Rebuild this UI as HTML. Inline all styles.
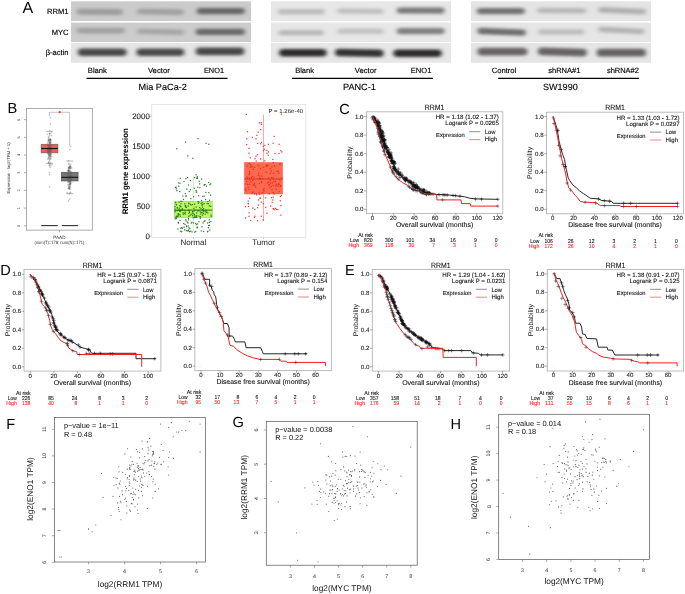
<!DOCTYPE html>
<html><head><meta charset="utf-8"><title>Figure</title>
<style>
html,body{margin:0;padding:0;background:#fff;}
body{width:685px;height:594px;overflow:hidden;}
svg{display:block;will-change:transform;font-family:"Liberation Sans", sans-serif;text-rendering:geometricPrecision;}
</style></head>
<body>
<svg width="685" height="594" viewBox="0 0 685 594">
<defs><filter id="bl" x="-20%" y="-100%" width="140%" height="300%"><feGaussianBlur stdDeviation="1.9 1.7"/></filter></defs>
<rect width="685" height="594" fill="#fff"/>
<text x="22.60" y="12.80" font-size="16" fill="#000">A</text>
<text x="68.60" y="14.20" font-size="7.6" fill="#000" text-anchor="end" stroke="#000" stroke-width="0.15">RRM1</text>
<text x="68.60" y="35.20" font-size="7.6" fill="#000" text-anchor="end" stroke="#000" stroke-width="0.15">MYC</text>
<text x="68.60" y="55.00" font-size="7.6" fill="#000" text-anchor="end" stroke="#000" stroke-width="0.15">β-actin</text>
<rect x="71.00" y="1.30" width="180.00" height="19.70" fill="#cbcbcb" stroke="none" stroke-width="1"/>
<rect x="71.00" y="22.60" width="180.00" height="19.40" fill="#cccccc" stroke="none" stroke-width="1"/>
<rect x="71.00" y="43.00" width="180.00" height="19.80" fill="#e5e5e5" stroke="none" stroke-width="1"/>
<g filter="url(#bl)"><rect x="76.75" y="8.80" width="46.00" height="6.00" rx="3.00" fill="#9c9c9c" transform="rotate(0.24 99.75 11.80)"/></g>
<g filter="url(#bl)"><rect x="137.25" y="9.00" width="46.51" height="5.60" rx="2.80" fill="#a0a0a0" transform="rotate(0.95 160.50 11.80)"/></g>
<g filter="url(#bl)"><rect x="196.75" y="7.90" width="48.00" height="6.40" rx="3.20" fill="#666666"/></g>
<g filter="url(#bl)"><rect x="76.75" y="27.70" width="48.00" height="5.80" rx="2.90" fill="#a0a0a0"/></g>
<g filter="url(#bl)"><rect x="137.24" y="29.00" width="46.51" height="5.60" rx="2.80" fill="#a6a6a6" transform="rotate(1.43 160.50 31.80)"/></g>
<g filter="url(#bl)"><rect x="195.75" y="28.80" width="49.00" height="6.20" rx="3.10" fill="#686868"/></g>
<g filter="url(#bl)"><rect x="77.75" y="48.40" width="48.90" height="7.60" rx="3.80" fill="#4a4646"/></g>
<g filter="url(#bl)"><rect x="136.45" y="48.40" width="47.80" height="7.60" rx="3.80" fill="#4c4848"/></g>
<g filter="url(#bl)"><rect x="195.75" y="47.60" width="48.50" height="7.60" rx="3.80" fill="#4a4646"/></g>
<rect x="271.00" y="1.30" width="180.00" height="19.70" fill="#e7e7e7" stroke="none" stroke-width="1"/>
<rect x="271.00" y="22.60" width="180.00" height="19.40" fill="#e7e7e7" stroke="none" stroke-width="1"/>
<rect x="271.00" y="43.00" width="180.00" height="19.80" fill="#e7e7e7" stroke="none" stroke-width="1"/>
<g filter="url(#bl)"><rect x="277.75" y="8.90" width="47.00" height="5.60" rx="2.80" fill="#bcbcbc"/></g>
<g filter="url(#bl)"><rect x="337.35" y="8.50" width="46.20" height="5.40" rx="2.70" fill="#c0c0c0" transform="rotate(0.48 360.45 11.20)"/></g>
<g filter="url(#bl)"><rect x="396.75" y="7.50" width="47.80" height="6.20" rx="3.10" fill="#7a7a7a" transform="rotate(0.23 420.65 10.60)"/></g>
<g filter="url(#bl)"><rect x="278.25" y="29.90" width="45.60" height="5.60" rx="2.80" fill="#bababa"/></g>
<g filter="url(#bl)"><rect x="337.35" y="28.60" width="46.20" height="5.40" rx="2.70" fill="#c2c2c2"/></g>
<g filter="url(#bl)"><rect x="396.75" y="28.00" width="47.80" height="6.20" rx="3.10" fill="#808080"/></g>
<g filter="url(#bl)"><rect x="279.05" y="48.90" width="47.60" height="7.60" rx="3.80" fill="#2e2a2a"/></g>
<g filter="url(#bl)"><rect x="335.05" y="49.10" width="48.51" height="7.60" rx="3.80" fill="#363232" transform="rotate(1.15 359.30 52.90)"/></g>
<g filter="url(#bl)"><rect x="393.35" y="49.50" width="48.40" height="7.60" rx="3.80" fill="#2e2a2a"/></g>
<rect x="471.00" y="1.30" width="180.00" height="19.70" fill="#e4e4e4" stroke="none" stroke-width="1"/>
<rect x="471.00" y="22.60" width="180.00" height="19.40" fill="#e5e5e5" stroke="none" stroke-width="1"/>
<rect x="471.00" y="43.00" width="180.00" height="19.80" fill="#e5e5e5" stroke="none" stroke-width="1"/>
<g filter="url(#bl)"><rect x="476.85" y="7.90" width="47.90" height="6.40" rx="3.20" fill="#727272"/></g>
<g filter="url(#bl)"><rect x="537.35" y="7.80" width="48.90" height="5.60" rx="2.80" fill="#b8b8b8" transform="rotate(0.23 561.80 10.60)"/></g>
<g filter="url(#bl)"><rect x="598.33" y="7.90" width="47.64" height="5.80" rx="2.90" fill="#b0b0b0" transform="rotate(2.33 622.15 10.80)"/></g>
<g filter="url(#bl)"><rect x="477.43" y="28.60" width="48.44" height="6.40" rx="3.20" fill="#6e6e6e" transform="rotate(2.30 501.65 31.80)"/></g>
<g filter="url(#bl)"><rect x="538.45" y="29.20" width="45.60" height="5.40" rx="2.70" fill="#bcbcbc"/></g>
<g filter="url(#bl)"><rect x="598.32" y="27.60" width="46.26" height="5.60" rx="2.80" fill="#b4b4b4" transform="rotate(2.88 621.45 30.40)"/></g>
<g filter="url(#bl)"><rect x="477.45" y="47.70" width="50.00" height="7.80" rx="3.90" fill="#686464"/></g>
<g filter="url(#bl)"><rect x="537.84" y="48.20" width="49.03" height="7.60" rx="3.80" fill="#686464" transform="rotate(1.81 562.35 52.00)"/></g>
<g filter="url(#bl)"><rect x="596.65" y="48.80" width="49.30" height="7.80" rx="3.90" fill="#666262"/></g>
<text x="87.80" y="72.80" font-size="7.6" fill="#000" textLength="19.10" lengthAdjust="spacingAndGlyphs" stroke="#000" stroke-width="0.15">Blank</text>
<text x="147.90" y="72.80" font-size="7.6" fill="#000" textLength="21.90" lengthAdjust="spacingAndGlyphs" stroke="#000" stroke-width="0.15">Vector</text>
<text x="203.90" y="72.80" font-size="7.6" fill="#000" textLength="20.10" lengthAdjust="spacingAndGlyphs" stroke="#000" stroke-width="0.15">ENO1</text>
<text x="295.20" y="72.80" font-size="7.6" fill="#000" textLength="18.70" lengthAdjust="spacingAndGlyphs" stroke="#000" stroke-width="0.15">Blank</text>
<text x="354.80" y="72.80" font-size="7.6" fill="#000" textLength="21.70" lengthAdjust="spacingAndGlyphs" stroke="#000" stroke-width="0.15">Vector</text>
<text x="410.80" y="72.80" font-size="7.6" fill="#000" textLength="20.60" lengthAdjust="spacingAndGlyphs" stroke="#000" stroke-width="0.15">ENO1</text>
<text x="491.70" y="72.80" font-size="7.6" fill="#000" textLength="24.50" lengthAdjust="spacingAndGlyphs" stroke="#000" stroke-width="0.15">Control</text>
<text x="548.20" y="72.80" font-size="7.6" fill="#000" textLength="32.30" lengthAdjust="spacingAndGlyphs" stroke="#000" stroke-width="0.15">shRNA#1</text>
<text x="606.90" y="72.80" font-size="7.6" fill="#000" textLength="32.00" lengthAdjust="spacingAndGlyphs" stroke="#000" stroke-width="0.15">shRNA#2</text>
<line x1="86.50" y1="78.30" x2="227.60" y2="78.30" stroke="#000" stroke-width="1.3"/>
<line x1="292.10" y1="78.30" x2="433.00" y2="78.30" stroke="#000" stroke-width="1.3"/>
<line x1="498.20" y1="78.30" x2="638.90" y2="78.30" stroke="#000" stroke-width="1.3"/>
<text x="138.60" y="89.90" font-size="9" fill="#000" textLength="48.30" lengthAdjust="spacingAndGlyphs" stroke="#000" stroke-width="0.12">Mia PaCa-2</text>
<text x="343.00" y="89.90" font-size="9" fill="#000" textLength="32.80" lengthAdjust="spacingAndGlyphs" stroke="#000" stroke-width="0.12">PANC-1</text>
<text x="543.00" y="89.90" font-size="9" fill="#000" textLength="34.70" lengthAdjust="spacingAndGlyphs" stroke="#000" stroke-width="0.12">SW1990</text>
<text x="7.60" y="113.20" font-size="14.6" fill="#000">B</text>
<rect x="26.40" y="108.50" width="65.90" height="121.60" fill="none" stroke="#8a8a8a" stroke-width="0.7"/>
<line x1="24.00" y1="225.80" x2="26.40" y2="225.80" stroke="#777" stroke-width="0.6"/>
<text x="20.20" y="225.80" font-size="3.8" fill="#333" text-anchor="middle" transform="rotate(-90 20.20 225.80)">0</text>
<line x1="24.00" y1="208.10" x2="26.40" y2="208.10" stroke="#777" stroke-width="0.6"/>
<text x="20.20" y="208.10" font-size="3.8" fill="#333" text-anchor="middle" transform="rotate(-90 20.20 208.10)">1</text>
<line x1="24.00" y1="190.40" x2="26.40" y2="190.40" stroke="#777" stroke-width="0.6"/>
<text x="20.20" y="190.40" font-size="3.8" fill="#333" text-anchor="middle" transform="rotate(-90 20.20 190.40)">2</text>
<line x1="24.00" y1="172.70" x2="26.40" y2="172.70" stroke="#777" stroke-width="0.6"/>
<text x="20.20" y="172.70" font-size="3.8" fill="#333" text-anchor="middle" transform="rotate(-90 20.20 172.70)">3</text>
<line x1="24.00" y1="155.00" x2="26.40" y2="155.00" stroke="#777" stroke-width="0.6"/>
<text x="20.20" y="155.00" font-size="3.8" fill="#333" text-anchor="middle" transform="rotate(-90 20.20 155.00)">4</text>
<line x1="24.00" y1="137.30" x2="26.40" y2="137.30" stroke="#777" stroke-width="0.6"/>
<text x="20.20" y="137.30" font-size="3.8" fill="#333" text-anchor="middle" transform="rotate(-90 20.20 137.30)">5</text>
<line x1="24.00" y1="119.60" x2="26.40" y2="119.60" stroke="#777" stroke-width="0.6"/>
<text x="20.20" y="119.60" font-size="3.8" fill="#333" text-anchor="middle" transform="rotate(-90 20.20 119.60)">6</text>
<line x1="59.40" y1="230.10" x2="59.40" y2="232.20" stroke="#777" stroke-width="0.6"/>
<text x="59.40" y="239.00" font-size="4.6" fill="#333" text-anchor="middle">PAAD</text>
<text x="59.40" y="244.20" font-size="4.6" fill="#333" text-anchor="middle" textLength="50.00" lengthAdjust="spacingAndGlyphs">(num(T)=178; num(N)=171)</text>
<text x="9.80" y="168.00" font-size="4.2" fill="#333" text-anchor="middle" transform="rotate(-90 9.80 168.00)">Expression - log2(TPM + 1)</text>
<rect x="41.10" y="144.20" width="16.80" height="8.70" fill="#f45a55" stroke="#555" stroke-width="0.5"/>
<rect x="61.30" y="172.20" width="16.80" height="8.80" fill="#767676" stroke="#444" stroke-width="0.5"/>
<line x1="45.90" y1="131.40" x2="53.10" y2="131.40" stroke="#888" stroke-width="0.6"/>
<line x1="45.90" y1="163.40" x2="53.10" y2="163.40" stroke="#888" stroke-width="0.6"/>
<line x1="66.10" y1="161.00" x2="73.30" y2="161.00" stroke="#888" stroke-width="0.6"/>
<line x1="66.10" y1="193.60" x2="73.30" y2="193.60" stroke="#888" stroke-width="0.6"/>
<circle cx="49.34" cy="147.22" r="0.5" fill="none" stroke="#666" stroke-width="0.3"/>
<circle cx="49.02" cy="138.63" r="0.5" fill="none" stroke="#666" stroke-width="0.3"/>
<circle cx="49.07" cy="154.84" r="0.5" fill="none" stroke="#666" stroke-width="0.3"/>
<circle cx="50.39" cy="140.54" r="0.5" fill="none" stroke="#666" stroke-width="0.3"/>
<circle cx="50.09" cy="149.85" r="0.5" fill="none" stroke="#666" stroke-width="0.3"/>
<circle cx="48.48" cy="149.86" r="0.5" fill="none" stroke="#666" stroke-width="0.3"/>
<circle cx="49.91" cy="133.80" r="0.5" fill="none" stroke="#666" stroke-width="0.3"/>
<circle cx="48.97" cy="146.75" r="0.5" fill="none" stroke="#666" stroke-width="0.3"/>
<circle cx="48.67" cy="148.24" r="0.5" fill="none" stroke="#666" stroke-width="0.3"/>
<circle cx="50.86" cy="142.50" r="0.5" fill="none" stroke="#666" stroke-width="0.3"/>
<circle cx="50.40" cy="139.54" r="0.5" fill="none" stroke="#666" stroke-width="0.3"/>
<circle cx="48.70" cy="148.15" r="0.5" fill="none" stroke="#666" stroke-width="0.3"/>
<circle cx="49.59" cy="143.55" r="0.5" fill="none" stroke="#666" stroke-width="0.3"/>
<circle cx="50.05" cy="155.16" r="0.5" fill="none" stroke="#666" stroke-width="0.3"/>
<circle cx="48.80" cy="150.65" r="0.5" fill="none" stroke="#666" stroke-width="0.3"/>
<circle cx="49.37" cy="151.18" r="0.5" fill="none" stroke="#666" stroke-width="0.3"/>
<circle cx="50.23" cy="157.82" r="0.5" fill="none" stroke="#666" stroke-width="0.3"/>
<circle cx="47.53" cy="159.13" r="0.5" fill="none" stroke="#666" stroke-width="0.3"/>
<circle cx="49.86" cy="160.01" r="0.5" fill="none" stroke="#666" stroke-width="0.3"/>
<circle cx="50.31" cy="149.69" r="0.5" fill="none" stroke="#666" stroke-width="0.3"/>
<circle cx="50.05" cy="149.20" r="0.5" fill="none" stroke="#666" stroke-width="0.3"/>
<circle cx="48.02" cy="150.30" r="0.5" fill="none" stroke="#666" stroke-width="0.3"/>
<circle cx="49.85" cy="147.41" r="0.5" fill="none" stroke="#666" stroke-width="0.3"/>
<circle cx="48.55" cy="157.85" r="0.5" fill="none" stroke="#666" stroke-width="0.3"/>
<circle cx="50.13" cy="148.51" r="0.5" fill="none" stroke="#666" stroke-width="0.3"/>
<circle cx="50.17" cy="146.15" r="0.5" fill="none" stroke="#666" stroke-width="0.3"/>
<circle cx="49.74" cy="142.34" r="0.5" fill="none" stroke="#666" stroke-width="0.3"/>
<circle cx="48.66" cy="154.21" r="0.5" fill="none" stroke="#666" stroke-width="0.3"/>
<circle cx="48.85" cy="150.89" r="0.5" fill="none" stroke="#666" stroke-width="0.3"/>
<circle cx="50.44" cy="162.90" r="0.5" fill="none" stroke="#666" stroke-width="0.3"/>
<circle cx="48.51" cy="151.66" r="0.5" fill="none" stroke="#666" stroke-width="0.3"/>
<circle cx="50.05" cy="164.25" r="0.5" fill="none" stroke="#666" stroke-width="0.3"/>
<circle cx="50.06" cy="158.47" r="0.5" fill="none" stroke="#666" stroke-width="0.3"/>
<circle cx="49.19" cy="139.73" r="0.5" fill="none" stroke="#666" stroke-width="0.3"/>
<circle cx="52.13" cy="164.29" r="0.5" fill="none" stroke="#666" stroke-width="0.3"/>
<circle cx="49.58" cy="141.98" r="0.5" fill="none" stroke="#666" stroke-width="0.3"/>
<circle cx="51.86" cy="145.48" r="0.5" fill="none" stroke="#666" stroke-width="0.3"/>
<circle cx="47.28" cy="150.24" r="0.5" fill="none" stroke="#666" stroke-width="0.3"/>
<circle cx="47.03" cy="144.51" r="0.5" fill="none" stroke="#666" stroke-width="0.3"/>
<circle cx="50.58" cy="144.00" r="0.5" fill="none" stroke="#666" stroke-width="0.3"/>
<circle cx="50.20" cy="140.15" r="0.5" fill="none" stroke="#666" stroke-width="0.3"/>
<circle cx="49.16" cy="149.63" r="0.5" fill="none" stroke="#666" stroke-width="0.3"/>
<circle cx="49.44" cy="152.32" r="0.5" fill="none" stroke="#666" stroke-width="0.3"/>
<circle cx="47.41" cy="152.41" r="0.5" fill="none" stroke="#666" stroke-width="0.3"/>
<circle cx="48.81" cy="155.25" r="0.5" fill="none" stroke="#666" stroke-width="0.3"/>
<circle cx="48.36" cy="148.25" r="0.5" fill="none" stroke="#666" stroke-width="0.3"/>
<circle cx="49.26" cy="153.76" r="0.5" fill="none" stroke="#666" stroke-width="0.3"/>
<circle cx="50.47" cy="139.98" r="0.5" fill="none" stroke="#666" stroke-width="0.3"/>
<circle cx="49.56" cy="161.82" r="0.5" fill="none" stroke="#666" stroke-width="0.3"/>
<circle cx="49.91" cy="156.05" r="0.5" fill="none" stroke="#666" stroke-width="0.3"/>
<circle cx="48.73" cy="155.01" r="0.5" fill="none" stroke="#666" stroke-width="0.3"/>
<circle cx="49.02" cy="163.48" r="0.5" fill="none" stroke="#666" stroke-width="0.3"/>
<circle cx="49.62" cy="133.78" r="0.5" fill="none" stroke="#666" stroke-width="0.3"/>
<circle cx="49.19" cy="165.82" r="0.5" fill="none" stroke="#666" stroke-width="0.3"/>
<circle cx="50.89" cy="150.03" r="0.5" fill="none" stroke="#666" stroke-width="0.3"/>
<circle cx="48.54" cy="151.82" r="0.5" fill="none" stroke="#666" stroke-width="0.3"/>
<circle cx="51.58" cy="135.61" r="0.5" fill="none" stroke="#666" stroke-width="0.3"/>
<circle cx="48.42" cy="162.68" r="0.5" fill="none" stroke="#666" stroke-width="0.3"/>
<circle cx="50.67" cy="139.95" r="0.5" fill="none" stroke="#666" stroke-width="0.3"/>
<circle cx="48.65" cy="153.36" r="0.5" fill="none" stroke="#666" stroke-width="0.3"/>
<circle cx="51.31" cy="149.07" r="0.5" fill="none" stroke="#666" stroke-width="0.3"/>
<circle cx="49.65" cy="152.91" r="0.5" fill="none" stroke="#666" stroke-width="0.3"/>
<circle cx="49.94" cy="143.16" r="0.5" fill="none" stroke="#666" stroke-width="0.3"/>
<circle cx="50.32" cy="156.38" r="0.5" fill="none" stroke="#666" stroke-width="0.3"/>
<circle cx="48.80" cy="148.51" r="0.5" fill="none" stroke="#666" stroke-width="0.3"/>
<circle cx="48.35" cy="145.29" r="0.5" fill="none" stroke="#666" stroke-width="0.3"/>
<circle cx="47.27" cy="134.24" r="0.5" fill="none" stroke="#666" stroke-width="0.3"/>
<circle cx="50.84" cy="165.80" r="0.5" fill="none" stroke="#666" stroke-width="0.3"/>
<circle cx="48.73" cy="136.58" r="0.5" fill="none" stroke="#666" stroke-width="0.3"/>
<circle cx="48.85" cy="140.87" r="0.5" fill="none" stroke="#666" stroke-width="0.3"/>
<circle cx="49.47" cy="151.51" r="0.5" fill="none" stroke="#666" stroke-width="0.3"/>
<circle cx="51.69" cy="145.65" r="0.5" fill="none" stroke="#666" stroke-width="0.3"/>
<circle cx="47.60" cy="151.38" r="0.5" fill="none" stroke="#666" stroke-width="0.3"/>
<circle cx="49.77" cy="135.68" r="0.5" fill="none" stroke="#666" stroke-width="0.3"/>
<circle cx="49.06" cy="146.36" r="0.5" fill="none" stroke="#666" stroke-width="0.3"/>
<circle cx="50.09" cy="149.52" r="0.5" fill="none" stroke="#666" stroke-width="0.3"/>
<circle cx="47.52" cy="149.62" r="0.5" fill="none" stroke="#666" stroke-width="0.3"/>
<circle cx="49.06" cy="149.41" r="0.5" fill="none" stroke="#666" stroke-width="0.3"/>
<circle cx="50.42" cy="149.23" r="0.5" fill="none" stroke="#666" stroke-width="0.3"/>
<circle cx="51.21" cy="154.45" r="0.5" fill="none" stroke="#666" stroke-width="0.3"/>
<circle cx="51.26" cy="132.62" r="0.5" fill="none" stroke="#666" stroke-width="0.3"/>
<circle cx="48.56" cy="162.13" r="0.5" fill="none" stroke="#666" stroke-width="0.3"/>
<circle cx="49.56" cy="174.73" r="0.5" fill="none" stroke="#666" stroke-width="0.3"/>
<circle cx="49.38" cy="148.83" r="0.5" fill="none" stroke="#666" stroke-width="0.3"/>
<circle cx="47.99" cy="149.01" r="0.5" fill="none" stroke="#666" stroke-width="0.3"/>
<circle cx="47.92" cy="145.15" r="0.5" fill="none" stroke="#666" stroke-width="0.3"/>
<circle cx="50.33" cy="149.44" r="0.5" fill="none" stroke="#666" stroke-width="0.3"/>
<circle cx="49.77" cy="149.02" r="0.5" fill="none" stroke="#666" stroke-width="0.3"/>
<circle cx="49.34" cy="145.45" r="0.5" fill="none" stroke="#666" stroke-width="0.3"/>
<circle cx="50.84" cy="140.72" r="0.5" fill="none" stroke="#666" stroke-width="0.3"/>
<circle cx="48.40" cy="151.25" r="0.5" fill="none" stroke="#666" stroke-width="0.3"/>
<circle cx="50.08" cy="150.69" r="0.5" fill="none" stroke="#666" stroke-width="0.3"/>
<circle cx="49.51" cy="133.49" r="0.5" fill="none" stroke="#666" stroke-width="0.3"/>
<circle cx="49.43" cy="143.98" r="0.5" fill="none" stroke="#666" stroke-width="0.3"/>
<circle cx="50.04" cy="155.25" r="0.5" fill="none" stroke="#666" stroke-width="0.3"/>
<circle cx="49.69" cy="130.64" r="0.5" fill="none" stroke="#666" stroke-width="0.3"/>
<circle cx="49.79" cy="142.15" r="0.5" fill="none" stroke="#666" stroke-width="0.3"/>
<circle cx="49.79" cy="152.30" r="0.5" fill="none" stroke="#666" stroke-width="0.3"/>
<circle cx="51.63" cy="156.65" r="0.5" fill="none" stroke="#666" stroke-width="0.3"/>
<circle cx="49.16" cy="145.70" r="0.5" fill="none" stroke="#666" stroke-width="0.3"/>
<circle cx="50.61" cy="154.11" r="0.5" fill="none" stroke="#666" stroke-width="0.3"/>
<circle cx="50.17" cy="155.78" r="0.5" fill="none" stroke="#666" stroke-width="0.3"/>
<circle cx="49.12" cy="157.55" r="0.5" fill="none" stroke="#666" stroke-width="0.3"/>
<circle cx="50.38" cy="151.68" r="0.5" fill="none" stroke="#666" stroke-width="0.3"/>
<circle cx="48.56" cy="139.69" r="0.5" fill="none" stroke="#666" stroke-width="0.3"/>
<circle cx="50.78" cy="151.14" r="0.5" fill="none" stroke="#666" stroke-width="0.3"/>
<circle cx="48.61" cy="158.69" r="0.5" fill="none" stroke="#666" stroke-width="0.3"/>
<circle cx="48.96" cy="142.95" r="0.5" fill="none" stroke="#666" stroke-width="0.3"/>
<circle cx="49.86" cy="147.43" r="0.5" fill="none" stroke="#666" stroke-width="0.3"/>
<circle cx="50.42" cy="141.65" r="0.5" fill="none" stroke="#666" stroke-width="0.3"/>
<circle cx="50.50" cy="138.99" r="0.5" fill="none" stroke="#666" stroke-width="0.3"/>
<circle cx="50.48" cy="149.17" r="0.5" fill="none" stroke="#666" stroke-width="0.3"/>
<circle cx="49.27" cy="149.00" r="0.5" fill="none" stroke="#666" stroke-width="0.3"/>
<circle cx="48.45" cy="148.26" r="0.5" fill="none" stroke="#666" stroke-width="0.3"/>
<circle cx="50.10" cy="156.35" r="0.5" fill="none" stroke="#666" stroke-width="0.3"/>
<circle cx="49.83" cy="142.95" r="0.5" fill="none" stroke="#666" stroke-width="0.3"/>
<circle cx="48.45" cy="137.72" r="0.5" fill="none" stroke="#666" stroke-width="0.3"/>
<circle cx="50.57" cy="146.63" r="0.5" fill="none" stroke="#666" stroke-width="0.3"/>
<circle cx="49.72" cy="149.69" r="0.5" fill="none" stroke="#666" stroke-width="0.3"/>
<circle cx="48.45" cy="149.85" r="0.5" fill="none" stroke="#666" stroke-width="0.3"/>
<circle cx="49.99" cy="153.72" r="0.5" fill="none" stroke="#666" stroke-width="0.3"/>
<circle cx="48.04" cy="153.90" r="0.5" fill="none" stroke="#666" stroke-width="0.3"/>
<circle cx="48.53" cy="150.90" r="0.5" fill="none" stroke="#666" stroke-width="0.3"/>
<circle cx="49.94" cy="154.18" r="0.5" fill="none" stroke="#666" stroke-width="0.3"/>
<circle cx="47.79" cy="151.17" r="0.5" fill="none" stroke="#666" stroke-width="0.3"/>
<circle cx="49.54" cy="159.65" r="0.5" fill="none" stroke="#666" stroke-width="0.3"/>
<circle cx="48.01" cy="145.32" r="0.5" fill="none" stroke="#666" stroke-width="0.3"/>
<circle cx="50.31" cy="147.55" r="0.5" fill="none" stroke="#666" stroke-width="0.3"/>
<circle cx="48.70" cy="156.49" r="0.5" fill="none" stroke="#666" stroke-width="0.3"/>
<circle cx="49.70" cy="165.01" r="0.5" fill="none" stroke="#666" stroke-width="0.3"/>
<circle cx="47.85" cy="147.98" r="0.5" fill="none" stroke="#666" stroke-width="0.3"/>
<circle cx="49.12" cy="139.71" r="0.5" fill="none" stroke="#666" stroke-width="0.3"/>
<circle cx="50.54" cy="153.37" r="0.5" fill="none" stroke="#666" stroke-width="0.3"/>
<circle cx="50.00" cy="151.51" r="0.5" fill="none" stroke="#666" stroke-width="0.3"/>
<circle cx="47.48" cy="152.15" r="0.5" fill="none" stroke="#666" stroke-width="0.3"/>
<circle cx="50.52" cy="143.06" r="0.5" fill="none" stroke="#666" stroke-width="0.3"/>
<circle cx="50.48" cy="154.73" r="0.5" fill="none" stroke="#666" stroke-width="0.3"/>
<circle cx="49.09" cy="140.59" r="0.5" fill="none" stroke="#666" stroke-width="0.3"/>
<circle cx="51.06" cy="150.17" r="0.5" fill="none" stroke="#666" stroke-width="0.3"/>
<circle cx="48.33" cy="141.05" r="0.5" fill="none" stroke="#666" stroke-width="0.3"/>
<circle cx="49.41" cy="147.68" r="0.5" fill="none" stroke="#666" stroke-width="0.3"/>
<circle cx="50.73" cy="149.64" r="0.5" fill="none" stroke="#666" stroke-width="0.3"/>
<circle cx="50.94" cy="158.91" r="0.5" fill="none" stroke="#666" stroke-width="0.3"/>
<circle cx="50.91" cy="153.03" r="0.5" fill="none" stroke="#666" stroke-width="0.3"/>
<circle cx="48.30" cy="149.86" r="0.5" fill="none" stroke="#666" stroke-width="0.3"/>
<circle cx="47.54" cy="143.02" r="0.5" fill="none" stroke="#666" stroke-width="0.3"/>
<circle cx="49.93" cy="146.10" r="0.5" fill="none" stroke="#666" stroke-width="0.3"/>
<circle cx="47.93" cy="153.10" r="0.5" fill="none" stroke="#666" stroke-width="0.3"/>
<circle cx="49.36" cy="144.87" r="0.5" fill="none" stroke="#666" stroke-width="0.3"/>
<circle cx="48.09" cy="140.58" r="0.5" fill="none" stroke="#666" stroke-width="0.3"/>
<circle cx="50.67" cy="117.83" r="0.5" fill="none" stroke="#666" stroke-width="0.3"/>
<circle cx="50.38" cy="124.03" r="0.5" fill="none" stroke="#666" stroke-width="0.3"/>
<circle cx="50.11" cy="167.39" r="0.5" fill="none" stroke="#666" stroke-width="0.3"/>
<circle cx="49.52" cy="172.70" r="0.5" fill="none" stroke="#666" stroke-width="0.3"/>
<circle cx="49.55" cy="186.86" r="0.5" fill="none" stroke="#666" stroke-width="0.3"/>
<circle cx="68.08" cy="179.13" r="0.5" fill="none" stroke="#666" stroke-width="0.3"/>
<circle cx="69.06" cy="174.55" r="0.5" fill="none" stroke="#666" stroke-width="0.3"/>
<circle cx="69.42" cy="175.45" r="0.5" fill="none" stroke="#666" stroke-width="0.3"/>
<circle cx="68.75" cy="174.04" r="0.5" fill="none" stroke="#666" stroke-width="0.3"/>
<circle cx="68.47" cy="180.01" r="0.5" fill="none" stroke="#666" stroke-width="0.3"/>
<circle cx="70.70" cy="164.35" r="0.5" fill="none" stroke="#666" stroke-width="0.3"/>
<circle cx="71.79" cy="175.23" r="0.5" fill="none" stroke="#666" stroke-width="0.3"/>
<circle cx="69.38" cy="167.75" r="0.5" fill="none" stroke="#666" stroke-width="0.3"/>
<circle cx="69.23" cy="168.17" r="0.5" fill="none" stroke="#666" stroke-width="0.3"/>
<circle cx="70.25" cy="183.04" r="0.5" fill="none" stroke="#666" stroke-width="0.3"/>
<circle cx="69.45" cy="188.47" r="0.5" fill="none" stroke="#666" stroke-width="0.3"/>
<circle cx="68.84" cy="168.67" r="0.5" fill="none" stroke="#666" stroke-width="0.3"/>
<circle cx="71.23" cy="179.73" r="0.5" fill="none" stroke="#666" stroke-width="0.3"/>
<circle cx="68.55" cy="176.57" r="0.5" fill="none" stroke="#666" stroke-width="0.3"/>
<circle cx="68.90" cy="178.87" r="0.5" fill="none" stroke="#666" stroke-width="0.3"/>
<circle cx="68.97" cy="176.25" r="0.5" fill="none" stroke="#666" stroke-width="0.3"/>
<circle cx="68.73" cy="185.13" r="0.5" fill="none" stroke="#666" stroke-width="0.3"/>
<circle cx="69.44" cy="177.82" r="0.5" fill="none" stroke="#666" stroke-width="0.3"/>
<circle cx="70.33" cy="180.24" r="0.5" fill="none" stroke="#666" stroke-width="0.3"/>
<circle cx="71.29" cy="177.23" r="0.5" fill="none" stroke="#666" stroke-width="0.3"/>
<circle cx="70.43" cy="192.83" r="0.5" fill="none" stroke="#666" stroke-width="0.3"/>
<circle cx="69.74" cy="171.60" r="0.5" fill="none" stroke="#666" stroke-width="0.3"/>
<circle cx="68.32" cy="174.89" r="0.5" fill="none" stroke="#666" stroke-width="0.3"/>
<circle cx="69.63" cy="188.74" r="0.5" fill="none" stroke="#666" stroke-width="0.3"/>
<circle cx="68.66" cy="182.06" r="0.5" fill="none" stroke="#666" stroke-width="0.3"/>
<circle cx="69.59" cy="176.92" r="0.5" fill="none" stroke="#666" stroke-width="0.3"/>
<circle cx="70.78" cy="172.90" r="0.5" fill="none" stroke="#666" stroke-width="0.3"/>
<circle cx="69.92" cy="177.12" r="0.5" fill="none" stroke="#666" stroke-width="0.3"/>
<circle cx="69.47" cy="167.82" r="0.5" fill="none" stroke="#666" stroke-width="0.3"/>
<circle cx="68.87" cy="176.98" r="0.5" fill="none" stroke="#666" stroke-width="0.3"/>
<circle cx="69.68" cy="183.85" r="0.5" fill="none" stroke="#666" stroke-width="0.3"/>
<circle cx="69.82" cy="181.67" r="0.5" fill="none" stroke="#666" stroke-width="0.3"/>
<circle cx="68.68" cy="172.12" r="0.5" fill="none" stroke="#666" stroke-width="0.3"/>
<circle cx="69.14" cy="181.25" r="0.5" fill="none" stroke="#666" stroke-width="0.3"/>
<circle cx="70.67" cy="171.47" r="0.5" fill="none" stroke="#666" stroke-width="0.3"/>
<circle cx="67.87" cy="170.26" r="0.5" fill="none" stroke="#666" stroke-width="0.3"/>
<circle cx="69.21" cy="173.17" r="0.5" fill="none" stroke="#666" stroke-width="0.3"/>
<circle cx="68.42" cy="170.28" r="0.5" fill="none" stroke="#666" stroke-width="0.3"/>
<circle cx="71.40" cy="178.29" r="0.5" fill="none" stroke="#666" stroke-width="0.3"/>
<circle cx="70.37" cy="177.19" r="0.5" fill="none" stroke="#666" stroke-width="0.3"/>
<circle cx="70.27" cy="181.10" r="0.5" fill="none" stroke="#666" stroke-width="0.3"/>
<circle cx="70.14" cy="181.23" r="0.5" fill="none" stroke="#666" stroke-width="0.3"/>
<circle cx="70.02" cy="187.65" r="0.5" fill="none" stroke="#666" stroke-width="0.3"/>
<circle cx="70.02" cy="180.86" r="0.5" fill="none" stroke="#666" stroke-width="0.3"/>
<circle cx="67.96" cy="184.33" r="0.5" fill="none" stroke="#666" stroke-width="0.3"/>
<circle cx="69.98" cy="186.73" r="0.5" fill="none" stroke="#666" stroke-width="0.3"/>
<circle cx="70.35" cy="176.14" r="0.5" fill="none" stroke="#666" stroke-width="0.3"/>
<circle cx="68.13" cy="174.07" r="0.5" fill="none" stroke="#666" stroke-width="0.3"/>
<circle cx="70.61" cy="179.42" r="0.5" fill="none" stroke="#666" stroke-width="0.3"/>
<circle cx="70.43" cy="167.92" r="0.5" fill="none" stroke="#666" stroke-width="0.3"/>
<circle cx="68.03" cy="170.80" r="0.5" fill="none" stroke="#666" stroke-width="0.3"/>
<circle cx="69.18" cy="170.10" r="0.5" fill="none" stroke="#666" stroke-width="0.3"/>
<circle cx="69.36" cy="181.19" r="0.5" fill="none" stroke="#666" stroke-width="0.3"/>
<circle cx="69.12" cy="187.16" r="0.5" fill="none" stroke="#666" stroke-width="0.3"/>
<circle cx="70.13" cy="173.37" r="0.5" fill="none" stroke="#666" stroke-width="0.3"/>
<circle cx="68.30" cy="175.05" r="0.5" fill="none" stroke="#666" stroke-width="0.3"/>
<circle cx="69.45" cy="172.24" r="0.5" fill="none" stroke="#666" stroke-width="0.3"/>
<circle cx="69.95" cy="174.32" r="0.5" fill="none" stroke="#666" stroke-width="0.3"/>
<circle cx="70.50" cy="168.65" r="0.5" fill="none" stroke="#666" stroke-width="0.3"/>
<circle cx="69.75" cy="179.06" r="0.5" fill="none" stroke="#666" stroke-width="0.3"/>
<circle cx="69.43" cy="172.63" r="0.5" fill="none" stroke="#666" stroke-width="0.3"/>
<circle cx="70.46" cy="183.15" r="0.5" fill="none" stroke="#666" stroke-width="0.3"/>
<circle cx="67.51" cy="192.66" r="0.5" fill="none" stroke="#666" stroke-width="0.3"/>
<circle cx="70.73" cy="180.11" r="0.5" fill="none" stroke="#666" stroke-width="0.3"/>
<circle cx="69.36" cy="167.04" r="0.5" fill="none" stroke="#666" stroke-width="0.3"/>
<circle cx="68.32" cy="188.40" r="0.5" fill="none" stroke="#666" stroke-width="0.3"/>
<circle cx="69.23" cy="170.28" r="0.5" fill="none" stroke="#666" stroke-width="0.3"/>
<circle cx="67.68" cy="181.70" r="0.5" fill="none" stroke="#666" stroke-width="0.3"/>
<circle cx="67.45" cy="179.81" r="0.5" fill="none" stroke="#666" stroke-width="0.3"/>
<circle cx="69.34" cy="176.83" r="0.5" fill="none" stroke="#666" stroke-width="0.3"/>
<circle cx="68.84" cy="175.70" r="0.5" fill="none" stroke="#666" stroke-width="0.3"/>
<circle cx="70.51" cy="183.68" r="0.5" fill="none" stroke="#666" stroke-width="0.3"/>
<circle cx="68.72" cy="176.28" r="0.5" fill="none" stroke="#666" stroke-width="0.3"/>
<circle cx="68.28" cy="174.14" r="0.5" fill="none" stroke="#666" stroke-width="0.3"/>
<circle cx="68.65" cy="171.51" r="0.5" fill="none" stroke="#666" stroke-width="0.3"/>
<circle cx="71.59" cy="182.20" r="0.5" fill="none" stroke="#666" stroke-width="0.3"/>
<circle cx="69.73" cy="166.69" r="0.5" fill="none" stroke="#666" stroke-width="0.3"/>
<circle cx="69.03" cy="164.30" r="0.5" fill="none" stroke="#666" stroke-width="0.3"/>
<circle cx="68.61" cy="160.88" r="0.5" fill="none" stroke="#666" stroke-width="0.3"/>
<circle cx="68.49" cy="186.14" r="0.5" fill="none" stroke="#666" stroke-width="0.3"/>
<circle cx="69.52" cy="175.96" r="0.5" fill="none" stroke="#666" stroke-width="0.3"/>
<circle cx="70.17" cy="189.63" r="0.5" fill="none" stroke="#666" stroke-width="0.3"/>
<circle cx="70.97" cy="174.58" r="0.5" fill="none" stroke="#666" stroke-width="0.3"/>
<circle cx="70.96" cy="173.39" r="0.5" fill="none" stroke="#666" stroke-width="0.3"/>
<circle cx="70.00" cy="184.85" r="0.5" fill="none" stroke="#666" stroke-width="0.3"/>
<circle cx="68.97" cy="187.79" r="0.5" fill="none" stroke="#666" stroke-width="0.3"/>
<circle cx="68.75" cy="175.87" r="0.5" fill="none" stroke="#666" stroke-width="0.3"/>
<circle cx="67.16" cy="172.90" r="0.5" fill="none" stroke="#666" stroke-width="0.3"/>
<circle cx="68.58" cy="182.46" r="0.5" fill="none" stroke="#666" stroke-width="0.3"/>
<circle cx="70.16" cy="178.88" r="0.5" fill="none" stroke="#666" stroke-width="0.3"/>
<circle cx="69.33" cy="194.12" r="0.5" fill="none" stroke="#666" stroke-width="0.3"/>
<circle cx="70.10" cy="181.88" r="0.5" fill="none" stroke="#666" stroke-width="0.3"/>
<circle cx="68.22" cy="176.14" r="0.5" fill="none" stroke="#666" stroke-width="0.3"/>
<circle cx="70.69" cy="176.10" r="0.5" fill="none" stroke="#666" stroke-width="0.3"/>
<circle cx="70.02" cy="166.48" r="0.5" fill="none" stroke="#666" stroke-width="0.3"/>
<circle cx="69.75" cy="184.80" r="0.5" fill="none" stroke="#666" stroke-width="0.3"/>
<circle cx="70.14" cy="192.27" r="0.5" fill="none" stroke="#666" stroke-width="0.3"/>
<circle cx="67.24" cy="174.08" r="0.5" fill="none" stroke="#666" stroke-width="0.3"/>
<circle cx="69.09" cy="181.10" r="0.5" fill="none" stroke="#666" stroke-width="0.3"/>
<circle cx="68.71" cy="175.20" r="0.5" fill="none" stroke="#666" stroke-width="0.3"/>
<circle cx="71.69" cy="172.29" r="0.5" fill="none" stroke="#666" stroke-width="0.3"/>
<circle cx="69.50" cy="173.09" r="0.5" fill="none" stroke="#666" stroke-width="0.3"/>
<circle cx="69.14" cy="167.43" r="0.5" fill="none" stroke="#666" stroke-width="0.3"/>
<circle cx="70.64" cy="168.03" r="0.5" fill="none" stroke="#666" stroke-width="0.3"/>
<circle cx="68.54" cy="188.32" r="0.5" fill="none" stroke="#666" stroke-width="0.3"/>
<circle cx="71.26" cy="177.55" r="0.5" fill="none" stroke="#666" stroke-width="0.3"/>
<circle cx="68.93" cy="163.67" r="0.5" fill="none" stroke="#666" stroke-width="0.3"/>
<circle cx="69.63" cy="179.86" r="0.5" fill="none" stroke="#666" stroke-width="0.3"/>
<circle cx="68.69" cy="170.62" r="0.5" fill="none" stroke="#666" stroke-width="0.3"/>
<circle cx="70.59" cy="177.50" r="0.5" fill="none" stroke="#666" stroke-width="0.3"/>
<circle cx="67.31" cy="179.95" r="0.5" fill="none" stroke="#666" stroke-width="0.3"/>
<circle cx="70.46" cy="166.48" r="0.5" fill="none" stroke="#666" stroke-width="0.3"/>
<circle cx="68.80" cy="170.12" r="0.5" fill="none" stroke="#666" stroke-width="0.3"/>
<circle cx="69.75" cy="178.76" r="0.5" fill="none" stroke="#666" stroke-width="0.3"/>
<circle cx="68.43" cy="171.02" r="0.5" fill="none" stroke="#666" stroke-width="0.3"/>
<circle cx="69.95" cy="185.96" r="0.5" fill="none" stroke="#666" stroke-width="0.3"/>
<circle cx="69.91" cy="182.00" r="0.5" fill="none" stroke="#666" stroke-width="0.3"/>
<circle cx="70.35" cy="171.06" r="0.5" fill="none" stroke="#666" stroke-width="0.3"/>
<circle cx="70.05" cy="176.86" r="0.5" fill="none" stroke="#666" stroke-width="0.3"/>
<circle cx="70.39" cy="184.27" r="0.5" fill="none" stroke="#666" stroke-width="0.3"/>
<circle cx="70.79" cy="174.10" r="0.5" fill="none" stroke="#666" stroke-width="0.3"/>
<circle cx="69.27" cy="174.91" r="0.5" fill="none" stroke="#666" stroke-width="0.3"/>
<circle cx="68.40" cy="168.48" r="0.5" fill="none" stroke="#666" stroke-width="0.3"/>
<circle cx="68.29" cy="170.69" r="0.5" fill="none" stroke="#666" stroke-width="0.3"/>
<circle cx="70.45" cy="178.98" r="0.5" fill="none" stroke="#666" stroke-width="0.3"/>
<circle cx="69.29" cy="180.38" r="0.5" fill="none" stroke="#666" stroke-width="0.3"/>
<circle cx="70.86" cy="178.06" r="0.5" fill="none" stroke="#666" stroke-width="0.3"/>
<circle cx="69.75" cy="178.67" r="0.5" fill="none" stroke="#666" stroke-width="0.3"/>
<circle cx="68.59" cy="167.29" r="0.5" fill="none" stroke="#666" stroke-width="0.3"/>
<circle cx="70.70" cy="166.44" r="0.5" fill="none" stroke="#666" stroke-width="0.3"/>
<circle cx="71.84" cy="168.00" r="0.5" fill="none" stroke="#666" stroke-width="0.3"/>
<circle cx="69.50" cy="174.57" r="0.5" fill="none" stroke="#666" stroke-width="0.3"/>
<circle cx="68.67" cy="178.77" r="0.5" fill="none" stroke="#666" stroke-width="0.3"/>
<circle cx="68.77" cy="171.05" r="0.5" fill="none" stroke="#666" stroke-width="0.3"/>
<circle cx="70.68" cy="179.47" r="0.5" fill="none" stroke="#666" stroke-width="0.3"/>
<circle cx="69.06" cy="175.54" r="0.5" fill="none" stroke="#666" stroke-width="0.3"/>
<circle cx="69.25" cy="188.33" r="0.5" fill="none" stroke="#666" stroke-width="0.3"/>
<circle cx="70.45" cy="179.97" r="0.5" fill="none" stroke="#666" stroke-width="0.3"/>
<circle cx="69.71" cy="167.44" r="0.5" fill="none" stroke="#666" stroke-width="0.3"/>
<circle cx="69.83" cy="184.03" r="0.5" fill="none" stroke="#666" stroke-width="0.3"/>
<circle cx="69.10" cy="187.16" r="0.5" fill="none" stroke="#666" stroke-width="0.3"/>
<circle cx="69.00" cy="178.23" r="0.5" fill="none" stroke="#666" stroke-width="0.3"/>
<circle cx="69.88" cy="165.91" r="0.5" fill="none" stroke="#666" stroke-width="0.3"/>
<circle cx="69.87" cy="167.37" r="0.5" fill="none" stroke="#666" stroke-width="0.3"/>
<circle cx="70.35" cy="179.54" r="0.5" fill="none" stroke="#666" stroke-width="0.3"/>
<circle cx="69.15" cy="180.34" r="0.5" fill="none" stroke="#666" stroke-width="0.3"/>
<circle cx="70.08" cy="177.87" r="0.5" fill="none" stroke="#666" stroke-width="0.3"/>
<circle cx="70.22" cy="183.39" r="0.5" fill="none" stroke="#666" stroke-width="0.3"/>
<circle cx="69.79" cy="176.88" r="0.5" fill="none" stroke="#666" stroke-width="0.3"/>
<circle cx="70.33" cy="179.14" r="0.5" fill="none" stroke="#666" stroke-width="0.3"/>
<circle cx="70.81" cy="146.15" r="0.5" fill="none" stroke="#666" stroke-width="0.3"/>
<circle cx="69.92" cy="149.69" r="0.5" fill="none" stroke="#666" stroke-width="0.3"/>
<circle cx="69.79" cy="199.25" r="0.5" fill="none" stroke="#666" stroke-width="0.3"/>
<circle cx="68.63" cy="201.02" r="0.5" fill="none" stroke="#666" stroke-width="0.3"/>
<line x1="41.10" y1="148.50" x2="57.90" y2="148.50" stroke="#111" stroke-width="1.1"/>
<line x1="61.30" y1="177.30" x2="78.10" y2="177.30" stroke="#111" stroke-width="1.1"/>
<line x1="41.30" y1="225.60" x2="57.70" y2="225.60" stroke="#333" stroke-width="1.1"/>
<line x1="61.80" y1="225.60" x2="78.10" y2="225.60" stroke="#333" stroke-width="1.1"/>
<polyline points="49.40,116.50 49.40,112.30 69.60,112.30 69.60,146.00" fill="none" stroke="#888" stroke-width="0.5" stroke-linejoin="miter"/>
<circle cx="59.7" cy="112.2" r="1.1" fill="#f33"/>
<rect x="151.70" y="104.40" width="154.10" height="133.10" fill="#fff" stroke="#e2e2e2" stroke-width="0.8"/>
<line x1="150.00" y1="236.00" x2="151.70" y2="236.00" stroke="#888" stroke-width="0.5"/>
<text x="149.80" y="238.85" font-size="7.9" fill="#222" text-anchor="end" stroke="#222" stroke-width="0.1">0</text>
<line x1="150.00" y1="206.03" x2="151.70" y2="206.03" stroke="#888" stroke-width="0.5"/>
<text x="149.80" y="208.88" font-size="7.9" fill="#222" text-anchor="end" stroke="#222" stroke-width="0.1">500</text>
<line x1="150.00" y1="176.05" x2="151.70" y2="176.05" stroke="#888" stroke-width="0.5"/>
<text x="149.80" y="178.90" font-size="7.9" fill="#222" text-anchor="end" stroke="#222" stroke-width="0.1">1000</text>
<line x1="150.00" y1="146.07" x2="151.70" y2="146.07" stroke="#888" stroke-width="0.5"/>
<text x="149.80" y="148.92" font-size="7.9" fill="#222" text-anchor="end" stroke="#222" stroke-width="0.1">1500</text>
<line x1="150.00" y1="116.10" x2="151.70" y2="116.10" stroke="#888" stroke-width="0.5"/>
<text x="149.80" y="118.95" font-size="7.9" fill="#222" text-anchor="end" stroke="#222" stroke-width="0.1">2000</text>
<text x="128.30" y="171.30" font-size="8.1" fill="#000" text-anchor="middle" font-weight="bold" textLength="86.00" lengthAdjust="spacingAndGlyphs" transform="rotate(-90 128.30 171.30)">RRM1 gene expression</text>
<line x1="193.30" y1="237.50" x2="193.30" y2="239.00" stroke="#888" stroke-width="0.5"/>
<line x1="263.50" y1="237.50" x2="263.50" y2="239.00" stroke="#888" stroke-width="0.5"/>
<text x="193.30" y="245.20" font-size="8.0" fill="#222" text-anchor="middle">Normal</text>
<text x="263.60" y="245.10" font-size="8.0" fill="#222" text-anchor="middle">Tumor</text>
<text x="268.40" y="112.70" font-size="5.9" fill="#222" textLength="34.80" lengthAdjust="spacingAndGlyphs">P = 1.26e-40</text>
<line x1="193.30" y1="176.60" x2="193.30" y2="231.30" stroke="#8fcf7f" stroke-width="0.45"/>
<rect x="174.30" y="201.40" width="38.00" height="16.00" fill="#bdf862" stroke="#86c25a" stroke-width="0.5"/>
<rect x="203.50" y="202.95" width="1.2" height="1.2" fill="#2b7a2b"/>
<rect x="208.16" y="182.00" width="1.2" height="1.2" fill="#2b7a2b"/>
<rect x="208.93" y="224.82" width="1.2" height="1.2" fill="#2b7a2b"/>
<rect x="178.54" y="201.52" width="1.2" height="1.2" fill="#2b7a2b"/>
<rect x="194.30" y="215.04" width="1.2" height="1.2" fill="#2b7a2b"/>
<rect x="182.33" y="209.50" width="1.2" height="1.2" fill="#2b7a2b"/>
<rect x="202.43" y="210.22" width="1.2" height="1.2" fill="#2b7a2b"/>
<rect x="179.48" y="219.86" width="1.2" height="1.2" fill="#2b7a2b"/>
<rect x="174.46" y="208.48" width="1.2" height="1.2" fill="#2b7a2b"/>
<rect x="182.29" y="195.36" width="1.2" height="1.2" fill="#2b7a2b"/>
<rect x="184.99" y="141.45" width="1.2" height="1.2" fill="#2b7a2b"/>
<rect x="199.21" y="187.05" width="1.2" height="1.2" fill="#2b7a2b"/>
<rect x="199.68" y="217.70" width="1.2" height="1.2" fill="#2b7a2b"/>
<rect x="185.34" y="178.13" width="1.2" height="1.2" fill="#2b7a2b"/>
<rect x="179.73" y="215.62" width="1.2" height="1.2" fill="#2b7a2b"/>
<rect x="196.47" y="227.29" width="1.2" height="1.2" fill="#2b7a2b"/>
<rect x="186.77" y="221.64" width="1.2" height="1.2" fill="#2b7a2b"/>
<rect x="192.00" y="210.93" width="1.2" height="1.2" fill="#2b7a2b"/>
<rect x="200.19" y="213.35" width="1.2" height="1.2" fill="#2b7a2b"/>
<rect x="175.24" y="217.19" width="1.2" height="1.2" fill="#2b7a2b"/>
<rect x="175.06" y="202.02" width="1.2" height="1.2" fill="#2b7a2b"/>
<rect x="195.57" y="191.41" width="1.2" height="1.2" fill="#2b7a2b"/>
<rect x="181.02" y="231.10" width="1.2" height="1.2" fill="#2b7a2b"/>
<rect x="202.06" y="195.68" width="1.2" height="1.2" fill="#2b7a2b"/>
<rect x="187.00" y="176.91" width="1.2" height="1.2" fill="#2b7a2b"/>
<rect x="202.79" y="213.04" width="1.2" height="1.2" fill="#2b7a2b"/>
<rect x="203.58" y="220.59" width="1.2" height="1.2" fill="#2b7a2b"/>
<rect x="209.02" y="199.71" width="1.2" height="1.2" fill="#2b7a2b"/>
<rect x="196.76" y="226.70" width="1.2" height="1.2" fill="#2b7a2b"/>
<rect x="208.23" y="192.07" width="1.2" height="1.2" fill="#2b7a2b"/>
<rect x="185.99" y="206.81" width="1.2" height="1.2" fill="#2b7a2b"/>
<rect x="179.85" y="230.63" width="1.2" height="1.2" fill="#2b7a2b"/>
<rect x="180.31" y="200.66" width="1.2" height="1.2" fill="#2b7a2b"/>
<rect x="193.93" y="217.01" width="1.2" height="1.2" fill="#2b7a2b"/>
<rect x="196.14" y="215.11" width="1.2" height="1.2" fill="#2b7a2b"/>
<rect x="189.84" y="189.16" width="1.2" height="1.2" fill="#2b7a2b"/>
<rect x="175.60" y="218.07" width="1.2" height="1.2" fill="#2b7a2b"/>
<rect x="179.18" y="210.78" width="1.2" height="1.2" fill="#2b7a2b"/>
<rect x="197.47" y="201.08" width="1.2" height="1.2" fill="#2b7a2b"/>
<rect x="190.30" y="197.94" width="1.2" height="1.2" fill="#2b7a2b"/>
<rect x="185.19" y="219.14" width="1.2" height="1.2" fill="#2b7a2b"/>
<rect x="205.59" y="209.63" width="1.2" height="1.2" fill="#2b7a2b"/>
<rect x="192.27" y="157.78" width="1.2" height="1.2" fill="#2b7a2b"/>
<rect x="185.05" y="205.31" width="1.2" height="1.2" fill="#2b7a2b"/>
<rect x="188.20" y="215.76" width="1.2" height="1.2" fill="#2b7a2b"/>
<rect x="197.35" y="138.05" width="1.2" height="1.2" fill="#2b7a2b"/>
<rect x="177.66" y="214.38" width="1.2" height="1.2" fill="#2b7a2b"/>
<rect x="206.15" y="211.19" width="1.2" height="1.2" fill="#2b7a2b"/>
<rect x="202.76" y="211.16" width="1.2" height="1.2" fill="#2b7a2b"/>
<rect x="202.20" y="203.65" width="1.2" height="1.2" fill="#2b7a2b"/>
<rect x="184.68" y="211.75" width="1.2" height="1.2" fill="#2b7a2b"/>
<rect x="199.69" y="211.28" width="1.2" height="1.2" fill="#2b7a2b"/>
<rect x="198.18" y="210.01" width="1.2" height="1.2" fill="#2b7a2b"/>
<rect x="194.42" y="209.52" width="1.2" height="1.2" fill="#2b7a2b"/>
<rect x="191.34" y="221.74" width="1.2" height="1.2" fill="#2b7a2b"/>
<rect x="203.59" y="184.33" width="1.2" height="1.2" fill="#2b7a2b"/>
<rect x="201.40" y="212.18" width="1.2" height="1.2" fill="#2b7a2b"/>
<rect x="205.25" y="191.82" width="1.2" height="1.2" fill="#2b7a2b"/>
<rect x="210.13" y="183.30" width="1.2" height="1.2" fill="#2b7a2b"/>
<rect x="193.77" y="187.58" width="1.2" height="1.2" fill="#2b7a2b"/>
<rect x="208.71" y="219.26" width="1.2" height="1.2" fill="#2b7a2b"/>
<rect x="200.74" y="211.84" width="1.2" height="1.2" fill="#2b7a2b"/>
<rect x="202.96" y="208.08" width="1.2" height="1.2" fill="#2b7a2b"/>
<rect x="189.80" y="203.64" width="1.2" height="1.2" fill="#2b7a2b"/>
<rect x="197.71" y="202.65" width="1.2" height="1.2" fill="#2b7a2b"/>
<rect x="180.26" y="209.37" width="1.2" height="1.2" fill="#2b7a2b"/>
<rect x="182.42" y="212.14" width="1.2" height="1.2" fill="#2b7a2b"/>
<rect x="175.93" y="203.95" width="1.2" height="1.2" fill="#2b7a2b"/>
<rect x="176.38" y="215.19" width="1.2" height="1.2" fill="#2b7a2b"/>
<rect x="181.04" y="227.05" width="1.2" height="1.2" fill="#2b7a2b"/>
<rect x="191.43" y="231.27" width="1.2" height="1.2" fill="#2b7a2b"/>
<rect x="196.00" y="212.41" width="1.2" height="1.2" fill="#2b7a2b"/>
<rect x="174.42" y="218.27" width="1.2" height="1.2" fill="#2b7a2b"/>
<rect x="189.41" y="214.81" width="1.2" height="1.2" fill="#2b7a2b"/>
<rect x="188.08" y="219.34" width="1.2" height="1.2" fill="#2b7a2b"/>
<rect x="177.87" y="222.61" width="1.2" height="1.2" fill="#2b7a2b"/>
<rect x="195.66" y="206.57" width="1.2" height="1.2" fill="#2b7a2b"/>
<rect x="189.74" y="180.02" width="1.2" height="1.2" fill="#2b7a2b"/>
<rect x="187.92" y="184.46" width="1.2" height="1.2" fill="#2b7a2b"/>
<rect x="195.04" y="222.87" width="1.2" height="1.2" fill="#2b7a2b"/>
<rect x="196.68" y="176.26" width="1.2" height="1.2" fill="#2b7a2b"/>
<rect x="174.43" y="210.39" width="1.2" height="1.2" fill="#2b7a2b"/>
<rect x="196.92" y="223.32" width="1.2" height="1.2" fill="#2b7a2b"/>
<rect x="207.02" y="222.37" width="1.2" height="1.2" fill="#2b7a2b"/>
<rect x="182.68" y="213.71" width="1.2" height="1.2" fill="#2b7a2b"/>
<rect x="188.30" y="209.82" width="1.2" height="1.2" fill="#2b7a2b"/>
<rect x="196.21" y="177.62" width="1.2" height="1.2" fill="#2b7a2b"/>
<rect x="192.56" y="217.10" width="1.2" height="1.2" fill="#2b7a2b"/>
<rect x="210.42" y="214.52" width="1.2" height="1.2" fill="#2b7a2b"/>
<rect x="191.86" y="214.76" width="1.2" height="1.2" fill="#2b7a2b"/>
<rect x="190.63" y="222.49" width="1.2" height="1.2" fill="#2b7a2b"/>
<rect x="204.66" y="211.19" width="1.2" height="1.2" fill="#2b7a2b"/>
<rect x="184.42" y="223.82" width="1.2" height="1.2" fill="#2b7a2b"/>
<rect x="183.39" y="180.94" width="1.2" height="1.2" fill="#2b7a2b"/>
<rect x="210.59" y="215.70" width="1.2" height="1.2" fill="#2b7a2b"/>
<rect x="191.77" y="212.44" width="1.2" height="1.2" fill="#2b7a2b"/>
<rect x="201.61" y="204.19" width="1.2" height="1.2" fill="#2b7a2b"/>
<rect x="185.41" y="220.41" width="1.2" height="1.2" fill="#2b7a2b"/>
<rect x="185.26" y="206.60" width="1.2" height="1.2" fill="#2b7a2b"/>
<rect x="187.61" y="205.45" width="1.2" height="1.2" fill="#2b7a2b"/>
<rect x="175.73" y="204.31" width="1.2" height="1.2" fill="#2b7a2b"/>
<rect x="207.95" y="224.97" width="1.2" height="1.2" fill="#2b7a2b"/>
<rect x="174.93" y="186.89" width="1.2" height="1.2" fill="#2b7a2b"/>
<rect x="195.47" y="189.86" width="1.2" height="1.2" fill="#2b7a2b"/>
<rect x="192.04" y="203.94" width="1.2" height="1.2" fill="#2b7a2b"/>
<rect x="188.74" y="190.92" width="1.2" height="1.2" fill="#2b7a2b"/>
<rect x="185.25" y="195.68" width="1.2" height="1.2" fill="#2b7a2b"/>
<rect x="205.01" y="198.97" width="1.2" height="1.2" fill="#2b7a2b"/>
<rect x="184.88" y="205.73" width="1.2" height="1.2" fill="#2b7a2b"/>
<rect x="179.62" y="177.70" width="1.2" height="1.2" fill="#2b7a2b"/>
<rect x="192.62" y="212.87" width="1.2" height="1.2" fill="#2b7a2b"/>
<rect x="195.84" y="215.71" width="1.2" height="1.2" fill="#2b7a2b"/>
<rect x="182.82" y="198.91" width="1.2" height="1.2" fill="#2b7a2b"/>
<rect x="198.69" y="180.69" width="1.2" height="1.2" fill="#2b7a2b"/>
<rect x="210.22" y="220.97" width="1.2" height="1.2" fill="#2b7a2b"/>
<rect x="176.19" y="148.12" width="1.2" height="1.2" fill="#2b7a2b"/>
<rect x="198.03" y="195.11" width="1.2" height="1.2" fill="#2b7a2b"/>
<rect x="179.33" y="182.69" width="1.2" height="1.2" fill="#2b7a2b"/>
<rect x="179.88" y="210.21" width="1.2" height="1.2" fill="#2b7a2b"/>
<rect x="180.30" y="205.90" width="1.2" height="1.2" fill="#2b7a2b"/>
<rect x="178.36" y="209.23" width="1.2" height="1.2" fill="#2b7a2b"/>
<rect x="176.51" y="216.30" width="1.2" height="1.2" fill="#2b7a2b"/>
<rect x="206.55" y="202.95" width="1.2" height="1.2" fill="#2b7a2b"/>
<rect x="185.91" y="225.33" width="1.2" height="1.2" fill="#2b7a2b"/>
<rect x="208.75" y="205.22" width="1.2" height="1.2" fill="#2b7a2b"/>
<rect x="199.92" y="216.41" width="1.2" height="1.2" fill="#2b7a2b"/>
<rect x="192.91" y="222.34" width="1.2" height="1.2" fill="#2b7a2b"/>
<rect x="197.12" y="186.66" width="1.2" height="1.2" fill="#2b7a2b"/>
<rect x="183.70" y="212.85" width="1.2" height="1.2" fill="#2b7a2b"/>
<rect x="179.30" y="204.97" width="1.2" height="1.2" fill="#2b7a2b"/>
<rect x="201.37" y="226.24" width="1.2" height="1.2" fill="#2b7a2b"/>
<rect x="198.37" y="221.11" width="1.2" height="1.2" fill="#2b7a2b"/>
<rect x="177.74" y="221.79" width="1.2" height="1.2" fill="#2b7a2b"/>
<rect x="183.13" y="222.90" width="1.2" height="1.2" fill="#2b7a2b"/>
<rect x="186.23" y="188.53" width="1.2" height="1.2" fill="#2b7a2b"/>
<rect x="200.94" y="199.89" width="1.2" height="1.2" fill="#2b7a2b"/>
<rect x="209.24" y="229.54" width="1.2" height="1.2" fill="#2b7a2b"/>
<rect x="178.65" y="207.62" width="1.2" height="1.2" fill="#2b7a2b"/>
<rect x="204.43" y="183.88" width="1.2" height="1.2" fill="#2b7a2b"/>
<rect x="187.37" y="222.44" width="1.2" height="1.2" fill="#2b7a2b"/>
<rect x="196.86" y="226.81" width="1.2" height="1.2" fill="#2b7a2b"/>
<rect x="179.39" y="214.04" width="1.2" height="1.2" fill="#2b7a2b"/>
<rect x="203.84" y="184.32" width="1.2" height="1.2" fill="#2b7a2b"/>
<rect x="193.34" y="210.69" width="1.2" height="1.2" fill="#2b7a2b"/>
<rect x="201.49" y="204.47" width="1.2" height="1.2" fill="#2b7a2b"/>
<rect x="175.61" y="216.12" width="1.2" height="1.2" fill="#2b7a2b"/>
<rect x="206.95" y="231.21" width="1.2" height="1.2" fill="#2b7a2b"/>
<rect x="174.42" y="211.35" width="1.2" height="1.2" fill="#2b7a2b"/>
<rect x="197.07" y="210.41" width="1.2" height="1.2" fill="#2b7a2b"/>
<rect x="178.05" y="213.47" width="1.2" height="1.2" fill="#2b7a2b"/>
<rect x="188.11" y="229.42" width="1.2" height="1.2" fill="#2b7a2b"/>
<rect x="179.97" y="210.48" width="1.2" height="1.2" fill="#2b7a2b"/>
<rect x="180.31" y="227.64" width="1.2" height="1.2" fill="#2b7a2b"/>
<rect x="192.04" y="215.12" width="1.2" height="1.2" fill="#2b7a2b"/>
<rect x="187.90" y="217.95" width="1.2" height="1.2" fill="#2b7a2b"/>
<rect x="199.06" y="183.31" width="1.2" height="1.2" fill="#2b7a2b"/>
<rect x="178.72" y="210.01" width="1.2" height="1.2" fill="#2b7a2b"/>
<rect x="199.09" y="207.00" width="1.2" height="1.2" fill="#2b7a2b"/>
<rect x="181.76" y="208.15" width="1.2" height="1.2" fill="#2b7a2b"/>
<rect x="177.26" y="228.35" width="1.2" height="1.2" fill="#2b7a2b"/>
<rect x="187.73" y="209.81" width="1.2" height="1.2" fill="#2b7a2b"/>
<rect x="184.76" y="213.45" width="1.2" height="1.2" fill="#2b7a2b"/>
<rect x="180.38" y="203.17" width="1.2" height="1.2" fill="#2b7a2b"/>
<rect x="208.82" y="221.73" width="1.2" height="1.2" fill="#2b7a2b"/>
<rect x="210.10" y="205.75" width="1.2" height="1.2" fill="#2b7a2b"/>
<rect x="202.92" y="230.89" width="1.2" height="1.2" fill="#2b7a2b"/>
<rect x="194.47" y="216.49" width="1.2" height="1.2" fill="#2b7a2b"/>
<rect x="187.21" y="155.23" width="1.2" height="1.2" fill="#2b7a2b"/>
<rect x="207.30" y="230.74" width="1.2" height="1.2" fill="#2b7a2b"/>
<rect x="176.37" y="210.08" width="1.2" height="1.2" fill="#2b7a2b"/>
<rect x="188.94" y="231.05" width="1.2" height="1.2" fill="#2b7a2b"/>
<rect x="189.31" y="227.97" width="1.2" height="1.2" fill="#2b7a2b"/>
<rect x="175.78" y="216.45" width="1.2" height="1.2" fill="#2b7a2b"/>
<rect x="193.02" y="196.11" width="1.2" height="1.2" fill="#2b7a2b"/>
<rect x="177.49" y="212.99" width="1.2" height="1.2" fill="#2b7a2b"/>
<rect x="194.23" y="216.04" width="1.2" height="1.2" fill="#2b7a2b"/>
<rect x="205.76" y="185.56" width="1.2" height="1.2" fill="#2b7a2b"/>
<rect x="194.15" y="231.54" width="1.2" height="1.2" fill="#2b7a2b"/>
<rect x="188.18" y="212.70" width="1.2" height="1.2" fill="#2b7a2b"/>
<rect x="207.82" y="203.10" width="1.2" height="1.2" fill="#2b7a2b"/>
<rect x="204.65" y="213.59" width="1.2" height="1.2" fill="#2b7a2b"/>
<rect x="185.81" y="230.07" width="1.2" height="1.2" fill="#2b7a2b"/>
<rect x="204.39" y="220.23" width="1.2" height="1.2" fill="#2b7a2b"/>
<rect x="177.40" y="215.88" width="1.2" height="1.2" fill="#2b7a2b"/>
<rect x="190.09" y="230.54" width="1.2" height="1.2" fill="#2b7a2b"/>
<rect x="176.65" y="207.41" width="1.2" height="1.2" fill="#2b7a2b"/>
<rect x="181.71" y="209.19" width="1.2" height="1.2" fill="#2b7a2b"/>
<rect x="178.01" y="214.13" width="1.2" height="1.2" fill="#2b7a2b"/>
<rect x="201.93" y="214.56" width="1.2" height="1.2" fill="#2b7a2b"/>
<rect x="198.34" y="201.56" width="1.2" height="1.2" fill="#2b7a2b"/>
<rect x="190.58" y="204.45" width="1.2" height="1.2" fill="#2b7a2b"/>
<rect x="209.34" y="184.13" width="1.2" height="1.2" fill="#2b7a2b"/>
<rect x="184.20" y="203.32" width="1.2" height="1.2" fill="#2b7a2b"/>
<rect x="179.17" y="191.00" width="1.2" height="1.2" fill="#2b7a2b"/>
<rect x="184.01" y="229.26" width="1.2" height="1.2" fill="#2b7a2b"/>
<rect x="176.72" y="207.05" width="1.2" height="1.2" fill="#2b7a2b"/>
<rect x="175.41" y="186.60" width="1.2" height="1.2" fill="#2b7a2b"/>
<rect x="187.47" y="229.85" width="1.2" height="1.2" fill="#2b7a2b"/>
<rect x="196.80" y="176.73" width="1.2" height="1.2" fill="#2b7a2b"/>
<rect x="187.66" y="225.37" width="1.2" height="1.2" fill="#2b7a2b"/>
<rect x="195.79" y="216.73" width="1.2" height="1.2" fill="#2b7a2b"/>
<rect x="177.89" y="182.33" width="1.2" height="1.2" fill="#2b7a2b"/>
<rect x="200.37" y="208.08" width="1.2" height="1.2" fill="#2b7a2b"/>
<rect x="203.49" y="210.06" width="1.2" height="1.2" fill="#2b7a2b"/>
<rect x="207.89" y="227.05" width="1.2" height="1.2" fill="#2b7a2b"/>
<rect x="190.56" y="213.69" width="1.2" height="1.2" fill="#2b7a2b"/>
<rect x="193.89" y="177.05" width="1.2" height="1.2" fill="#2b7a2b"/>
<rect x="178.19" y="185.62" width="1.2" height="1.2" fill="#2b7a2b"/>
<rect x="176.31" y="190.07" width="1.2" height="1.2" fill="#2b7a2b"/>
<rect x="195.52" y="174.17" width="1.2" height="1.2" fill="#2b7a2b"/>
<rect x="188.77" y="210.47" width="1.2" height="1.2" fill="#2b7a2b"/>
<rect x="181.76" y="227.65" width="1.2" height="1.2" fill="#2b7a2b"/>
<rect x="201.89" y="206.41" width="1.2" height="1.2" fill="#2b7a2b"/>
<rect x="183.49" y="226.53" width="1.2" height="1.2" fill="#2b7a2b"/>
<rect x="205.50" y="142.71" width="1.2" height="1.2" fill="#2b7a2b"/>
<rect x="179.64" y="206.02" width="1.2" height="1.2" fill="#2b7a2b"/>
<rect x="175.78" y="188.29" width="1.2" height="1.2" fill="#2b7a2b"/>
<rect x="200.67" y="230.32" width="1.2" height="1.2" fill="#2b7a2b"/>
<rect x="203.57" y="195.61" width="1.2" height="1.2" fill="#2b7a2b"/>
<rect x="205.99" y="211.90" width="1.2" height="1.2" fill="#2b7a2b"/>
<rect x="188.18" y="202.42" width="1.2" height="1.2" fill="#2b7a2b"/>
<rect x="195.87" y="224.13" width="1.2" height="1.2" fill="#2b7a2b"/>
<rect x="186.01" y="225.97" width="1.2" height="1.2" fill="#2b7a2b"/>
<rect x="188.41" y="227.13" width="1.2" height="1.2" fill="#2b7a2b"/>
<rect x="189.01" y="211.76" width="1.2" height="1.2" fill="#2b7a2b"/>
<rect x="208.21" y="143.67" width="1.2" height="1.2" fill="#2b7a2b"/>
<rect x="194.04" y="203.59" width="1.2" height="1.2" fill="#2b7a2b"/>
<rect x="196.12" y="191.49" width="1.2" height="1.2" fill="#2b7a2b"/>
<rect x="184.80" y="204.93" width="1.2" height="1.2" fill="#2b7a2b"/>
<rect x="187.42" y="230.50" width="1.2" height="1.2" fill="#2b7a2b"/>
<rect x="200.55" y="202.79" width="1.2" height="1.2" fill="#2b7a2b"/>
<rect x="184.45" y="210.13" width="1.2" height="1.2" fill="#2b7a2b"/>
<rect x="201.97" y="208.97" width="1.2" height="1.2" fill="#2b7a2b"/>
<rect x="207.24" y="201.02" width="1.2" height="1.2" fill="#2b7a2b"/>
<rect x="201.43" y="202.08" width="1.2" height="1.2" fill="#2b7a2b"/>
<rect x="193.31" y="207.74" width="1.2" height="1.2" fill="#2b7a2b"/>
<rect x="210.07" y="194.61" width="1.2" height="1.2" fill="#2b7a2b"/>
<rect x="174.51" y="206.08" width="1.2" height="1.2" fill="#2b7a2b"/>
<rect x="198.30" y="215.53" width="1.2" height="1.2" fill="#2b7a2b"/>
<rect x="196.86" y="177.71" width="1.2" height="1.2" fill="#2b7a2b"/>
<rect x="199.61" y="216.03" width="1.2" height="1.2" fill="#2b7a2b"/>
<rect x="188.09" y="203.19" width="1.2" height="1.2" fill="#2b7a2b"/>
<rect x="185.58" y="195.27" width="1.2" height="1.2" fill="#2b7a2b"/>
<rect x="207.24" y="212.34" width="1.2" height="1.2" fill="#2b7a2b"/>
<rect x="202.45" y="222.32" width="1.2" height="1.2" fill="#2b7a2b"/>
<rect x="195.11" y="230.86" width="1.2" height="1.2" fill="#2b7a2b"/>
<rect x="201.05" y="178.51" width="1.2" height="1.2" fill="#2b7a2b"/>
<rect x="193.75" y="213.76" width="1.2" height="1.2" fill="#2b7a2b"/>
<rect x="184.68" y="193.02" width="1.2" height="1.2" fill="#2b7a2b"/>
<rect x="181.25" y="200.93" width="1.2" height="1.2" fill="#2b7a2b"/>
<line x1="174.30" y1="210.10" x2="212.30" y2="210.10" stroke="#2a6a1a" stroke-width="1.0"/>
<line x1="263.50" y1="114.50" x2="263.50" y2="221.20" stroke="#ff5040" stroke-width="0.5"/>
<rect x="244.40" y="162.50" width="38.20" height="31.50" fill="#ff6a4f" stroke="#ff5a45" stroke-width="0.5"/>
<rect x="265.19" y="206.69" width="1.2" height="1.2" fill="#ff2323"/>
<rect x="251.56" y="175.96" width="1.2" height="1.2" fill="#ff2323"/>
<rect x="269.86" y="168.20" width="1.2" height="1.2" fill="#ff2323"/>
<rect x="262.34" y="178.02" width="1.2" height="1.2" fill="#ff2323"/>
<rect x="256.26" y="134.72" width="1.2" height="1.2" fill="#ff2323"/>
<rect x="278.52" y="143.70" width="1.2" height="1.2" fill="#ff2323"/>
<rect x="275.37" y="183.41" width="1.2" height="1.2" fill="#ff2323"/>
<rect x="251.68" y="191.98" width="1.2" height="1.2" fill="#ff2323"/>
<rect x="250.16" y="219.84" width="1.2" height="1.2" fill="#ff2323"/>
<rect x="272.35" y="177.29" width="1.2" height="1.2" fill="#ff2323"/>
<rect x="274.02" y="165.34" width="1.2" height="1.2" fill="#ff2323"/>
<rect x="279.62" y="163.54" width="1.2" height="1.2" fill="#ff2323"/>
<rect x="248.38" y="162.85" width="1.2" height="1.2" fill="#ff2323"/>
<rect x="252.15" y="207.46" width="1.2" height="1.2" fill="#ff2323"/>
<rect x="269.51" y="186.84" width="1.2" height="1.2" fill="#ff2323"/>
<rect x="259.36" y="177.64" width="1.2" height="1.2" fill="#ff2323"/>
<rect x="248.90" y="172.75" width="1.2" height="1.2" fill="#ff2323"/>
<rect x="269.62" y="172.76" width="1.2" height="1.2" fill="#ff2323"/>
<rect x="279.19" y="179.58" width="1.2" height="1.2" fill="#ff2323"/>
<rect x="271.00" y="197.04" width="1.2" height="1.2" fill="#ff2323"/>
<rect x="262.13" y="191.75" width="1.2" height="1.2" fill="#ff2323"/>
<rect x="278.21" y="182.83" width="1.2" height="1.2" fill="#ff2323"/>
<rect x="262.85" y="189.25" width="1.2" height="1.2" fill="#ff2323"/>
<rect x="265.67" y="165.80" width="1.2" height="1.2" fill="#ff2323"/>
<rect x="275.64" y="188.59" width="1.2" height="1.2" fill="#ff2323"/>
<rect x="260.00" y="178.20" width="1.2" height="1.2" fill="#ff2323"/>
<rect x="247.29" y="183.85" width="1.2" height="1.2" fill="#ff2323"/>
<rect x="262.08" y="192.05" width="1.2" height="1.2" fill="#ff2323"/>
<rect x="258.74" y="122.13" width="1.2" height="1.2" fill="#ff2323"/>
<rect x="257.62" y="131.56" width="1.2" height="1.2" fill="#ff2323"/>
<rect x="272.63" y="162.11" width="1.2" height="1.2" fill="#ff2323"/>
<rect x="253.78" y="193.20" width="1.2" height="1.2" fill="#ff2323"/>
<rect x="263.51" y="187.93" width="1.2" height="1.2" fill="#ff2323"/>
<rect x="280.26" y="205.15" width="1.2" height="1.2" fill="#ff2323"/>
<rect x="247.72" y="186.65" width="1.2" height="1.2" fill="#ff2323"/>
<rect x="269.75" y="179.70" width="1.2" height="1.2" fill="#ff2323"/>
<rect x="258.97" y="178.16" width="1.2" height="1.2" fill="#ff2323"/>
<rect x="266.32" y="149.75" width="1.2" height="1.2" fill="#ff2323"/>
<rect x="267.87" y="143.70" width="1.2" height="1.2" fill="#ff2323"/>
<rect x="272.77" y="208.07" width="1.2" height="1.2" fill="#ff2323"/>
<rect x="274.82" y="180.86" width="1.2" height="1.2" fill="#ff2323"/>
<rect x="281.17" y="151.37" width="1.2" height="1.2" fill="#ff2323"/>
<rect x="250.02" y="164.08" width="1.2" height="1.2" fill="#ff2323"/>
<rect x="280.18" y="150.11" width="1.2" height="1.2" fill="#ff2323"/>
<rect x="260.02" y="128.94" width="1.2" height="1.2" fill="#ff2323"/>
<rect x="255.09" y="186.67" width="1.2" height="1.2" fill="#ff2323"/>
<rect x="250.79" y="176.98" width="1.2" height="1.2" fill="#ff2323"/>
<rect x="258.55" y="192.37" width="1.2" height="1.2" fill="#ff2323"/>
<rect x="251.79" y="136.78" width="1.2" height="1.2" fill="#ff2323"/>
<rect x="279.76" y="196.01" width="1.2" height="1.2" fill="#ff2323"/>
<rect x="253.26" y="176.76" width="1.2" height="1.2" fill="#ff2323"/>
<rect x="245.74" y="113.81" width="1.2" height="1.2" fill="#ff2323"/>
<rect x="254.36" y="215.61" width="1.2" height="1.2" fill="#ff2323"/>
<rect x="272.97" y="172.79" width="1.2" height="1.2" fill="#ff2323"/>
<rect x="280.28" y="214.49" width="1.2" height="1.2" fill="#ff2323"/>
<rect x="248.66" y="177.54" width="1.2" height="1.2" fill="#ff2323"/>
<rect x="258.09" y="172.75" width="1.2" height="1.2" fill="#ff2323"/>
<rect x="279.95" y="185.07" width="1.2" height="1.2" fill="#ff2323"/>
<rect x="254.23" y="185.25" width="1.2" height="1.2" fill="#ff2323"/>
<rect x="249.49" y="166.77" width="1.2" height="1.2" fill="#ff2323"/>
<rect x="244.90" y="183.28" width="1.2" height="1.2" fill="#ff2323"/>
<rect x="263.05" y="150.21" width="1.2" height="1.2" fill="#ff2323"/>
<rect x="246.65" y="165.74" width="1.2" height="1.2" fill="#ff2323"/>
<rect x="258.71" y="178.40" width="1.2" height="1.2" fill="#ff2323"/>
<rect x="255.50" y="193.13" width="1.2" height="1.2" fill="#ff2323"/>
<rect x="278.45" y="184.01" width="1.2" height="1.2" fill="#ff2323"/>
<rect x="270.70" y="185.81" width="1.2" height="1.2" fill="#ff2323"/>
<rect x="280.76" y="113.56" width="1.2" height="1.2" fill="#ff2323"/>
<rect x="278.71" y="191.04" width="1.2" height="1.2" fill="#ff2323"/>
<rect x="271.55" y="201.70" width="1.2" height="1.2" fill="#ff2323"/>
<rect x="278.44" y="172.52" width="1.2" height="1.2" fill="#ff2323"/>
<rect x="274.97" y="185.50" width="1.2" height="1.2" fill="#ff2323"/>
<rect x="262.69" y="203.16" width="1.2" height="1.2" fill="#ff2323"/>
<rect x="261.21" y="175.57" width="1.2" height="1.2" fill="#ff2323"/>
<rect x="257.12" y="207.10" width="1.2" height="1.2" fill="#ff2323"/>
<rect x="254.24" y="208.83" width="1.2" height="1.2" fill="#ff2323"/>
<rect x="271.73" y="182.16" width="1.2" height="1.2" fill="#ff2323"/>
<rect x="267.50" y="181.50" width="1.2" height="1.2" fill="#ff2323"/>
<rect x="253.59" y="184.39" width="1.2" height="1.2" fill="#ff2323"/>
<rect x="260.65" y="180.82" width="1.2" height="1.2" fill="#ff2323"/>
<rect x="249.63" y="157.17" width="1.2" height="1.2" fill="#ff2323"/>
<rect x="265.14" y="197.34" width="1.2" height="1.2" fill="#ff2323"/>
<rect x="274.76" y="207.77" width="1.2" height="1.2" fill="#ff2323"/>
<rect x="246.06" y="180.90" width="1.2" height="1.2" fill="#ff2323"/>
<rect x="270.99" y="177.08" width="1.2" height="1.2" fill="#ff2323"/>
<rect x="252.71" y="168.77" width="1.2" height="1.2" fill="#ff2323"/>
<rect x="246.94" y="131.16" width="1.2" height="1.2" fill="#ff2323"/>
<rect x="247.05" y="177.49" width="1.2" height="1.2" fill="#ff2323"/>
<rect x="277.25" y="184.10" width="1.2" height="1.2" fill="#ff2323"/>
<rect x="268.14" y="177.88" width="1.2" height="1.2" fill="#ff2323"/>
<rect x="272.21" y="158.79" width="1.2" height="1.2" fill="#ff2323"/>
<rect x="244.65" y="189.14" width="1.2" height="1.2" fill="#ff2323"/>
<rect x="277.61" y="170.39" width="1.2" height="1.2" fill="#ff2323"/>
<rect x="252.52" y="191.20" width="1.2" height="1.2" fill="#ff2323"/>
<rect x="252.11" y="179.81" width="1.2" height="1.2" fill="#ff2323"/>
<rect x="247.50" y="203.14" width="1.2" height="1.2" fill="#ff2323"/>
<rect x="268.41" y="184.49" width="1.2" height="1.2" fill="#ff2323"/>
<rect x="262.58" y="219.26" width="1.2" height="1.2" fill="#ff2323"/>
<rect x="265.58" y="171.54" width="1.2" height="1.2" fill="#ff2323"/>
<rect x="254.40" y="158.09" width="1.2" height="1.2" fill="#ff2323"/>
<rect x="277.55" y="185.72" width="1.2" height="1.2" fill="#ff2323"/>
<rect x="259.96" y="167.93" width="1.2" height="1.2" fill="#ff2323"/>
<rect x="255.35" y="138.21" width="1.2" height="1.2" fill="#ff2323"/>
<rect x="257.69" y="204.54" width="1.2" height="1.2" fill="#ff2323"/>
<rect x="267.64" y="154.65" width="1.2" height="1.2" fill="#ff2323"/>
<rect x="248.86" y="163.00" width="1.2" height="1.2" fill="#ff2323"/>
<rect x="248.37" y="152.58" width="1.2" height="1.2" fill="#ff2323"/>
<rect x="265.92" y="164.87" width="1.2" height="1.2" fill="#ff2323"/>
<rect x="258.66" y="193.85" width="1.2" height="1.2" fill="#ff2323"/>
<rect x="254.14" y="166.89" width="1.2" height="1.2" fill="#ff2323"/>
<rect x="248.11" y="188.70" width="1.2" height="1.2" fill="#ff2323"/>
<rect x="259.63" y="197.68" width="1.2" height="1.2" fill="#ff2323"/>
<rect x="255.63" y="160.46" width="1.2" height="1.2" fill="#ff2323"/>
<rect x="273.53" y="209.13" width="1.2" height="1.2" fill="#ff2323"/>
<rect x="248.41" y="147.69" width="1.2" height="1.2" fill="#ff2323"/>
<rect x="245.58" y="190.18" width="1.2" height="1.2" fill="#ff2323"/>
<rect x="248.55" y="174.18" width="1.2" height="1.2" fill="#ff2323"/>
<rect x="279.22" y="163.38" width="1.2" height="1.2" fill="#ff2323"/>
<rect x="272.73" y="191.96" width="1.2" height="1.2" fill="#ff2323"/>
<rect x="247.66" y="200.37" width="1.2" height="1.2" fill="#ff2323"/>
<rect x="260.61" y="122.10" width="1.2" height="1.2" fill="#ff2323"/>
<rect x="280.21" y="185.51" width="1.2" height="1.2" fill="#ff2323"/>
<rect x="263.44" y="190.42" width="1.2" height="1.2" fill="#ff2323"/>
<rect x="267.80" y="151.28" width="1.2" height="1.2" fill="#ff2323"/>
<rect x="274.28" y="152.89" width="1.2" height="1.2" fill="#ff2323"/>
<rect x="246.56" y="176.71" width="1.2" height="1.2" fill="#ff2323"/>
<rect x="260.82" y="123.71" width="1.2" height="1.2" fill="#ff2323"/>
<rect x="262.91" y="145.74" width="1.2" height="1.2" fill="#ff2323"/>
<rect x="253.98" y="182.73" width="1.2" height="1.2" fill="#ff2323"/>
<rect x="266.74" y="182.52" width="1.2" height="1.2" fill="#ff2323"/>
<rect x="270.04" y="205.38" width="1.2" height="1.2" fill="#ff2323"/>
<rect x="281.11" y="177.32" width="1.2" height="1.2" fill="#ff2323"/>
<rect x="247.88" y="205.91" width="1.2" height="1.2" fill="#ff2323"/>
<rect x="275.98" y="184.52" width="1.2" height="1.2" fill="#ff2323"/>
<rect x="248.45" y="212.22" width="1.2" height="1.2" fill="#ff2323"/>
<rect x="257.64" y="174.82" width="1.2" height="1.2" fill="#ff2323"/>
<rect x="249.08" y="197.62" width="1.2" height="1.2" fill="#ff2323"/>
<rect x="266.26" y="152.58" width="1.2" height="1.2" fill="#ff2323"/>
<rect x="276.58" y="170.84" width="1.2" height="1.2" fill="#ff2323"/>
<rect x="256.82" y="154.14" width="1.2" height="1.2" fill="#ff2323"/>
<rect x="259.97" y="158.44" width="1.2" height="1.2" fill="#ff2323"/>
<rect x="249.29" y="179.39" width="1.2" height="1.2" fill="#ff2323"/>
<rect x="271.26" y="166.34" width="1.2" height="1.2" fill="#ff2323"/>
<rect x="256.04" y="194.28" width="1.2" height="1.2" fill="#ff2323"/>
<rect x="260.00" y="143.23" width="1.2" height="1.2" fill="#ff2323"/>
<rect x="257.04" y="142.81" width="1.2" height="1.2" fill="#ff2323"/>
<rect x="270.64" y="170.57" width="1.2" height="1.2" fill="#ff2323"/>
<rect x="250.43" y="165.69" width="1.2" height="1.2" fill="#ff2323"/>
<rect x="273.54" y="193.42" width="1.2" height="1.2" fill="#ff2323"/>
<rect x="246.18" y="138.17" width="1.2" height="1.2" fill="#ff2323"/>
<rect x="248.97" y="171.01" width="1.2" height="1.2" fill="#ff2323"/>
<rect x="275.81" y="208.75" width="1.2" height="1.2" fill="#ff2323"/>
<rect x="268.43" y="181.51" width="1.2" height="1.2" fill="#ff2323"/>
<rect x="252.98" y="184.16" width="1.2" height="1.2" fill="#ff2323"/>
<rect x="268.63" y="193.29" width="1.2" height="1.2" fill="#ff2323"/>
<rect x="263.04" y="166.57" width="1.2" height="1.2" fill="#ff2323"/>
<rect x="271.51" y="189.03" width="1.2" height="1.2" fill="#ff2323"/>
<rect x="272.33" y="184.85" width="1.2" height="1.2" fill="#ff2323"/>
<rect x="246.85" y="183.56" width="1.2" height="1.2" fill="#ff2323"/>
<rect x="250.00" y="181.34" width="1.2" height="1.2" fill="#ff2323"/>
<rect x="272.64" y="208.21" width="1.2" height="1.2" fill="#ff2323"/>
<rect x="260.65" y="201.56" width="1.2" height="1.2" fill="#ff2323"/>
<rect x="263.70" y="148.55" width="1.2" height="1.2" fill="#ff2323"/>
<rect x="272.69" y="196.50" width="1.2" height="1.2" fill="#ff2323"/>
<rect x="267.07" y="165.03" width="1.2" height="1.2" fill="#ff2323"/>
<rect x="267.20" y="164.76" width="1.2" height="1.2" fill="#ff2323"/>
<rect x="280.82" y="195.17" width="1.2" height="1.2" fill="#ff2323"/>
<rect x="257.04" y="220.18" width="1.2" height="1.2" fill="#ff2323"/>
<rect x="247.86" y="202.89" width="1.2" height="1.2" fill="#ff2323"/>
<rect x="260.29" y="193.39" width="1.2" height="1.2" fill="#ff2323"/>
<rect x="258.83" y="182.95" width="1.2" height="1.2" fill="#ff2323"/>
<rect x="277.34" y="209.01" width="1.2" height="1.2" fill="#ff2323"/>
<rect x="259.34" y="175.40" width="1.2" height="1.2" fill="#ff2323"/>
<rect x="245.56" y="187.55" width="1.2" height="1.2" fill="#ff2323"/>
<rect x="269.98" y="182.39" width="1.2" height="1.2" fill="#ff2323"/>
<rect x="272.52" y="142.61" width="1.2" height="1.2" fill="#ff2323"/>
<rect x="273.63" y="135.87" width="1.2" height="1.2" fill="#ff2323"/>
<rect x="268.69" y="183.94" width="1.2" height="1.2" fill="#ff2323"/>
<rect x="260.83" y="141.73" width="1.2" height="1.2" fill="#ff2323"/>
<rect x="253.76" y="216.89" width="1.2" height="1.2" fill="#ff2323"/>
<rect x="251.63" y="166.13" width="1.2" height="1.2" fill="#ff2323"/>
<rect x="257.98" y="164.94" width="1.2" height="1.2" fill="#ff2323"/>
<rect x="257.86" y="199.35" width="1.2" height="1.2" fill="#ff2323"/>
<rect x="244.85" y="217.39" width="1.2" height="1.2" fill="#ff2323"/>
<rect x="248.44" y="215.66" width="1.2" height="1.2" fill="#ff2323"/>
<rect x="279.65" y="200.18" width="1.2" height="1.2" fill="#ff2323"/>
<rect x="278.44" y="152.88" width="1.2" height="1.2" fill="#ff2323"/>
<rect x="244.85" y="206.17" width="1.2" height="1.2" fill="#ff2323"/>
<rect x="272.31" y="199.40" width="1.2" height="1.2" fill="#ff2323"/>
<rect x="261.12" y="181.88" width="1.2" height="1.2" fill="#ff2323"/>
<rect x="264.25" y="144.76" width="1.2" height="1.2" fill="#ff2323"/>
<rect x="260.72" y="215.64" width="1.2" height="1.2" fill="#ff2323"/>
<rect x="255.38" y="155.65" width="1.2" height="1.2" fill="#ff2323"/>
<rect x="264.25" y="160.22" width="1.2" height="1.2" fill="#ff2323"/>
<rect x="266.36" y="212.64" width="1.2" height="1.2" fill="#ff2323"/>
<rect x="259.51" y="197.48" width="1.2" height="1.2" fill="#ff2323"/>
<rect x="273.10" y="181.11" width="1.2" height="1.2" fill="#ff2323"/>
<rect x="249.12" y="183.68" width="1.2" height="1.2" fill="#ff2323"/>
<rect x="268.05" y="177.66" width="1.2" height="1.2" fill="#ff2323"/>
<rect x="246.09" y="143.95" width="1.2" height="1.2" fill="#ff2323"/>
<line x1="244.40" y1="179.00" x2="282.60" y2="179.00" stroke="#c8321e" stroke-width="0.9"/>
<rect x="366.40" y="111.80" width="136.40" height="101.60" fill="none" stroke="#b4b4b4" stroke-width="0.9"/>
<line x1="364.20" y1="209.30" x2="366.40" y2="209.30" stroke="#555" stroke-width="0.5"/>
<text x="354.91" y="211.30" font-size="6.05" fill="#222" textLength="8.59" lengthAdjust="spacingAndGlyphs" stroke="#222" stroke-width="0.09">0.0</text>
<line x1="364.20" y1="190.76" x2="366.40" y2="190.76" stroke="#555" stroke-width="0.5"/>
<text x="354.91" y="192.76" font-size="6.05" fill="#222" textLength="8.59" lengthAdjust="spacingAndGlyphs" stroke="#222" stroke-width="0.09">0.2</text>
<line x1="364.20" y1="172.22" x2="366.40" y2="172.22" stroke="#555" stroke-width="0.5"/>
<text x="354.91" y="174.22" font-size="6.05" fill="#222" textLength="8.59" lengthAdjust="spacingAndGlyphs" stroke="#222" stroke-width="0.09">0.4</text>
<line x1="364.20" y1="153.68" x2="366.40" y2="153.68" stroke="#555" stroke-width="0.5"/>
<text x="354.91" y="155.68" font-size="6.05" fill="#222" textLength="8.59" lengthAdjust="spacingAndGlyphs" stroke="#222" stroke-width="0.09">0.6</text>
<line x1="364.20" y1="135.14" x2="366.40" y2="135.14" stroke="#555" stroke-width="0.5"/>
<text x="354.91" y="137.14" font-size="6.05" fill="#222" textLength="8.59" lengthAdjust="spacingAndGlyphs" stroke="#222" stroke-width="0.09">0.8</text>
<line x1="364.20" y1="116.60" x2="366.40" y2="116.60" stroke="#555" stroke-width="0.5"/>
<text x="354.91" y="118.60" font-size="6.05" fill="#222" textLength="8.59" lengthAdjust="spacingAndGlyphs" stroke="#222" stroke-width="0.09">1.0</text>
<line x1="372.50" y1="213.40" x2="372.50" y2="215.60" stroke="#555" stroke-width="0.5"/>
<text x="370.81" y="219.80" font-size="5.94" fill="#222" textLength="3.37" lengthAdjust="spacingAndGlyphs" stroke="#222" stroke-width="0.09">0</text>
<line x1="393.35" y1="213.40" x2="393.35" y2="215.60" stroke="#555" stroke-width="0.5"/>
<text x="389.98" y="219.80" font-size="5.94" fill="#222" textLength="6.74" lengthAdjust="spacingAndGlyphs" stroke="#222" stroke-width="0.09">20</text>
<line x1="414.20" y1="213.40" x2="414.20" y2="215.60" stroke="#555" stroke-width="0.5"/>
<text x="410.83" y="219.80" font-size="5.94" fill="#222" textLength="6.74" lengthAdjust="spacingAndGlyphs" stroke="#222" stroke-width="0.09">40</text>
<line x1="435.05" y1="213.40" x2="435.05" y2="215.60" stroke="#555" stroke-width="0.5"/>
<text x="431.68" y="219.80" font-size="5.94" fill="#222" textLength="6.74" lengthAdjust="spacingAndGlyphs" stroke="#222" stroke-width="0.09">60</text>
<line x1="455.90" y1="213.40" x2="455.90" y2="215.60" stroke="#555" stroke-width="0.5"/>
<text x="452.53" y="219.80" font-size="5.94" fill="#222" textLength="6.74" lengthAdjust="spacingAndGlyphs" stroke="#222" stroke-width="0.09">80</text>
<line x1="476.75" y1="213.40" x2="476.75" y2="215.60" stroke="#555" stroke-width="0.5"/>
<text x="471.69" y="219.80" font-size="5.94" fill="#222" textLength="10.12" lengthAdjust="spacingAndGlyphs" stroke="#222" stroke-width="0.09">100</text>
<line x1="497.60" y1="213.40" x2="497.60" y2="215.60" stroke="#555" stroke-width="0.5"/>
<text x="492.54" y="219.80" font-size="5.94" fill="#222" textLength="10.12" lengthAdjust="spacingAndGlyphs" stroke="#222" stroke-width="0.09">120</text>
<text x="424.78" y="110.00" font-size="7.62" fill="#111" textLength="19.64" lengthAdjust="spacingAndGlyphs" stroke="#111" stroke-width="0.09">RRM1</text>
<text x="435.65" y="119.30" font-size="6.05" fill="#111" textLength="63.15" lengthAdjust="spacingAndGlyphs" stroke="#111" stroke-width="0.09">HR = 1.18 (1.02 - 1.37)</text>
<text x="445.25" y="125.40" font-size="6.05" fill="#111" textLength="53.55" lengthAdjust="spacingAndGlyphs" stroke="#111" stroke-width="0.09">Logrank P = 0.0265</text>
<text x="436.03" y="137.30" font-size="5.94" fill="#111" textLength="28.77" lengthAdjust="spacingAndGlyphs" stroke="#111" stroke-width="0.09">Expression</text>
<line x1="469.20" y1="131.70" x2="480.40" y2="131.70" stroke="#6a6a6a" stroke-width="0.75"/>
<line x1="469.20" y1="139.60" x2="480.40" y2="139.60" stroke="#ff5a5a" stroke-width="0.75"/>
<text x="484.80" y="134.00" font-size="6.05" fill="#111" textLength="10.63" lengthAdjust="spacingAndGlyphs" stroke="#111" stroke-width="0.09">Low</text>
<text x="484.80" y="141.30" font-size="6.05" fill="#111" textLength="12.41" lengthAdjust="spacingAndGlyphs" stroke="#111" stroke-width="0.09">High</text>
<text x="395.94" y="227.00" font-size="6.83" fill="#111" textLength="77.31" lengthAdjust="spacingAndGlyphs" stroke="#111" stroke-width="0.09">Overall survival (months)</text>
<text x="352.40" y="178.72" font-size="6.83" fill="#111" textLength="32.25" lengthAdjust="spacingAndGlyphs" transform="rotate(-90 352.40 178.72)">Probability</text>
<text x="358.24" y="237.00" font-size="5.75" fill="#111" textLength="14.56" lengthAdjust="spacingAndGlyphs" stroke="#111" stroke-width="0.09">At risk</text>
<text x="349.94" y="242.20" font-size="5.75" fill="#111" textLength="9.06" lengthAdjust="spacingAndGlyphs" stroke="#111" stroke-width="0.09">Low</text>
<text x="348.43" y="247.10" font-size="5.75" fill="#ff2020" textLength="10.57" lengthAdjust="spacingAndGlyphs" stroke="#ff2020" stroke-width="0.09">High</text>
<text x="364.10" y="242.20" font-size="5.63" fill="#111" textLength="8.40" lengthAdjust="spacingAndGlyphs" stroke="#111" stroke-width="0.09">820</text>
<text x="364.10" y="247.10" font-size="5.63" fill="#ff2020" textLength="8.40" lengthAdjust="spacingAndGlyphs" stroke="#ff2020" stroke-width="0.09">369</text>
<text x="384.95" y="242.20" font-size="5.63" fill="#111" textLength="8.40" lengthAdjust="spacingAndGlyphs" stroke="#111" stroke-width="0.09">300</text>
<text x="384.95" y="247.10" font-size="5.63" fill="#ff2020" textLength="8.40" lengthAdjust="spacingAndGlyphs" stroke="#ff2020" stroke-width="0.09">118</text>
<text x="405.80" y="242.20" font-size="5.63" fill="#111" textLength="8.40" lengthAdjust="spacingAndGlyphs" stroke="#111" stroke-width="0.09">101</text>
<text x="408.60" y="247.10" font-size="5.63" fill="#ff2020" textLength="5.60" lengthAdjust="spacingAndGlyphs" stroke="#ff2020" stroke-width="0.09">30</text>
<text x="429.45" y="242.20" font-size="5.63" fill="#111" textLength="5.60" lengthAdjust="spacingAndGlyphs" stroke="#111" stroke-width="0.09">34</text>
<text x="432.25" y="247.10" font-size="5.63" fill="#ff2020" textLength="2.80" lengthAdjust="spacingAndGlyphs" stroke="#ff2020" stroke-width="0.09">7</text>
<text x="450.30" y="242.20" font-size="5.63" fill="#111" textLength="5.60" lengthAdjust="spacingAndGlyphs" stroke="#111" stroke-width="0.09">16</text>
<text x="453.10" y="247.10" font-size="5.63" fill="#ff2020" textLength="2.80" lengthAdjust="spacingAndGlyphs" stroke="#ff2020" stroke-width="0.09">3</text>
<text x="473.95" y="242.20" font-size="5.63" fill="#111" textLength="2.80" lengthAdjust="spacingAndGlyphs" stroke="#111" stroke-width="0.09">9</text>
<text x="473.95" y="247.10" font-size="5.63" fill="#ff2020" textLength="2.80" lengthAdjust="spacingAndGlyphs" stroke="#ff2020" stroke-width="0.09">1</text>
<text x="494.80" y="242.20" font-size="5.63" fill="#111" textLength="2.80" lengthAdjust="spacingAndGlyphs" stroke="#111" stroke-width="0.09">0</text>
<text x="494.80" y="247.10" font-size="5.63" fill="#ff2020" textLength="2.80" lengthAdjust="spacingAndGlyphs" stroke="#ff2020" stroke-width="0.09">0</text>
<circle cx="372.50" cy="209.30" r="0.35" fill="#bbb"/>
<polyline points="372.50,116.40 375.00,119.20 377.50,122.80 379.50,127.80 381.20,133.20 383.00,139.00 385.00,144.90 387.00,149.50 389.20,153.30 391.30,158.00 393.20,162.50 395.30,168.00 398.60,173.50 402.80,177.50 408.70,181.60 413.40,184.50 418.00,188.00 423.90,192.10 427.40,193.30 436.70,194.50 448.40,195.00 460.00,196.20 464.70,196.80 470.00,198.30 475.40,198.90 497.80,199.30" fill="none" stroke="#1a1a1a" stroke-width="0.95" stroke-linejoin="miter"/>
<path d="M427.30 193.90h3.60M429.10 192.10v3.60" stroke="#111" stroke-width="0.5" fill="none"/>
<path d="M429.20 194.00h3.60M431.00 192.20v3.60" stroke="#111" stroke-width="0.5" fill="none"/>
<path d="M431.20 194.10h3.60M433.00 192.30v3.60" stroke="#111" stroke-width="0.5" fill="none"/>
<path d="M437.20 194.60h3.60M439.00 192.80v3.60" stroke="#111" stroke-width="0.5" fill="none"/>
<path d="M441.30 194.80h3.60M443.10 193.00v3.60" stroke="#111" stroke-width="0.5" fill="none"/>
<path d="M443.10 194.90h3.60M444.90 193.10v3.60" stroke="#111" stroke-width="0.5" fill="none"/>
<path d="M445.40 195.00h3.60M447.20 193.20v3.60" stroke="#111" stroke-width="0.5" fill="none"/>
<path d="M451.30 195.40h3.60M453.10 193.60v3.60" stroke="#111" stroke-width="0.5" fill="none"/>
<path d="M453.60 195.60h3.60M455.40 193.80v3.60" stroke="#111" stroke-width="0.5" fill="none"/>
<path d="M458.20 196.20h3.60M460.00 194.40v3.60" stroke="#111" stroke-width="0.5" fill="none"/>
<path d="M473.60 198.90h3.60M475.40 197.10v3.60" stroke="#111" stroke-width="0.5" fill="none"/>
<path d="M479.70 199.10h3.60M481.50 197.30v3.60" stroke="#111" stroke-width="0.5" fill="none"/>
<path d="M496.00 199.30h3.60M497.80 197.50v3.60" stroke="#111" stroke-width="0.5" fill="none"/>
<path d="M391.60 166.64h3.60M393.40 164.84v3.60" stroke="#111" stroke-width="0.5" fill="none"/>
<path d="M377.35 126.17h3.60M379.15 124.37v3.60" stroke="#111" stroke-width="0.5" fill="none"/>
<path d="M376.35 122.79h3.60M378.15 120.99v3.60" stroke="#111" stroke-width="0.5" fill="none"/>
<path d="M403.12 178.60h3.60M404.92 176.80v3.60" stroke="#111" stroke-width="0.5" fill="none"/>
<path d="M404.42 177.83h3.60M406.22 176.03v3.60" stroke="#111" stroke-width="0.5" fill="none"/>
<path d="M386.27 152.13h3.60M388.07 150.33v3.60" stroke="#111" stroke-width="0.5" fill="none"/>
<path d="M424.55 194.68h3.60M426.35 192.88v3.60" stroke="#111" stroke-width="0.5" fill="none"/>
<path d="M376.77 121.88h3.60M378.57 120.08v3.60" stroke="#111" stroke-width="0.5" fill="none"/>
<path d="M379.65 137.54h3.60M381.45 135.74v3.60" stroke="#111" stroke-width="0.5" fill="none"/>
<path d="M375.13 124.11h3.60M376.93 122.31v3.60" stroke="#111" stroke-width="0.5" fill="none"/>
<path d="M426.13 192.71h3.60M427.93 190.91v3.60" stroke="#111" stroke-width="0.5" fill="none"/>
<path d="M424.56 194.19h3.60M426.36 192.39v3.60" stroke="#111" stroke-width="0.5" fill="none"/>
<path d="M379.36 134.84h3.60M381.16 133.04v3.60" stroke="#111" stroke-width="0.5" fill="none"/>
<path d="M381.31 137.87h3.60M383.11 136.07v3.60" stroke="#111" stroke-width="0.5" fill="none"/>
<path d="M428.04 193.43h3.60M429.84 191.63v3.60" stroke="#111" stroke-width="0.5" fill="none"/>
<path d="M389.94 160.53h3.60M391.74 158.73v3.60" stroke="#111" stroke-width="0.5" fill="none"/>
<path d="M373.11 118.12h3.60M374.91 116.32v3.60" stroke="#111" stroke-width="0.5" fill="none"/>
<path d="M378.09 134.72h3.60M379.89 132.92v3.60" stroke="#111" stroke-width="0.5" fill="none"/>
<path d="M379.34 135.41h3.60M381.14 133.61v3.60" stroke="#111" stroke-width="0.5" fill="none"/>
<path d="M421.99 192.21h3.60M423.79 190.41v3.60" stroke="#111" stroke-width="0.5" fill="none"/>
<path d="M396.81 172.90h3.60M398.61 171.10v3.60" stroke="#111" stroke-width="0.5" fill="none"/>
<path d="M380.19 138.36h3.60M381.99 136.56v3.60" stroke="#111" stroke-width="0.5" fill="none"/>
<path d="M386.65 152.39h3.60M388.45 150.59v3.60" stroke="#111" stroke-width="0.5" fill="none"/>
<path d="M387.17 156.29h3.60M388.97 154.49v3.60" stroke="#111" stroke-width="0.5" fill="none"/>
<path d="M396.65 174.41h3.60M398.45 172.61v3.60" stroke="#111" stroke-width="0.5" fill="none"/>
<path d="M398.76 174.34h3.60M400.56 172.54v3.60" stroke="#111" stroke-width="0.5" fill="none"/>
<path d="M383.58 147.88h3.60M385.38 146.08v3.60" stroke="#111" stroke-width="0.5" fill="none"/>
<path d="M374.28 122.32h3.60M376.08 120.52v3.60" stroke="#111" stroke-width="0.5" fill="none"/>
<path d="M378.33 129.67h3.60M380.13 127.87v3.60" stroke="#111" stroke-width="0.5" fill="none"/>
<path d="M387.61 154.48h3.60M389.41 152.68v3.60" stroke="#111" stroke-width="0.5" fill="none"/>
<path d="M381.06 136.41h3.60M382.86 134.61v3.60" stroke="#111" stroke-width="0.5" fill="none"/>
<path d="M409.10 181.58h3.60M410.90 179.78v3.60" stroke="#111" stroke-width="0.5" fill="none"/>
<path d="M378.30 130.60h3.60M380.10 128.80v3.60" stroke="#111" stroke-width="0.5" fill="none"/>
<path d="M418.21 190.61h3.60M420.01 188.81v3.60" stroke="#111" stroke-width="0.5" fill="none"/>
<path d="M388.29 155.18h3.60M390.09 153.38v3.60" stroke="#111" stroke-width="0.5" fill="none"/>
<path d="M392.19 168.10h3.60M393.99 166.30v3.60" stroke="#111" stroke-width="0.5" fill="none"/>
<path d="M415.78 186.45h3.60M417.58 184.65v3.60" stroke="#111" stroke-width="0.5" fill="none"/>
<path d="M373.01 119.18h3.60M374.81 117.38v3.60" stroke="#111" stroke-width="0.5" fill="none"/>
<path d="M395.07 171.27h3.60M396.87 169.47v3.60" stroke="#111" stroke-width="0.5" fill="none"/>
<path d="M382.91 146.98h3.60M384.71 145.18v3.60" stroke="#111" stroke-width="0.5" fill="none"/>
<path d="M378.90 136.79h3.60M380.70 134.99v3.60" stroke="#111" stroke-width="0.5" fill="none"/>
<path d="M419.33 189.39h3.60M421.13 187.59v3.60" stroke="#111" stroke-width="0.5" fill="none"/>
<path d="M389.99 161.55h3.60M391.79 159.75v3.60" stroke="#111" stroke-width="0.5" fill="none"/>
<path d="M388.35 154.78h3.60M390.15 152.98v3.60" stroke="#111" stroke-width="0.5" fill="none"/>
<path d="M427.29 193.07h3.60M429.09 191.27v3.60" stroke="#111" stroke-width="0.5" fill="none"/>
<path d="M415.45 188.41h3.60M417.25 186.61v3.60" stroke="#111" stroke-width="0.5" fill="none"/>
<path d="M381.35 145.45h3.60M383.15 143.65v3.60" stroke="#111" stroke-width="0.5" fill="none"/>
<path d="M382.37 143.47h3.60M384.17 141.67v3.60" stroke="#111" stroke-width="0.5" fill="none"/>
<path d="M421.08 191.86h3.60M422.88 190.06v3.60" stroke="#111" stroke-width="0.5" fill="none"/>
<path d="M422.49 190.36h3.60M424.29 188.56v3.60" stroke="#111" stroke-width="0.5" fill="none"/>
<path d="M421.36 191.38h3.60M423.16 189.58v3.60" stroke="#111" stroke-width="0.5" fill="none"/>
<path d="M412.39 184.74h3.60M414.19 182.94v3.60" stroke="#111" stroke-width="0.5" fill="none"/>
<path d="M423.60 193.25h3.60M425.40 191.45v3.60" stroke="#111" stroke-width="0.5" fill="none"/>
<path d="M379.31 136.85h3.60M381.11 135.05v3.60" stroke="#111" stroke-width="0.5" fill="none"/>
<path d="M376.36 125.19h3.60M378.16 123.39v3.60" stroke="#111" stroke-width="0.5" fill="none"/>
<path d="M382.22 140.38h3.60M384.02 138.58v3.60" stroke="#111" stroke-width="0.5" fill="none"/>
<path d="M382.19 139.58h3.60M383.99 137.78v3.60" stroke="#111" stroke-width="0.5" fill="none"/>
<path d="M387.07 149.72h3.60M388.87 147.92v3.60" stroke="#111" stroke-width="0.5" fill="none"/>
<path d="M413.84 186.07h3.60M415.64 184.27v3.60" stroke="#111" stroke-width="0.5" fill="none"/>
<path d="M381.63 141.01h3.60M383.43 139.21v3.60" stroke="#111" stroke-width="0.5" fill="none"/>
<path d="M392.76 167.88h3.60M394.56 166.08v3.60" stroke="#111" stroke-width="0.5" fill="none"/>
<path d="M403.89 180.07h3.60M405.69 178.27v3.60" stroke="#111" stroke-width="0.5" fill="none"/>
<path d="M378.17 130.25h3.60M379.97 128.45v3.60" stroke="#111" stroke-width="0.5" fill="none"/>
<path d="M404.40 179.97h3.60M406.20 178.17v3.60" stroke="#111" stroke-width="0.5" fill="none"/>
<path d="M387.38 157.35h3.60M389.18 155.55v3.60" stroke="#111" stroke-width="0.5" fill="none"/>
<path d="M424.54 191.31h3.60M426.34 189.51v3.60" stroke="#111" stroke-width="0.5" fill="none"/>
<path d="M376.93 124.03h3.60M378.73 122.23v3.60" stroke="#111" stroke-width="0.5" fill="none"/>
<path d="M378.72 127.08h3.60M380.52 125.28v3.60" stroke="#111" stroke-width="0.5" fill="none"/>
<path d="M378.10 125.56h3.60M379.90 123.76v3.60" stroke="#111" stroke-width="0.5" fill="none"/>
<path d="M393.98 169.95h3.60M395.78 168.15v3.60" stroke="#111" stroke-width="0.5" fill="none"/>
<path d="M387.95 157.44h3.60M389.75 155.64v3.60" stroke="#111" stroke-width="0.5" fill="none"/>
<path d="M385.80 151.68h3.60M387.60 149.88v3.60" stroke="#111" stroke-width="0.5" fill="none"/>
<path d="M374.83 122.52h3.60M376.63 120.72v3.60" stroke="#111" stroke-width="0.5" fill="none"/>
<path d="M392.53 162.43h3.60M394.33 160.63v3.60" stroke="#111" stroke-width="0.5" fill="none"/>
<path d="M412.81 185.73h3.60M414.61 183.93v3.60" stroke="#111" stroke-width="0.5" fill="none"/>
<path d="M371.90 117.05h3.60M373.70 115.25v3.60" stroke="#111" stroke-width="0.5" fill="none"/>
<path d="M411.90 182.43h3.60M413.70 180.63v3.60" stroke="#111" stroke-width="0.5" fill="none"/>
<path d="M400.09 175.61h3.60M401.89 173.81v3.60" stroke="#111" stroke-width="0.5" fill="none"/>
<path d="M378.77 136.68h3.60M380.57 134.88v3.60" stroke="#111" stroke-width="0.5" fill="none"/>
<path d="M387.22 154.04h3.60M389.02 152.24v3.60" stroke="#111" stroke-width="0.5" fill="none"/>
<path d="M389.27 158.84h3.60M391.07 157.04v3.60" stroke="#111" stroke-width="0.5" fill="none"/>
<path d="M407.05 182.23h3.60M408.85 180.43v3.60" stroke="#111" stroke-width="0.5" fill="none"/>
<path d="M390.46 158.25h3.60M392.26 156.45v3.60" stroke="#111" stroke-width="0.5" fill="none"/>
<path d="M419.49 192.48h3.60M421.29 190.68v3.60" stroke="#111" stroke-width="0.5" fill="none"/>
<path d="M391.43 162.17h3.60M393.23 160.37v3.60" stroke="#111" stroke-width="0.5" fill="none"/>
<path d="M397.70 174.45h3.60M399.50 172.65v3.60" stroke="#111" stroke-width="0.5" fill="none"/>
<path d="M384.22 145.53h3.60M386.02 143.73v3.60" stroke="#111" stroke-width="0.5" fill="none"/>
<path d="M387.56 156.44h3.60M389.36 154.64v3.60" stroke="#111" stroke-width="0.5" fill="none"/>
<path d="M373.46 121.24h3.60M375.26 119.44v3.60" stroke="#111" stroke-width="0.5" fill="none"/>
<path d="M386.94 152.11h3.60M388.74 150.31v3.60" stroke="#111" stroke-width="0.5" fill="none"/>
<path d="M415.62 187.73h3.60M417.42 185.93v3.60" stroke="#111" stroke-width="0.5" fill="none"/>
<path d="M372.82 119.97h3.60M374.62 118.17v3.60" stroke="#111" stroke-width="0.5" fill="none"/>
<path d="M380.11 132.04h3.60M381.91 130.24v3.60" stroke="#111" stroke-width="0.5" fill="none"/>
<path d="M410.76 186.16h3.60M412.56 184.36v3.60" stroke="#111" stroke-width="0.5" fill="none"/>
<path d="M386.68 154.13h3.60M388.48 152.33v3.60" stroke="#111" stroke-width="0.5" fill="none"/>
<path d="M411.65 185.06h3.60M413.45 183.26v3.60" stroke="#111" stroke-width="0.5" fill="none"/>
<path d="M380.27 139.53h3.60M382.07 137.73v3.60" stroke="#111" stroke-width="0.5" fill="none"/>
<path d="M391.84 161.40h3.60M393.64 159.60v3.60" stroke="#111" stroke-width="0.5" fill="none"/>
<path d="M375.70 125.36h3.60M377.50 123.56v3.60" stroke="#111" stroke-width="0.5" fill="none"/>
<path d="M416.00 187.83h3.60M417.80 186.03v3.60" stroke="#111" stroke-width="0.5" fill="none"/>
<path d="M381.00 133.01h3.60M382.80 131.21v3.60" stroke="#111" stroke-width="0.5" fill="none"/>
<path d="M409.23 183.96h3.60M411.03 182.16v3.60" stroke="#111" stroke-width="0.5" fill="none"/>
<path d="M405.99 180.53h3.60M407.79 178.73v3.60" stroke="#111" stroke-width="0.5" fill="none"/>
<path d="M380.91 139.33h3.60M382.71 137.53v3.60" stroke="#111" stroke-width="0.5" fill="none"/>
<path d="M381.45 136.34h3.60M383.25 134.54v3.60" stroke="#111" stroke-width="0.5" fill="none"/>
<path d="M371.08 116.69h3.60M372.88 114.89v3.60" stroke="#111" stroke-width="0.5" fill="none"/>
<path d="M390.24 162.13h3.60M392.04 160.33v3.60" stroke="#111" stroke-width="0.5" fill="none"/>
<path d="M393.47 163.20h3.60M395.27 161.40v3.60" stroke="#111" stroke-width="0.5" fill="none"/>
<path d="M390.24 160.41h3.60M392.04 158.61v3.60" stroke="#111" stroke-width="0.5" fill="none"/>
<path d="M403.04 177.91h3.60M404.84 176.11v3.60" stroke="#111" stroke-width="0.5" fill="none"/>
<path d="M379.95 130.59h3.60M381.75 128.79v3.60" stroke="#111" stroke-width="0.5" fill="none"/>
<path d="M414.32 186.94h3.60M416.12 185.14v3.60" stroke="#111" stroke-width="0.5" fill="none"/>
<path d="M421.41 189.57h3.60M423.21 187.77v3.60" stroke="#111" stroke-width="0.5" fill="none"/>
<path d="M393.51 169.97h3.60M395.31 168.17v3.60" stroke="#111" stroke-width="0.5" fill="none"/>
<path d="M391.59 162.13h3.60M393.39 160.33v3.60" stroke="#111" stroke-width="0.5" fill="none"/>
<path d="M381.03 140.91h3.60M382.83 139.11v3.60" stroke="#111" stroke-width="0.5" fill="none"/>
<path d="M379.67 136.05h3.60M381.47 134.25v3.60" stroke="#111" stroke-width="0.5" fill="none"/>
<path d="M392.65 168.02h3.60M394.45 166.22v3.60" stroke="#111" stroke-width="0.5" fill="none"/>
<path d="M388.79 157.20h3.60M390.59 155.40v3.60" stroke="#111" stroke-width="0.5" fill="none"/>
<path d="M416.76 188.13h3.60M418.56 186.33v3.60" stroke="#111" stroke-width="0.5" fill="none"/>
<path d="M375.82 126.59h3.60M377.62 124.79v3.60" stroke="#111" stroke-width="0.5" fill="none"/>
<path d="M380.04 135.66h3.60M381.84 133.86v3.60" stroke="#111" stroke-width="0.5" fill="none"/>
<path d="M387.53 154.17h3.60M389.33 152.37v3.60" stroke="#111" stroke-width="0.5" fill="none"/>
<path d="M371.57 119.87h3.60M373.37 118.07v3.60" stroke="#111" stroke-width="0.5" fill="none"/>
<path d="M370.35 117.87h3.60M372.15 116.07v3.60" stroke="#111" stroke-width="0.5" fill="none"/>
<path d="M386.54 153.18h3.60M388.34 151.38v3.60" stroke="#111" stroke-width="0.5" fill="none"/>
<path d="M417.55 190.01h3.60M419.35 188.21v3.60" stroke="#111" stroke-width="0.5" fill="none"/>
<path d="M408.08 180.66h3.60M409.88 178.86v3.60" stroke="#111" stroke-width="0.5" fill="none"/>
<path d="M388.56 155.54h3.60M390.36 153.74v3.60" stroke="#111" stroke-width="0.5" fill="none"/>
<path d="M377.88 133.09h3.60M379.68 131.29v3.60" stroke="#111" stroke-width="0.5" fill="none"/>
<path d="M425.46 192.39h3.60M427.26 190.59v3.60" stroke="#111" stroke-width="0.5" fill="none"/>
<path d="M427.23 193.05h3.60M429.03 191.25v3.60" stroke="#111" stroke-width="0.5" fill="none"/>
<path d="M409.95 183.01h3.60M411.75 181.21v3.60" stroke="#111" stroke-width="0.5" fill="none"/>
<path d="M389.34 154.83h3.60M391.14 153.03v3.60" stroke="#111" stroke-width="0.5" fill="none"/>
<path d="M390.17 163.52h3.60M391.97 161.72v3.60" stroke="#111" stroke-width="0.5" fill="none"/>
<path d="M373.80 120.59h3.60M375.60 118.79v3.60" stroke="#111" stroke-width="0.5" fill="none"/>
<path d="M385.53 152.60h3.60M387.33 150.80v3.60" stroke="#111" stroke-width="0.5" fill="none"/>
<path d="M392.54 161.55h3.60M394.34 159.75v3.60" stroke="#111" stroke-width="0.5" fill="none"/>
<path d="M382.34 144.81h3.60M384.14 143.01v3.60" stroke="#111" stroke-width="0.5" fill="none"/>
<path d="M398.26 177.43h3.60M400.06 175.63v3.60" stroke="#111" stroke-width="0.5" fill="none"/>
<path d="M379.31 136.32h3.60M381.11 134.52v3.60" stroke="#111" stroke-width="0.5" fill="none"/>
<path d="M400.57 177.10h3.60M402.37 175.30v3.60" stroke="#111" stroke-width="0.5" fill="none"/>
<path d="M392.04 168.46h3.60M393.84 166.66v3.60" stroke="#111" stroke-width="0.5" fill="none"/>
<path d="M396.99 173.51h3.60M398.79 171.71v3.60" stroke="#111" stroke-width="0.5" fill="none"/>
<path d="M380.60 141.46h3.60M382.40 139.66v3.60" stroke="#111" stroke-width="0.5" fill="none"/>
<path d="M396.42 169.01h3.60M398.22 167.21v3.60" stroke="#111" stroke-width="0.5" fill="none"/>
<path d="M375.68 122.55h3.60M377.48 120.75v3.60" stroke="#111" stroke-width="0.5" fill="none"/>
<path d="M372.94 122.39h3.60M374.74 120.59v3.60" stroke="#111" stroke-width="0.5" fill="none"/>
<path d="M389.30 157.03h3.60M391.10 155.23v3.60" stroke="#111" stroke-width="0.5" fill="none"/>
<path d="M393.02 170.04h3.60M394.82 168.24v3.60" stroke="#111" stroke-width="0.5" fill="none"/>
<path d="M391.58 163.27h3.60M393.38 161.47v3.60" stroke="#111" stroke-width="0.5" fill="none"/>
<path d="M412.03 185.35h3.60M413.83 183.55v3.60" stroke="#111" stroke-width="0.5" fill="none"/>
<path d="M397.54 174.77h3.60M399.34 172.97v3.60" stroke="#111" stroke-width="0.5" fill="none"/>
<path d="M414.47 184.50h3.60M416.27 182.70v3.60" stroke="#111" stroke-width="0.5" fill="none"/>
<path d="M392.05 166.40h3.60M393.85 164.60v3.60" stroke="#111" stroke-width="0.5" fill="none"/>
<path d="M376.62 128.52h3.60M378.42 126.72v3.60" stroke="#111" stroke-width="0.5" fill="none"/>
<path d="M386.31 152.59h3.60M388.11 150.79v3.60" stroke="#111" stroke-width="0.5" fill="none"/>
<path d="M420.54 193.06h3.60M422.34 191.26v3.60" stroke="#111" stroke-width="0.5" fill="none"/>
<path d="M376.54 128.47h3.60M378.34 126.67v3.60" stroke="#111" stroke-width="0.5" fill="none"/>
<path d="M402.65 178.96h3.60M404.45 177.16v3.60" stroke="#111" stroke-width="0.5" fill="none"/>
<path d="M380.95 133.76h3.60M382.75 131.96v3.60" stroke="#111" stroke-width="0.5" fill="none"/>
<path d="M422.84 193.31h3.60M424.64 191.51v3.60" stroke="#111" stroke-width="0.5" fill="none"/>
<path d="M383.23 146.07h3.60M385.03 144.27v3.60" stroke="#111" stroke-width="0.5" fill="none"/>
<path d="M382.73 139.92h3.60M384.53 138.12v3.60" stroke="#111" stroke-width="0.5" fill="none"/>
<path d="M392.58 168.19h3.60M394.38 166.39v3.60" stroke="#111" stroke-width="0.5" fill="none"/>
<path d="M413.97 188.04h3.60M415.77 186.24v3.60" stroke="#111" stroke-width="0.5" fill="none"/>
<path d="M411.50 184.93h3.60M413.30 183.13v3.60" stroke="#111" stroke-width="0.5" fill="none"/>
<path d="M378.64 135.76h3.60M380.44 133.96v3.60" stroke="#111" stroke-width="0.5" fill="none"/>
<path d="M427.36 192.90h3.60M429.16 191.10v3.60" stroke="#111" stroke-width="0.5" fill="none"/>
<path d="M395.15 171.78h3.60M396.95 169.98v3.60" stroke="#111" stroke-width="0.5" fill="none"/>
<path d="M388.65 155.87h3.60M390.45 154.07v3.60" stroke="#111" stroke-width="0.5" fill="none"/>
<path d="M382.71 147.01h3.60M384.51 145.21v3.60" stroke="#111" stroke-width="0.5" fill="none"/>
<path d="M385.38 147.76h3.60M387.18 145.96v3.60" stroke="#111" stroke-width="0.5" fill="none"/>
<path d="M375.30 124.83h3.60M377.10 123.03v3.60" stroke="#111" stroke-width="0.5" fill="none"/>
<path d="M421.26 189.80h3.60M423.06 188.00v3.60" stroke="#111" stroke-width="0.5" fill="none"/>
<path d="M382.65 141.01h3.60M384.45 139.21v3.60" stroke="#111" stroke-width="0.5" fill="none"/>
<path d="M389.59 161.29h3.60M391.39 159.49v3.60" stroke="#111" stroke-width="0.5" fill="none"/>
<path d="M392.32 163.82h3.60M394.12 162.02v3.60" stroke="#111" stroke-width="0.5" fill="none"/>
<path d="M403.43 180.02h3.60M405.23 178.22v3.60" stroke="#111" stroke-width="0.5" fill="none"/>
<path d="M394.91 172.85h3.60M396.71 171.05v3.60" stroke="#111" stroke-width="0.5" fill="none"/>
<path d="M382.71 149.00h3.60M384.51 147.20v3.60" stroke="#111" stroke-width="0.5" fill="none"/>
<path d="M404.30 178.71h3.60M406.10 176.91v3.60" stroke="#111" stroke-width="0.5" fill="none"/>
<path d="M372.55 118.75h3.60M374.35 116.95v3.60" stroke="#111" stroke-width="0.5" fill="none"/>
<path d="M396.57 171.89h3.60M398.37 170.09v3.60" stroke="#111" stroke-width="0.5" fill="none"/>
<path d="M390.31 161.20h3.60M392.11 159.40v3.60" stroke="#111" stroke-width="0.5" fill="none"/>
<path d="M379.14 133.50h3.60M380.94 131.70v3.60" stroke="#111" stroke-width="0.5" fill="none"/>
<path d="M377.48 123.25h3.60M379.28 121.45v3.60" stroke="#111" stroke-width="0.5" fill="none"/>
<path d="M382.77 139.82h3.60M384.57 138.02v3.60" stroke="#111" stroke-width="0.5" fill="none"/>
<path d="M401.76 178.22h3.60M403.56 176.42v3.60" stroke="#111" stroke-width="0.5" fill="none"/>
<path d="M382.07 144.06h3.60M383.87 142.26v3.60" stroke="#111" stroke-width="0.5" fill="none"/>
<path d="M415.91 186.79h3.60M417.71 184.99v3.60" stroke="#111" stroke-width="0.5" fill="none"/>
<path d="M388.54 155.49h3.60M390.34 153.69v3.60" stroke="#111" stroke-width="0.5" fill="none"/>
<path d="M375.24 122.71h3.60M377.04 120.91v3.60" stroke="#111" stroke-width="0.5" fill="none"/>
<path d="M375.89 120.12h3.60M377.69 118.32v3.60" stroke="#111" stroke-width="0.5" fill="none"/>
<path d="M391.45 163.62h3.60M393.25 161.82v3.60" stroke="#111" stroke-width="0.5" fill="none"/>
<path d="M404.02 179.04h3.60M405.82 177.24v3.60" stroke="#111" stroke-width="0.5" fill="none"/>
<path d="M403.61 180.85h3.60M405.41 179.05v3.60" stroke="#111" stroke-width="0.5" fill="none"/>
<path d="M411.58 186.07h3.60M413.38 184.27v3.60" stroke="#111" stroke-width="0.5" fill="none"/>
<path d="M408.86 182.37h3.60M410.66 180.57v3.60" stroke="#111" stroke-width="0.5" fill="none"/>
<path d="M402.77 179.50h3.60M404.57 177.70v3.60" stroke="#111" stroke-width="0.5" fill="none"/>
<path d="M413.70 187.75h3.60M415.50 185.95v3.60" stroke="#111" stroke-width="0.5" fill="none"/>
<path d="M378.61 129.12h3.60M380.41 127.32v3.60" stroke="#111" stroke-width="0.5" fill="none"/>
<path d="M413.92 187.43h3.60M415.72 185.63v3.60" stroke="#111" stroke-width="0.5" fill="none"/>
<path d="M398.85 172.76h3.60M400.65 170.96v3.60" stroke="#111" stroke-width="0.5" fill="none"/>
<path d="M414.35 186.83h3.60M416.15 185.03v3.60" stroke="#111" stroke-width="0.5" fill="none"/>
<path d="M383.04 143.01h3.60M384.84 141.21v3.60" stroke="#111" stroke-width="0.5" fill="none"/>
<path d="M376.29 126.41h3.60M378.09 124.61v3.60" stroke="#111" stroke-width="0.5" fill="none"/>
<path d="M383.07 139.76h3.60M384.87 137.96v3.60" stroke="#111" stroke-width="0.5" fill="none"/>
<path d="M414.09 185.29h3.60M415.89 183.49v3.60" stroke="#111" stroke-width="0.5" fill="none"/>
<path d="M381.83 145.75h3.60M383.63 143.95v3.60" stroke="#111" stroke-width="0.5" fill="none"/>
<path d="M421.76 192.98h3.60M423.56 191.18v3.60" stroke="#111" stroke-width="0.5" fill="none"/>
<path d="M380.63 132.23h3.60M382.43 130.43v3.60" stroke="#111" stroke-width="0.5" fill="none"/>
<path d="M400.34 175.11h3.60M402.14 173.31v3.60" stroke="#111" stroke-width="0.5" fill="none"/>
<path d="M388.70 156.80h3.60M390.50 155.00v3.60" stroke="#111" stroke-width="0.5" fill="none"/>
<path d="M426.90 192.76h3.60M428.70 190.96v3.60" stroke="#111" stroke-width="0.5" fill="none"/>
<path d="M393.84 170.31h3.60M395.64 168.51v3.60" stroke="#111" stroke-width="0.5" fill="none"/>
<path d="M386.21 151.06h3.60M388.01 149.26v3.60" stroke="#111" stroke-width="0.5" fill="none"/>
<path d="M384.84 147.63h3.60M386.64 145.83v3.60" stroke="#111" stroke-width="0.5" fill="none"/>
<path d="M381.96 135.79h3.60M383.76 133.99v3.60" stroke="#111" stroke-width="0.5" fill="none"/>
<path d="M379.83 139.48h3.60M381.63 137.68v3.60" stroke="#111" stroke-width="0.5" fill="none"/>
<path d="M387.30 157.29h3.60M389.10 155.49v3.60" stroke="#111" stroke-width="0.5" fill="none"/>
<path d="M422.03 192.75h3.60M423.83 190.95v3.60" stroke="#111" stroke-width="0.5" fill="none"/>
<path d="M407.47 181.76h3.60M409.27 179.96v3.60" stroke="#111" stroke-width="0.5" fill="none"/>
<path d="M389.25 152.81h3.60M391.05 151.01v3.60" stroke="#111" stroke-width="0.5" fill="none"/>
<path d="M417.88 188.50h3.60M419.68 186.70v3.60" stroke="#111" stroke-width="0.5" fill="none"/>
<path d="M377.30 122.76h3.60M379.10 120.96v3.60" stroke="#111" stroke-width="0.5" fill="none"/>
<path d="M422.40 190.05h3.60M424.20 188.25v3.60" stroke="#111" stroke-width="0.5" fill="none"/>
<path d="M384.48 147.01h3.60M386.28 145.21v3.60" stroke="#111" stroke-width="0.5" fill="none"/>
<path d="M391.23 162.30h3.60M393.03 160.50v3.60" stroke="#111" stroke-width="0.5" fill="none"/>
<path d="M372.59 118.04h3.60M374.39 116.24v3.60" stroke="#111" stroke-width="0.5" fill="none"/>
<path d="M409.87 182.77h3.60M411.67 180.97v3.60" stroke="#111" stroke-width="0.5" fill="none"/>
<path d="M384.73 150.09h3.60M386.53 148.29v3.60" stroke="#111" stroke-width="0.5" fill="none"/>
<path d="M374.25 122.36h3.60M376.05 120.56v3.60" stroke="#111" stroke-width="0.5" fill="none"/>
<path d="M389.26 156.85h3.60M391.06 155.05v3.60" stroke="#111" stroke-width="0.5" fill="none"/>
<path d="M387.76 154.00h3.60M389.56 152.20v3.60" stroke="#111" stroke-width="0.5" fill="none"/>
<path d="M392.18 168.25h3.60M393.98 166.45v3.60" stroke="#111" stroke-width="0.5" fill="none"/>
<path d="M385.37 147.49h3.60M387.17 145.69v3.60" stroke="#111" stroke-width="0.5" fill="none"/>
<path d="M380.52 131.59h3.60M382.32 129.79v3.60" stroke="#111" stroke-width="0.5" fill="none"/>
<path d="M379.23 136.25h3.60M381.03 134.45v3.60" stroke="#111" stroke-width="0.5" fill="none"/>
<path d="M396.99 173.11h3.60M398.79 171.31v3.60" stroke="#111" stroke-width="0.5" fill="none"/>
<path d="M383.21 146.37h3.60M385.01 144.57v3.60" stroke="#111" stroke-width="0.5" fill="none"/>
<path d="M377.35 131.90h3.60M379.15 130.10v3.60" stroke="#111" stroke-width="0.5" fill="none"/>
<path d="M383.86 147.58h3.60M385.66 145.78v3.60" stroke="#111" stroke-width="0.5" fill="none"/>
<path d="M372.23 118.30h3.60M374.03 116.50v3.60" stroke="#111" stroke-width="0.5" fill="none"/>
<path d="M405.90 179.74h3.60M407.70 177.94v3.60" stroke="#111" stroke-width="0.5" fill="none"/>
<path d="M380.65 141.37h3.60M382.45 139.57v3.60" stroke="#111" stroke-width="0.5" fill="none"/>
<path d="M412.63 186.31h3.60M414.43 184.51v3.60" stroke="#111" stroke-width="0.5" fill="none"/>
<path d="M383.10 144.13h3.60M384.90 142.33v3.60" stroke="#111" stroke-width="0.5" fill="none"/>
<path d="M389.30 160.50h3.60M391.10 158.70v3.60" stroke="#111" stroke-width="0.5" fill="none"/>
<path d="M412.34 186.54h3.60M414.14 184.74v3.60" stroke="#111" stroke-width="0.5" fill="none"/>
<polyline points="372.50,116.40 375.70,122.60 378.40,133.20 381.60,144.90 384.80,153.30 388.80,162.90 391.70,170.00 394.80,175.50 398.20,179.30 402.80,182.80 407.50,185.10 410.40,188.00 413.40,189.80 418.00,190.90 423.90,193.30 426.20,193.90 435.50,194.10 436.70,195.00 436.90,199.90 461.00,199.90 461.50,203.60 470.30,203.60 470.70,206.10 497.80,206.10" fill="none" stroke="#f52020" stroke-width="1.0" stroke-linejoin="miter"/>
<path d="M440.90 199.90h3.60M442.70 198.10v3.60" stroke="#333" stroke-width="0.5" fill="none"/>
<path d="M496.00 206.10h3.60M497.80 204.30v3.60" stroke="#333" stroke-width="0.5" fill="none"/>
<path d="M396.44 179.25h3.60M398.24 177.45v3.60" stroke="#333" stroke-width="0.5" fill="none"/>
<path d="M377.74 136.60h3.60M379.54 134.80v3.60" stroke="#333" stroke-width="0.5" fill="none"/>
<path d="M391.06 171.89h3.60M392.86 170.09v3.60" stroke="#333" stroke-width="0.5" fill="none"/>
<path d="M390.53 170.05h3.60M392.33 168.25v3.60" stroke="#333" stroke-width="0.5" fill="none"/>
<path d="M411.16 189.45h3.60M412.96 187.65v3.60" stroke="#333" stroke-width="0.5" fill="none"/>
<path d="M411.28 189.46h3.60M413.08 187.66v3.60" stroke="#333" stroke-width="0.5" fill="none"/>
<path d="M420.57 192.37h3.60M422.37 190.57v3.60" stroke="#333" stroke-width="0.5" fill="none"/>
<path d="M380.56 146.20h3.60M382.36 144.40v3.60" stroke="#333" stroke-width="0.5" fill="none"/>
<path d="M379.08 142.69h3.60M380.88 140.89v3.60" stroke="#333" stroke-width="0.5" fill="none"/>
<path d="M394.37 176.78h3.60M396.17 174.98v3.60" stroke="#333" stroke-width="0.5" fill="none"/>
<path d="M407.59 187.24h3.60M409.39 185.44v3.60" stroke="#333" stroke-width="0.5" fill="none"/>
<path d="M412.04 190.05h3.60M413.84 188.25v3.60" stroke="#333" stroke-width="0.5" fill="none"/>
<path d="M379.24 142.21h3.60M381.04 140.41v3.60" stroke="#333" stroke-width="0.5" fill="none"/>
<path d="M418.96 192.01h3.60M420.76 190.21v3.60" stroke="#333" stroke-width="0.5" fill="none"/>
<path d="M392.25 173.96h3.60M394.05 172.16v3.60" stroke="#333" stroke-width="0.5" fill="none"/>
<path d="M382.22 150.74h3.60M384.02 148.94v3.60" stroke="#333" stroke-width="0.5" fill="none"/>
<path d="M380.88 147.09h3.60M382.68 145.29v3.60" stroke="#333" stroke-width="0.5" fill="none"/>
<path d="M390.70 172.06h3.60M392.50 170.26v3.60" stroke="#333" stroke-width="0.5" fill="none"/>
<path d="M376.40 132.28h3.60M378.20 130.48v3.60" stroke="#333" stroke-width="0.5" fill="none"/>
<path d="M382.15 151.47h3.60M383.95 149.67v3.60" stroke="#333" stroke-width="0.5" fill="none"/>
<path d="M406.49 186.17h3.60M408.29 184.37v3.60" stroke="#333" stroke-width="0.5" fill="none"/>
<path d="M388.62 167.16h3.60M390.42 165.36v3.60" stroke="#333" stroke-width="0.5" fill="none"/>
<path d="M415.36 190.83h3.60M417.16 189.03v3.60" stroke="#333" stroke-width="0.5" fill="none"/>
<path d="M409.52 188.32h3.60M411.32 186.52v3.60" stroke="#333" stroke-width="0.5" fill="none"/>
<path d="M411.35 189.41h3.60M413.15 187.61v3.60" stroke="#333" stroke-width="0.5" fill="none"/>
<path d="M414.10 190.66h3.60M415.90 188.86v3.60" stroke="#333" stroke-width="0.5" fill="none"/>
<path d="M383.15 154.72h3.60M384.95 152.92v3.60" stroke="#333" stroke-width="0.5" fill="none"/>
<path d="M376.44 134.03h3.60M378.24 132.23v3.60" stroke="#333" stroke-width="0.5" fill="none"/>
<path d="M426.49 194.10h3.60M428.29 192.30v3.60" stroke="#333" stroke-width="0.5" fill="none"/>
<path d="M378.75 141.56h3.60M380.55 139.76v3.60" stroke="#333" stroke-width="0.5" fill="none"/>
<rect x="546.50" y="112.20" width="137.10" height="101.60" fill="none" stroke="#b4b4b4" stroke-width="0.9"/>
<line x1="544.30" y1="209.30" x2="546.50" y2="209.30" stroke="#555" stroke-width="0.5"/>
<text x="535.01" y="211.30" font-size="6.05" fill="#222" textLength="8.59" lengthAdjust="spacingAndGlyphs" stroke="#222" stroke-width="0.09">0.0</text>
<line x1="544.30" y1="190.76" x2="546.50" y2="190.76" stroke="#555" stroke-width="0.5"/>
<text x="535.01" y="192.76" font-size="6.05" fill="#222" textLength="8.59" lengthAdjust="spacingAndGlyphs" stroke="#222" stroke-width="0.09">0.2</text>
<line x1="544.30" y1="172.22" x2="546.50" y2="172.22" stroke="#555" stroke-width="0.5"/>
<text x="535.01" y="174.22" font-size="6.05" fill="#222" textLength="8.59" lengthAdjust="spacingAndGlyphs" stroke="#222" stroke-width="0.09">0.4</text>
<line x1="544.30" y1="153.68" x2="546.50" y2="153.68" stroke="#555" stroke-width="0.5"/>
<text x="535.01" y="155.68" font-size="6.05" fill="#222" textLength="8.59" lengthAdjust="spacingAndGlyphs" stroke="#222" stroke-width="0.09">0.6</text>
<line x1="544.30" y1="135.14" x2="546.50" y2="135.14" stroke="#555" stroke-width="0.5"/>
<text x="535.01" y="137.14" font-size="6.05" fill="#222" textLength="8.59" lengthAdjust="spacingAndGlyphs" stroke="#222" stroke-width="0.09">0.8</text>
<line x1="544.30" y1="116.60" x2="546.50" y2="116.60" stroke="#555" stroke-width="0.5"/>
<text x="535.01" y="118.60" font-size="6.05" fill="#222" textLength="8.59" lengthAdjust="spacingAndGlyphs" stroke="#222" stroke-width="0.09">1.0</text>
<line x1="552.80" y1="213.80" x2="552.80" y2="216.00" stroke="#555" stroke-width="0.5"/>
<text x="551.11" y="220.20" font-size="5.94" fill="#222" textLength="3.37" lengthAdjust="spacingAndGlyphs" stroke="#222" stroke-width="0.09">0</text>
<line x1="573.62" y1="213.80" x2="573.62" y2="216.00" stroke="#555" stroke-width="0.5"/>
<text x="570.25" y="220.20" font-size="5.94" fill="#222" textLength="6.74" lengthAdjust="spacingAndGlyphs" stroke="#222" stroke-width="0.09">20</text>
<line x1="594.44" y1="213.80" x2="594.44" y2="216.00" stroke="#555" stroke-width="0.5"/>
<text x="591.07" y="220.20" font-size="5.94" fill="#222" textLength="6.74" lengthAdjust="spacingAndGlyphs" stroke="#222" stroke-width="0.09">40</text>
<line x1="615.26" y1="213.80" x2="615.26" y2="216.00" stroke="#555" stroke-width="0.5"/>
<text x="611.89" y="220.20" font-size="5.94" fill="#222" textLength="6.74" lengthAdjust="spacingAndGlyphs" stroke="#222" stroke-width="0.09">60</text>
<line x1="636.08" y1="213.80" x2="636.08" y2="216.00" stroke="#555" stroke-width="0.5"/>
<text x="632.71" y="220.20" font-size="5.94" fill="#222" textLength="6.74" lengthAdjust="spacingAndGlyphs" stroke="#222" stroke-width="0.09">80</text>
<line x1="656.90" y1="213.80" x2="656.90" y2="216.00" stroke="#555" stroke-width="0.5"/>
<text x="651.84" y="220.20" font-size="5.94" fill="#222" textLength="10.12" lengthAdjust="spacingAndGlyphs" stroke="#222" stroke-width="0.09">100</text>
<line x1="677.72" y1="213.80" x2="677.72" y2="216.00" stroke="#555" stroke-width="0.5"/>
<text x="672.66" y="220.20" font-size="5.94" fill="#222" textLength="10.12" lengthAdjust="spacingAndGlyphs" stroke="#222" stroke-width="0.09">120</text>
<text x="605.23" y="110.40" font-size="7.62" fill="#111" textLength="19.64" lengthAdjust="spacingAndGlyphs" stroke="#111" stroke-width="0.09">RRM1</text>
<text x="616.45" y="119.70" font-size="6.05" fill="#111" textLength="63.15" lengthAdjust="spacingAndGlyphs" stroke="#111" stroke-width="0.09">HR = 1.33 (1.03 - 1.72)</text>
<text x="626.05" y="125.80" font-size="6.05" fill="#111" textLength="53.55" lengthAdjust="spacingAndGlyphs" stroke="#111" stroke-width="0.09">Logrank P = 0.0297</text>
<text x="616.83" y="137.70" font-size="5.94" fill="#111" textLength="28.77" lengthAdjust="spacingAndGlyphs" stroke="#111" stroke-width="0.09">Expression</text>
<line x1="650.00" y1="132.10" x2="661.20" y2="132.10" stroke="#6a6a6a" stroke-width="0.75"/>
<line x1="650.00" y1="140.00" x2="661.20" y2="140.00" stroke="#ff5a5a" stroke-width="0.75"/>
<text x="665.60" y="134.40" font-size="6.05" fill="#111" textLength="10.63" lengthAdjust="spacingAndGlyphs" stroke="#111" stroke-width="0.09">Low</text>
<text x="665.60" y="141.70" font-size="6.05" fill="#111" textLength="12.41" lengthAdjust="spacingAndGlyphs" stroke="#111" stroke-width="0.09">High</text>
<text x="568.31" y="227.40" font-size="6.83" fill="#111" textLength="93.47" lengthAdjust="spacingAndGlyphs" stroke="#111" stroke-width="0.09">Disease free survival (months)</text>
<text x="532.50" y="179.12" font-size="6.83" fill="#111" textLength="32.25" lengthAdjust="spacingAndGlyphs" transform="rotate(-90 532.50 179.12)">Probability</text>
<text x="538.54" y="237.40" font-size="5.75" fill="#111" textLength="14.56" lengthAdjust="spacingAndGlyphs" stroke="#111" stroke-width="0.09">At risk</text>
<text x="530.24" y="242.60" font-size="5.75" fill="#111" textLength="9.06" lengthAdjust="spacingAndGlyphs" stroke="#111" stroke-width="0.09">Low</text>
<text x="528.73" y="247.50" font-size="5.75" fill="#ff2020" textLength="10.57" lengthAdjust="spacingAndGlyphs" stroke="#ff2020" stroke-width="0.09">High</text>
<text x="544.40" y="242.60" font-size="5.63" fill="#111" textLength="8.40" lengthAdjust="spacingAndGlyphs" stroke="#111" stroke-width="0.09">106</text>
<text x="544.40" y="247.50" font-size="5.63" fill="#ff2020" textLength="8.40" lengthAdjust="spacingAndGlyphs" stroke="#ff2020" stroke-width="0.09">172</text>
<text x="568.02" y="242.60" font-size="5.63" fill="#111" textLength="5.60" lengthAdjust="spacingAndGlyphs" stroke="#111" stroke-width="0.09">26</text>
<text x="568.02" y="247.50" font-size="5.63" fill="#ff2020" textLength="5.60" lengthAdjust="spacingAndGlyphs" stroke="#ff2020" stroke-width="0.09">26</text>
<text x="588.84" y="242.60" font-size="5.63" fill="#111" textLength="5.60" lengthAdjust="spacingAndGlyphs" stroke="#111" stroke-width="0.09">12</text>
<text x="588.84" y="247.50" font-size="5.63" fill="#ff2020" textLength="5.60" lengthAdjust="spacingAndGlyphs" stroke="#ff2020" stroke-width="0.09">10</text>
<text x="612.46" y="242.60" font-size="5.63" fill="#111" textLength="2.80" lengthAdjust="spacingAndGlyphs" stroke="#111" stroke-width="0.09">3</text>
<text x="612.46" y="247.50" font-size="5.63" fill="#ff2020" textLength="2.80" lengthAdjust="spacingAndGlyphs" stroke="#ff2020" stroke-width="0.09">4</text>
<text x="633.28" y="242.60" font-size="5.63" fill="#111" textLength="2.80" lengthAdjust="spacingAndGlyphs" stroke="#111" stroke-width="0.09">2</text>
<text x="633.28" y="247.50" font-size="5.63" fill="#ff2020" textLength="2.80" lengthAdjust="spacingAndGlyphs" stroke="#ff2020" stroke-width="0.09">2</text>
<text x="654.10" y="242.60" font-size="5.63" fill="#111" textLength="2.80" lengthAdjust="spacingAndGlyphs" stroke="#111" stroke-width="0.09">1</text>
<text x="654.10" y="247.50" font-size="5.63" fill="#ff2020" textLength="2.80" lengthAdjust="spacingAndGlyphs" stroke="#ff2020" stroke-width="0.09">1</text>
<text x="674.92" y="242.60" font-size="5.63" fill="#111" textLength="2.80" lengthAdjust="spacingAndGlyphs" stroke="#111" stroke-width="0.09">0</text>
<text x="674.92" y="247.50" font-size="5.63" fill="#ff2020" textLength="2.80" lengthAdjust="spacingAndGlyphs" stroke="#ff2020" stroke-width="0.09">0</text>
<circle cx="552.80" cy="209.30" r="0.35" fill="#bbb"/>
<polyline points="553.00,116.50 555.60,124.10 557.10,128.70 559.10,141.30 561.10,149.40 562.60,154.40 564.60,159.50 565.50,166.00 566.40,169.70 568.20,177.80 569.90,180.80 572.80,184.90 576.40,187.80 579.30,190.70 583.40,193.60 586.90,195.90 590.40,198.30 598.50,198.90 602.00,200.60 611.40,201.20 613.10,203.30 677.60,203.30" fill="none" stroke="#1a1a1a" stroke-width="0.95" stroke-linejoin="miter"/>
<path d="M551.70 118.10h3.60M553.50 116.30v3.60" stroke="#111" stroke-width="0.5" fill="none"/>
<path d="M552.20 123.60h3.60M554.00 121.80v3.60" stroke="#111" stroke-width="0.5" fill="none"/>
<path d="M554.80 130.20h3.60M556.60 128.40v3.60" stroke="#111" stroke-width="0.5" fill="none"/>
<path d="M556.30 130.40h3.60M558.10 128.60v3.60" stroke="#111" stroke-width="0.5" fill="none"/>
<path d="M559.30 149.40h3.60M561.10 147.60v3.60" stroke="#111" stroke-width="0.5" fill="none"/>
<path d="M561.30 164.50h3.60M563.10 162.70v3.60" stroke="#111" stroke-width="0.5" fill="none"/>
<path d="M563.40 166.50h3.60M565.20 164.70v3.60" stroke="#111" stroke-width="0.5" fill="none"/>
<path d="M563.50 166.40h3.60M565.30 164.60v3.60" stroke="#111" stroke-width="0.5" fill="none"/>
<path d="M596.70 198.90h3.60M598.50 197.10v3.60" stroke="#111" stroke-width="0.5" fill="none"/>
<path d="M602.60 200.60h3.60M604.40 198.80v3.60" stroke="#111" stroke-width="0.5" fill="none"/>
<path d="M607.80 201.20h3.60M609.60 199.40v3.60" stroke="#111" stroke-width="0.5" fill="none"/>
<path d="M621.80 203.30h3.60M623.60 201.50v3.60" stroke="#111" stroke-width="0.5" fill="none"/>
<path d="M628.90 203.30h3.60M630.70 201.50v3.60" stroke="#111" stroke-width="0.5" fill="none"/>
<path d="M675.80 203.30h3.60M677.60 201.50v3.60" stroke="#111" stroke-width="0.5" fill="none"/>
<polyline points="553.00,116.50 555.10,125.10 557.60,137.30 560.10,150.40 561.60,158.50 563.30,165.00 565.30,172.00 567.00,181.40 568.80,187.80 571.70,190.70 575.20,195.40 577.50,197.70 579.90,201.20 583.40,202.10 595.00,202.60 597.40,203.50 600.30,205.60 620.10,205.60 620.70,206.50 677.60,206.50" fill="none" stroke="#f52020" stroke-width="1.0" stroke-linejoin="miter"/>
<path d="M556.80 145.30h3.60M558.60 143.50v3.60" stroke="#333" stroke-width="0.5" fill="none"/>
<path d="M558.30 155.90h3.60M560.10 154.10v3.60" stroke="#333" stroke-width="0.5" fill="none"/>
<path d="M565.20 183.10h3.60M567.00 181.30v3.60" stroke="#333" stroke-width="0.5" fill="none"/>
<path d="M568.70 190.10h3.60M570.50 188.30v3.60" stroke="#333" stroke-width="0.5" fill="none"/>
<path d="M583.30 202.40h3.60M585.10 200.60v3.60" stroke="#333" stroke-width="0.5" fill="none"/>
<path d="M593.80 203.00h3.60M595.60 201.20v3.60" stroke="#333" stroke-width="0.5" fill="none"/>
<path d="M602.60 205.60h3.60M604.40 203.80v3.60" stroke="#333" stroke-width="0.5" fill="none"/>
<path d="M621.80 206.50h3.60M623.60 204.70v3.60" stroke="#333" stroke-width="0.5" fill="none"/>
<path d="M634.70 206.50h3.60M636.50 204.70v3.60" stroke="#333" stroke-width="0.5" fill="none"/>
<path d="M675.80 206.50h3.60M677.60 204.70v3.60" stroke="#333" stroke-width="0.5" fill="none"/>
<rect x="24.00" y="269.40" width="136.90" height="101.70" fill="none" stroke="#b4b4b4" stroke-width="0.9"/>
<line x1="21.80" y1="366.80" x2="24.00" y2="366.80" stroke="#555" stroke-width="0.5"/>
<text x="12.51" y="368.80" font-size="6.05" fill="#222" textLength="8.59" lengthAdjust="spacingAndGlyphs" stroke="#222" stroke-width="0.09">0.0</text>
<line x1="21.80" y1="348.30" x2="24.00" y2="348.30" stroke="#555" stroke-width="0.5"/>
<text x="12.51" y="350.30" font-size="6.05" fill="#222" textLength="8.59" lengthAdjust="spacingAndGlyphs" stroke="#222" stroke-width="0.09">0.2</text>
<line x1="21.80" y1="329.80" x2="24.00" y2="329.80" stroke="#555" stroke-width="0.5"/>
<text x="12.51" y="331.80" font-size="6.05" fill="#222" textLength="8.59" lengthAdjust="spacingAndGlyphs" stroke="#222" stroke-width="0.09">0.4</text>
<line x1="21.80" y1="311.30" x2="24.00" y2="311.30" stroke="#555" stroke-width="0.5"/>
<text x="12.51" y="313.30" font-size="6.05" fill="#222" textLength="8.59" lengthAdjust="spacingAndGlyphs" stroke="#222" stroke-width="0.09">0.6</text>
<line x1="21.80" y1="292.80" x2="24.00" y2="292.80" stroke="#555" stroke-width="0.5"/>
<text x="12.51" y="294.80" font-size="6.05" fill="#222" textLength="8.59" lengthAdjust="spacingAndGlyphs" stroke="#222" stroke-width="0.09">0.8</text>
<line x1="21.80" y1="274.30" x2="24.00" y2="274.30" stroke="#555" stroke-width="0.5"/>
<text x="12.51" y="276.30" font-size="6.05" fill="#222" textLength="8.59" lengthAdjust="spacingAndGlyphs" stroke="#222" stroke-width="0.09">1.0</text>
<line x1="30.30" y1="371.10" x2="30.30" y2="373.30" stroke="#555" stroke-width="0.5"/>
<text x="28.61" y="377.50" font-size="5.94" fill="#222" textLength="3.37" lengthAdjust="spacingAndGlyphs" stroke="#222" stroke-width="0.09">0</text>
<line x1="53.86" y1="371.10" x2="53.86" y2="373.30" stroke="#555" stroke-width="0.5"/>
<text x="50.49" y="377.50" font-size="5.94" fill="#222" textLength="6.74" lengthAdjust="spacingAndGlyphs" stroke="#222" stroke-width="0.09">20</text>
<line x1="77.42" y1="371.10" x2="77.42" y2="373.30" stroke="#555" stroke-width="0.5"/>
<text x="74.05" y="377.50" font-size="5.94" fill="#222" textLength="6.74" lengthAdjust="spacingAndGlyphs" stroke="#222" stroke-width="0.09">40</text>
<line x1="100.98" y1="371.10" x2="100.98" y2="373.30" stroke="#555" stroke-width="0.5"/>
<text x="97.61" y="377.50" font-size="5.94" fill="#222" textLength="6.74" lengthAdjust="spacingAndGlyphs" stroke="#222" stroke-width="0.09">60</text>
<line x1="124.54" y1="371.10" x2="124.54" y2="373.30" stroke="#555" stroke-width="0.5"/>
<text x="121.17" y="377.50" font-size="5.94" fill="#222" textLength="6.74" lengthAdjust="spacingAndGlyphs" stroke="#222" stroke-width="0.09">80</text>
<line x1="148.10" y1="371.10" x2="148.10" y2="373.30" stroke="#555" stroke-width="0.5"/>
<text x="143.04" y="377.50" font-size="5.94" fill="#222" textLength="10.12" lengthAdjust="spacingAndGlyphs" stroke="#222" stroke-width="0.09">100</text>
<text x="82.63" y="267.60" font-size="7.62" fill="#111" textLength="19.64" lengthAdjust="spacingAndGlyphs" stroke="#111" stroke-width="0.09">RRM1</text>
<text x="97.18" y="276.90" font-size="6.05" fill="#111" textLength="59.72" lengthAdjust="spacingAndGlyphs" stroke="#111" stroke-width="0.09">HR = 1.25 (0.97 - 1.6)</text>
<text x="103.35" y="283.00" font-size="6.05" fill="#111" textLength="53.55" lengthAdjust="spacingAndGlyphs" stroke="#111" stroke-width="0.09">Logrank P = 0.0871</text>
<text x="94.13" y="294.90" font-size="5.94" fill="#111" textLength="28.77" lengthAdjust="spacingAndGlyphs" stroke="#111" stroke-width="0.09">Expression</text>
<line x1="127.30" y1="289.30" x2="138.50" y2="289.30" stroke="#6a6a6a" stroke-width="0.75"/>
<line x1="127.30" y1="297.20" x2="138.50" y2="297.20" stroke="#ff5a5a" stroke-width="0.75"/>
<text x="142.90" y="291.60" font-size="6.05" fill="#111" textLength="10.63" lengthAdjust="spacingAndGlyphs" stroke="#111" stroke-width="0.09">Low</text>
<text x="142.90" y="298.90" font-size="6.05" fill="#111" textLength="12.41" lengthAdjust="spacingAndGlyphs" stroke="#111" stroke-width="0.09">High</text>
<text x="53.79" y="384.70" font-size="6.83" fill="#111" textLength="77.31" lengthAdjust="spacingAndGlyphs" stroke="#111" stroke-width="0.09">Overall survival (months)</text>
<text x="10.00" y="336.37" font-size="6.83" fill="#111" textLength="32.25" lengthAdjust="spacingAndGlyphs" transform="rotate(-90 10.00 336.37)">Probability</text>
<text x="16.04" y="394.70" font-size="5.75" fill="#111" textLength="14.56" lengthAdjust="spacingAndGlyphs" stroke="#111" stroke-width="0.09">At risk</text>
<text x="7.74" y="399.90" font-size="5.75" fill="#111" textLength="9.06" lengthAdjust="spacingAndGlyphs" stroke="#111" stroke-width="0.09">Low</text>
<text x="6.23" y="404.80" font-size="5.75" fill="#ff2020" textLength="10.57" lengthAdjust="spacingAndGlyphs" stroke="#ff2020" stroke-width="0.09">High</text>
<text x="21.90" y="399.90" font-size="5.63" fill="#111" textLength="8.40" lengthAdjust="spacingAndGlyphs" stroke="#111" stroke-width="0.09">226</text>
<text x="21.90" y="404.80" font-size="5.63" fill="#ff2020" textLength="8.40" lengthAdjust="spacingAndGlyphs" stroke="#ff2020" stroke-width="0.09">138</text>
<text x="48.26" y="399.90" font-size="5.63" fill="#111" textLength="5.60" lengthAdjust="spacingAndGlyphs" stroke="#111" stroke-width="0.09">85</text>
<text x="48.26" y="404.80" font-size="5.63" fill="#ff2020" textLength="5.60" lengthAdjust="spacingAndGlyphs" stroke="#ff2020" stroke-width="0.09">40</text>
<text x="71.82" y="399.90" font-size="5.63" fill="#111" textLength="5.60" lengthAdjust="spacingAndGlyphs" stroke="#111" stroke-width="0.09">24</text>
<text x="74.62" y="404.80" font-size="5.63" fill="#ff2020" textLength="2.80" lengthAdjust="spacingAndGlyphs" stroke="#ff2020" stroke-width="0.09">8</text>
<text x="98.18" y="399.90" font-size="5.63" fill="#111" textLength="2.80" lengthAdjust="spacingAndGlyphs" stroke="#111" stroke-width="0.09">8</text>
<text x="98.18" y="404.80" font-size="5.63" fill="#ff2020" textLength="2.80" lengthAdjust="spacingAndGlyphs" stroke="#ff2020" stroke-width="0.09">1</text>
<text x="121.74" y="399.90" font-size="5.63" fill="#111" textLength="2.80" lengthAdjust="spacingAndGlyphs" stroke="#111" stroke-width="0.09">3</text>
<text x="121.74" y="404.80" font-size="5.63" fill="#ff2020" textLength="2.80" lengthAdjust="spacingAndGlyphs" stroke="#ff2020" stroke-width="0.09">1</text>
<text x="145.30" y="399.90" font-size="5.63" fill="#111" textLength="2.80" lengthAdjust="spacingAndGlyphs" stroke="#111" stroke-width="0.09">2</text>
<text x="145.30" y="404.80" font-size="5.63" fill="#ff2020" textLength="2.80" lengthAdjust="spacingAndGlyphs" stroke="#ff2020" stroke-width="0.09">0</text>
<circle cx="30.30" cy="366.80" r="0.35" fill="#bbb"/>
<polyline points="30.00,274.00 32.10,277.10 34.60,279.10 37.10,284.10 39.60,288.70 42.20,294.20 44.70,299.80 47.20,305.40 49.70,309.40 51.80,314.40 53.30,320.50 55.30,326.00 56.50,330.50 58.80,332.80 62.40,335.80 65.90,338.70 69.40,340.40 74.00,342.80 77.50,345.10 81.00,347.40 85.70,348.60 89.80,349.80 91.50,353.30 136.00,353.30 136.00,358.70 155.80,358.70" fill="none" stroke="#1a1a1a" stroke-width="0.95" stroke-linejoin="miter"/>
<path d="M84.50 353.60h3.60M86.30 351.80v3.60" stroke="#111" stroke-width="0.5" fill="none"/>
<path d="M87.40 353.60h3.60M89.20 351.80v3.60" stroke="#111" stroke-width="0.5" fill="none"/>
<path d="M92.70 353.40h3.60M94.50 351.60v3.60" stroke="#111" stroke-width="0.5" fill="none"/>
<path d="M98.50 353.40h3.60M100.30 351.60v3.60" stroke="#111" stroke-width="0.5" fill="none"/>
<path d="M108.40 354.00h3.60M110.20 352.20v3.60" stroke="#111" stroke-width="0.5" fill="none"/>
<path d="M110.80 354.00h3.60M112.60 352.20v3.60" stroke="#111" stroke-width="0.5" fill="none"/>
<path d="M152.90 358.70h3.60M154.70 356.90v3.60" stroke="#111" stroke-width="0.5" fill="none"/>
<path d="M31.49 278.18h3.60M33.29 276.38v3.60" stroke="#111" stroke-width="0.5" fill="none"/>
<path d="M51.67 318.79h3.60M53.47 316.99v3.60" stroke="#111" stroke-width="0.5" fill="none"/>
<path d="M87.23 349.78h3.60M89.03 347.98v3.60" stroke="#111" stroke-width="0.5" fill="none"/>
<path d="M48.93 312.14h3.60M50.73 310.34v3.60" stroke="#111" stroke-width="0.5" fill="none"/>
<path d="M33.07 279.60h3.60M34.87 277.80v3.60" stroke="#111" stroke-width="0.5" fill="none"/>
<path d="M69.62 340.60h3.60M71.42 338.80v3.60" stroke="#111" stroke-width="0.5" fill="none"/>
<path d="M36.40 286.96h3.60M38.20 285.16v3.60" stroke="#111" stroke-width="0.5" fill="none"/>
<path d="M40.37 294.60h3.60M42.17 292.80v3.60" stroke="#111" stroke-width="0.5" fill="none"/>
<path d="M53.99 326.38h3.60M55.79 324.58v3.60" stroke="#111" stroke-width="0.5" fill="none"/>
<path d="M40.73 294.59h3.60M42.53 292.79v3.60" stroke="#111" stroke-width="0.5" fill="none"/>
<path d="M52.05 320.53h3.60M53.85 318.73v3.60" stroke="#111" stroke-width="0.5" fill="none"/>
<path d="M47.51 309.30h3.60M49.31 307.50v3.60" stroke="#111" stroke-width="0.5" fill="none"/>
<path d="M48.18 310.57h3.60M49.98 308.77v3.60" stroke="#111" stroke-width="0.5" fill="none"/>
<path d="M36.80 286.94h3.60M38.60 285.14v3.60" stroke="#111" stroke-width="0.5" fill="none"/>
<path d="M53.94 327.63h3.60M55.74 325.83v3.60" stroke="#111" stroke-width="0.5" fill="none"/>
<path d="M29.34 276.75h3.60M31.14 274.95v3.60" stroke="#111" stroke-width="0.5" fill="none"/>
<path d="M62.70 337.39h3.60M64.50 335.59v3.60" stroke="#111" stroke-width="0.5" fill="none"/>
<path d="M53.30 326.35h3.60M55.10 324.55v3.60" stroke="#111" stroke-width="0.5" fill="none"/>
<path d="M36.42 286.91h3.60M38.22 285.11v3.60" stroke="#111" stroke-width="0.5" fill="none"/>
<path d="M66.21 340.00h3.60M68.01 338.20v3.60" stroke="#111" stroke-width="0.5" fill="none"/>
<path d="M39.49 291.26h3.60M41.29 289.46v3.60" stroke="#111" stroke-width="0.5" fill="none"/>
<path d="M59.29 335.26h3.60M61.09 333.46v3.60" stroke="#111" stroke-width="0.5" fill="none"/>
<path d="M76.48 344.86h3.60M78.28 343.06v3.60" stroke="#111" stroke-width="0.5" fill="none"/>
<path d="M68.36 340.31h3.60M70.16 338.51v3.60" stroke="#111" stroke-width="0.5" fill="none"/>
<path d="M53.92 329.45h3.60M55.72 327.65v3.60" stroke="#111" stroke-width="0.5" fill="none"/>
<path d="M35.83 284.74h3.60M37.63 282.94v3.60" stroke="#111" stroke-width="0.5" fill="none"/>
<path d="M55.88 330.57h3.60M57.68 328.77v3.60" stroke="#111" stroke-width="0.5" fill="none"/>
<path d="M67.22 340.54h3.60M69.02 338.74v3.60" stroke="#111" stroke-width="0.5" fill="none"/>
<path d="M52.64 325.36h3.60M54.44 323.56v3.60" stroke="#111" stroke-width="0.5" fill="none"/>
<path d="M86.71 349.45h3.60M88.51 347.65v3.60" stroke="#111" stroke-width="0.5" fill="none"/>
<path d="M63.43 337.85h3.60M65.23 336.05v3.60" stroke="#111" stroke-width="0.5" fill="none"/>
<path d="M50.19 316.91h3.60M51.99 315.11v3.60" stroke="#111" stroke-width="0.5" fill="none"/>
<path d="M40.71 295.31h3.60M42.51 293.51v3.60" stroke="#111" stroke-width="0.5" fill="none"/>
<path d="M42.58 298.04h3.60M44.38 296.24v3.60" stroke="#111" stroke-width="0.5" fill="none"/>
<path d="M51.74 322.39h3.60M53.54 320.59v3.60" stroke="#111" stroke-width="0.5" fill="none"/>
<path d="M58.32 333.99h3.60M60.12 332.19v3.60" stroke="#111" stroke-width="0.5" fill="none"/>
<path d="M43.85 302.98h3.60M45.65 301.18v3.60" stroke="#111" stroke-width="0.5" fill="none"/>
<path d="M44.60 304.01h3.60M46.40 302.21v3.60" stroke="#111" stroke-width="0.5" fill="none"/>
<path d="M38.06 289.73h3.60M39.86 287.93v3.60" stroke="#111" stroke-width="0.5" fill="none"/>
<path d="M58.66 333.44h3.60M60.46 331.64v3.60" stroke="#111" stroke-width="0.5" fill="none"/>
<path d="M45.78 305.08h3.60M47.58 303.28v3.60" stroke="#111" stroke-width="0.5" fill="none"/>
<path d="M52.03 323.40h3.60M53.83 321.60v3.60" stroke="#111" stroke-width="0.5" fill="none"/>
<path d="M70.50 342.08h3.60M72.30 340.28v3.60" stroke="#111" stroke-width="0.5" fill="none"/>
<path d="M33.33 279.46h3.60M35.13 277.66v3.60" stroke="#111" stroke-width="0.5" fill="none"/>
<path d="M54.99 329.34h3.60M56.79 327.54v3.60" stroke="#111" stroke-width="0.5" fill="none"/>
<path d="M48.13 311.23h3.60M49.93 309.43v3.60" stroke="#111" stroke-width="0.5" fill="none"/>
<path d="M59.42 334.33h3.60M61.22 332.53v3.60" stroke="#111" stroke-width="0.5" fill="none"/>
<path d="M44.42 302.26h3.60M46.22 300.46v3.60" stroke="#111" stroke-width="0.5" fill="none"/>
<path d="M78.22 347.10h3.60M80.02 345.30v3.60" stroke="#111" stroke-width="0.5" fill="none"/>
<path d="M40.04 293.33h3.60M41.84 291.53v3.60" stroke="#111" stroke-width="0.5" fill="none"/>
<path d="M61.84 337.25h3.60M63.64 335.45v3.60" stroke="#111" stroke-width="0.5" fill="none"/>
<path d="M86.47 349.85h3.60M88.27 348.05v3.60" stroke="#111" stroke-width="0.5" fill="none"/>
<path d="M40.31 293.73h3.60M42.11 291.93v3.60" stroke="#111" stroke-width="0.5" fill="none"/>
<path d="M45.77 306.03h3.60M47.57 304.23v3.60" stroke="#111" stroke-width="0.5" fill="none"/>
<path d="M55.05 330.09h3.60M56.85 328.29v3.60" stroke="#111" stroke-width="0.5" fill="none"/>
<path d="M34.27 282.24h3.60M36.07 280.44v3.60" stroke="#111" stroke-width="0.5" fill="none"/>
<path d="M38.18 290.35h3.60M39.98 288.55v3.60" stroke="#111" stroke-width="0.5" fill="none"/>
<path d="M53.65 327.40h3.60M55.45 325.60v3.60" stroke="#111" stroke-width="0.5" fill="none"/>
<path d="M46.90 306.88h3.60M48.70 305.08v3.60" stroke="#111" stroke-width="0.5" fill="none"/>
<path d="M31.89 277.54h3.60M33.69 275.74v3.60" stroke="#111" stroke-width="0.5" fill="none"/>
<polyline points="30.00,274.00 32.10,277.10 34.60,278.60 36.10,282.10 38.10,288.20 40.10,295.30 42.20,304.30 44.20,306.40 46.20,308.90 47.70,313.40 49.70,320.50 50.70,325.80 52.40,329.90 55.30,333.40 57.70,336.90 61.20,341.00 64.70,342.80 67.00,343.40 68.80,348.00 72.90,350.90 76.40,351.50 77.50,354.50 141.70,354.50 141.70,366.80" fill="none" stroke="#f52020" stroke-width="1.0" stroke-linejoin="miter"/>
<path d="M77.50 354.50h3.60M79.30 352.70v3.60" stroke="#333" stroke-width="0.5" fill="none"/>
<path d="M43.57 307.87h3.60M45.37 306.07v3.60" stroke="#333" stroke-width="0.5" fill="none"/>
<path d="M33.77 280.83h3.60M35.57 279.03v3.60" stroke="#333" stroke-width="0.5" fill="none"/>
<path d="M44.61 310.33h3.60M46.41 308.53v3.60" stroke="#333" stroke-width="0.5" fill="none"/>
<path d="M37.20 291.61h3.60M39.00 289.81v3.60" stroke="#333" stroke-width="0.5" fill="none"/>
<path d="M35.93 287.75h3.60M37.73 285.95v3.60" stroke="#333" stroke-width="0.5" fill="none"/>
<path d="M39.55 301.30h3.60M41.35 299.50v3.60" stroke="#333" stroke-width="0.5" fill="none"/>
<path d="M37.08 291.82h3.60M38.88 290.02v3.60" stroke="#333" stroke-width="0.5" fill="none"/>
<path d="M65.53 343.60h3.60M67.33 341.80v3.60" stroke="#333" stroke-width="0.5" fill="none"/>
<path d="M34.78 284.21h3.60M36.58 282.41v3.60" stroke="#333" stroke-width="0.5" fill="none"/>
<path d="M70.92 350.69h3.60M72.72 348.89v3.60" stroke="#333" stroke-width="0.5" fill="none"/>
<path d="M46.74 315.44h3.60M48.54 313.64v3.60" stroke="#333" stroke-width="0.5" fill="none"/>
<path d="M48.46 324.50h3.60M50.26 322.70v3.60" stroke="#333" stroke-width="0.5" fill="none"/>
<path d="M51.49 331.54h3.60M53.29 329.74v3.60" stroke="#333" stroke-width="0.5" fill="none"/>
<path d="M65.86 345.30h3.60M67.66 343.50v3.60" stroke="#333" stroke-width="0.5" fill="none"/>
<path d="M65.48 343.77h3.60M67.28 341.97v3.60" stroke="#333" stroke-width="0.5" fill="none"/>
<path d="M44.85 310.31h3.60M46.65 308.51v3.60" stroke="#333" stroke-width="0.5" fill="none"/>
<rect x="194.90" y="268.60" width="136.50" height="102.00" fill="none" stroke="#b4b4b4" stroke-width="0.9"/>
<line x1="192.70" y1="366.20" x2="194.90" y2="366.20" stroke="#555" stroke-width="0.5"/>
<text x="183.41" y="368.20" font-size="6.05" fill="#222" textLength="8.59" lengthAdjust="spacingAndGlyphs" stroke="#222" stroke-width="0.09">0.0</text>
<line x1="192.70" y1="347.74" x2="194.90" y2="347.74" stroke="#555" stroke-width="0.5"/>
<text x="183.41" y="349.74" font-size="6.05" fill="#222" textLength="8.59" lengthAdjust="spacingAndGlyphs" stroke="#222" stroke-width="0.09">0.2</text>
<line x1="192.70" y1="329.28" x2="194.90" y2="329.28" stroke="#555" stroke-width="0.5"/>
<text x="183.41" y="331.28" font-size="6.05" fill="#222" textLength="8.59" lengthAdjust="spacingAndGlyphs" stroke="#222" stroke-width="0.09">0.4</text>
<line x1="192.70" y1="310.82" x2="194.90" y2="310.82" stroke="#555" stroke-width="0.5"/>
<text x="183.41" y="312.82" font-size="6.05" fill="#222" textLength="8.59" lengthAdjust="spacingAndGlyphs" stroke="#222" stroke-width="0.09">0.6</text>
<line x1="192.70" y1="292.36" x2="194.90" y2="292.36" stroke="#555" stroke-width="0.5"/>
<text x="183.41" y="294.36" font-size="6.05" fill="#222" textLength="8.59" lengthAdjust="spacingAndGlyphs" stroke="#222" stroke-width="0.09">0.8</text>
<line x1="192.70" y1="273.90" x2="194.90" y2="273.90" stroke="#555" stroke-width="0.5"/>
<text x="183.41" y="275.90" font-size="6.05" fill="#222" textLength="8.59" lengthAdjust="spacingAndGlyphs" stroke="#222" stroke-width="0.09">1.0</text>
<line x1="201.00" y1="370.60" x2="201.00" y2="372.80" stroke="#555" stroke-width="0.5"/>
<text x="199.31" y="377.00" font-size="5.94" fill="#222" textLength="3.37" lengthAdjust="spacingAndGlyphs" stroke="#222" stroke-width="0.09">0</text>
<line x1="220.10" y1="370.60" x2="220.10" y2="372.80" stroke="#555" stroke-width="0.5"/>
<text x="216.73" y="377.00" font-size="5.94" fill="#222" textLength="6.74" lengthAdjust="spacingAndGlyphs" stroke="#222" stroke-width="0.09">10</text>
<line x1="239.20" y1="370.60" x2="239.20" y2="372.80" stroke="#555" stroke-width="0.5"/>
<text x="235.83" y="377.00" font-size="5.94" fill="#222" textLength="6.74" lengthAdjust="spacingAndGlyphs" stroke="#222" stroke-width="0.09">20</text>
<line x1="258.30" y1="370.60" x2="258.30" y2="372.80" stroke="#555" stroke-width="0.5"/>
<text x="254.93" y="377.00" font-size="5.94" fill="#222" textLength="6.74" lengthAdjust="spacingAndGlyphs" stroke="#222" stroke-width="0.09">30</text>
<line x1="277.40" y1="370.60" x2="277.40" y2="372.80" stroke="#555" stroke-width="0.5"/>
<text x="274.03" y="377.00" font-size="5.94" fill="#222" textLength="6.74" lengthAdjust="spacingAndGlyphs" stroke="#222" stroke-width="0.09">40</text>
<line x1="296.50" y1="370.60" x2="296.50" y2="372.80" stroke="#555" stroke-width="0.5"/>
<text x="293.13" y="377.00" font-size="5.94" fill="#222" textLength="6.74" lengthAdjust="spacingAndGlyphs" stroke="#222" stroke-width="0.09">50</text>
<line x1="315.60" y1="370.60" x2="315.60" y2="372.80" stroke="#555" stroke-width="0.5"/>
<text x="312.23" y="377.00" font-size="5.94" fill="#222" textLength="6.74" lengthAdjust="spacingAndGlyphs" stroke="#222" stroke-width="0.09">60</text>
<text x="253.33" y="267.40" font-size="7.62" fill="#111" textLength="19.64" lengthAdjust="spacingAndGlyphs" stroke="#111" stroke-width="0.09">RRM1</text>
<text x="264.25" y="276.70" font-size="6.05" fill="#111" textLength="63.15" lengthAdjust="spacingAndGlyphs" stroke="#111" stroke-width="0.09">HR = 1.37 (0.89 - 2.12)</text>
<text x="277.29" y="282.80" font-size="6.05" fill="#111" textLength="50.11" lengthAdjust="spacingAndGlyphs" stroke="#111" stroke-width="0.09">Logrank P = 0.154</text>
<text x="264.63" y="294.70" font-size="5.94" fill="#111" textLength="28.77" lengthAdjust="spacingAndGlyphs" stroke="#111" stroke-width="0.09">Expression</text>
<line x1="297.80" y1="289.10" x2="309.00" y2="289.10" stroke="#6a6a6a" stroke-width="0.75"/>
<line x1="297.80" y1="297.00" x2="309.00" y2="297.00" stroke="#ff5a5a" stroke-width="0.75"/>
<text x="313.40" y="291.40" font-size="6.05" fill="#111" textLength="10.63" lengthAdjust="spacingAndGlyphs" stroke="#111" stroke-width="0.09">Low</text>
<text x="313.40" y="298.70" font-size="6.05" fill="#111" textLength="12.41" lengthAdjust="spacingAndGlyphs" stroke="#111" stroke-width="0.09">High</text>
<text x="216.41" y="384.20" font-size="6.83" fill="#111" textLength="93.47" lengthAdjust="spacingAndGlyphs" stroke="#111" stroke-width="0.09">Disease free survival (months)</text>
<text x="180.90" y="336.02" font-size="6.83" fill="#111" textLength="32.25" lengthAdjust="spacingAndGlyphs" transform="rotate(-90 180.90 336.02)">Probability</text>
<text x="186.74" y="394.20" font-size="5.75" fill="#111" textLength="14.56" lengthAdjust="spacingAndGlyphs" stroke="#111" stroke-width="0.09">At risk</text>
<text x="178.44" y="399.40" font-size="5.75" fill="#111" textLength="9.06" lengthAdjust="spacingAndGlyphs" stroke="#111" stroke-width="0.09">Low</text>
<text x="176.93" y="404.30" font-size="5.75" fill="#ff2020" textLength="10.57" lengthAdjust="spacingAndGlyphs" stroke="#ff2020" stroke-width="0.09">High</text>
<text x="195.40" y="399.40" font-size="5.63" fill="#111" textLength="5.60" lengthAdjust="spacingAndGlyphs" stroke="#111" stroke-width="0.09">32</text>
<text x="195.40" y="404.30" font-size="5.63" fill="#ff2020" textLength="5.60" lengthAdjust="spacingAndGlyphs" stroke="#ff2020" stroke-width="0.09">95</text>
<text x="214.50" y="399.40" font-size="5.63" fill="#111" textLength="5.60" lengthAdjust="spacingAndGlyphs" stroke="#111" stroke-width="0.09">17</text>
<text x="214.50" y="404.30" font-size="5.63" fill="#ff2020" textLength="5.60" lengthAdjust="spacingAndGlyphs" stroke="#ff2020" stroke-width="0.09">50</text>
<text x="236.40" y="399.40" font-size="5.63" fill="#111" textLength="2.80" lengthAdjust="spacingAndGlyphs" stroke="#111" stroke-width="0.09">8</text>
<text x="233.60" y="404.30" font-size="5.63" fill="#ff2020" textLength="5.60" lengthAdjust="spacingAndGlyphs" stroke="#ff2020" stroke-width="0.09">13</text>
<text x="255.50" y="399.40" font-size="5.63" fill="#111" textLength="2.80" lengthAdjust="spacingAndGlyphs" stroke="#111" stroke-width="0.09">6</text>
<text x="255.50" y="404.30" font-size="5.63" fill="#ff2020" textLength="2.80" lengthAdjust="spacingAndGlyphs" stroke="#ff2020" stroke-width="0.09">7</text>
<text x="274.60" y="399.40" font-size="5.63" fill="#111" textLength="2.80" lengthAdjust="spacingAndGlyphs" stroke="#111" stroke-width="0.09">4</text>
<text x="274.60" y="404.30" font-size="5.63" fill="#ff2020" textLength="2.80" lengthAdjust="spacingAndGlyphs" stroke="#ff2020" stroke-width="0.09">5</text>
<text x="293.70" y="399.40" font-size="5.63" fill="#111" textLength="2.80" lengthAdjust="spacingAndGlyphs" stroke="#111" stroke-width="0.09">2</text>
<text x="293.70" y="404.30" font-size="5.63" fill="#ff2020" textLength="2.80" lengthAdjust="spacingAndGlyphs" stroke="#ff2020" stroke-width="0.09">1</text>
<text x="312.80" y="399.40" font-size="5.63" fill="#111" textLength="2.80" lengthAdjust="spacingAndGlyphs" stroke="#111" stroke-width="0.09">0</text>
<text x="312.80" y="404.30" font-size="5.63" fill="#ff2020" textLength="2.80" lengthAdjust="spacingAndGlyphs" stroke="#ff2020" stroke-width="0.09">1</text>
<circle cx="201.00" cy="366.20" r="0.35" fill="#bbb"/>
<polyline points="202.10,273.00 203.60,276.10 204.60,279.30 209.60,279.30 209.60,285.20 211.20,286.20 212.20,290.20 213.70,291.70 214.20,294.70 215.70,296.80 216.20,300.30 216.70,304.80 217.70,309.40 219.20,312.40 220.70,315.50 221.80,317.50 222.80,320.50 223.90,323.50 227.40,323.50 229.10,327.90 229.10,335.80 232.60,336.10 234.40,339.30 235.30,341.90 244.90,341.90 246.10,347.70 260.70,347.70 262.40,351.50 263.30,353.80 307.10,353.80" fill="none" stroke="#1a1a1a" stroke-width="0.95" stroke-linejoin="miter"/>
<path d="M200.30 273.20h3.60M202.10 271.40v3.60" stroke="#111" stroke-width="0.5" fill="none"/>
<path d="M202.20 279.30h3.60M204.00 277.50v3.60" stroke="#111" stroke-width="0.5" fill="none"/>
<path d="M207.80 285.20h3.60M209.60 283.40v3.60" stroke="#111" stroke-width="0.5" fill="none"/>
<path d="M209.90 286.40h3.60M211.70 284.60v3.60" stroke="#111" stroke-width="0.5" fill="none"/>
<path d="M217.70 312.60h3.60M219.50 310.80v3.60" stroke="#111" stroke-width="0.5" fill="none"/>
<path d="M219.50 316.50h3.60M221.30 314.70v3.60" stroke="#111" stroke-width="0.5" fill="none"/>
<path d="M227.30 336.40h3.60M229.10 334.60v3.60" stroke="#111" stroke-width="0.5" fill="none"/>
<path d="M283.40 353.80h3.60M285.20 352.00v3.60" stroke="#111" stroke-width="0.5" fill="none"/>
<path d="M293.00 353.80h3.60M294.80 352.00v3.60" stroke="#111" stroke-width="0.5" fill="none"/>
<path d="M296.50 353.80h3.60M298.30 352.00v3.60" stroke="#111" stroke-width="0.5" fill="none"/>
<path d="M303.90 353.80h3.60M305.70 352.00v3.60" stroke="#111" stroke-width="0.5" fill="none"/>
<polyline points="201.60,273.50 203.60,278.10 205.60,283.10 207.10,286.70 208.60,292.20 210.60,295.80 212.20,299.30 214.20,303.30 216.20,307.40 218.20,311.40 220.70,315.50 222.30,318.50 223.30,322.50 223.90,330.50 226.50,334.00 228.30,337.50 230.00,345.40 233.50,346.30 237.00,349.80 242.30,353.30 247.50,355.90 252.80,357.70 259.80,359.40 279.10,359.40 280.80,361.20 286.10,361.20 287.00,362.40 325.50,362.40 325.50,365.90" fill="none" stroke="#f52020" stroke-width="1.0" stroke-linejoin="miter"/>
<path d="M200.20 274.00h3.60M202.00 272.20v3.60" stroke="#333" stroke-width="0.5" fill="none"/>
<path d="M203.80 283.10h3.60M205.60 281.30v3.60" stroke="#333" stroke-width="0.5" fill="none"/>
<path d="M212.40 303.30h3.60M214.20 301.50v3.60" stroke="#333" stroke-width="0.5" fill="none"/>
<path d="M215.70 307.60h3.60M217.50 305.80v3.60" stroke="#333" stroke-width="0.5" fill="none"/>
<path d="M225.70 335.00h3.60M227.50 333.20v3.60" stroke="#333" stroke-width="0.5" fill="none"/>
<path d="M258.90 359.40h3.60M260.70 357.60v3.60" stroke="#333" stroke-width="0.5" fill="none"/>
<path d="M277.60 359.40h3.60M279.40 357.60v3.60" stroke="#333" stroke-width="0.5" fill="none"/>
<path d="M293.90 362.40h3.60M295.70 360.60v3.60" stroke="#333" stroke-width="0.5" fill="none"/>
<rect x="372.30" y="269.40" width="137.10" height="101.70" fill="none" stroke="#b4b4b4" stroke-width="0.9"/>
<line x1="370.10" y1="366.80" x2="372.30" y2="366.80" stroke="#555" stroke-width="0.5"/>
<text x="360.81" y="368.80" font-size="6.05" fill="#222" textLength="8.59" lengthAdjust="spacingAndGlyphs" stroke="#222" stroke-width="0.09">0.0</text>
<line x1="370.10" y1="348.30" x2="372.30" y2="348.30" stroke="#555" stroke-width="0.5"/>
<text x="360.81" y="350.30" font-size="6.05" fill="#222" textLength="8.59" lengthAdjust="spacingAndGlyphs" stroke="#222" stroke-width="0.09">0.2</text>
<line x1="370.10" y1="329.80" x2="372.30" y2="329.80" stroke="#555" stroke-width="0.5"/>
<text x="360.81" y="331.80" font-size="6.05" fill="#222" textLength="8.59" lengthAdjust="spacingAndGlyphs" stroke="#222" stroke-width="0.09">0.4</text>
<line x1="370.10" y1="311.30" x2="372.30" y2="311.30" stroke="#555" stroke-width="0.5"/>
<text x="360.81" y="313.30" font-size="6.05" fill="#222" textLength="8.59" lengthAdjust="spacingAndGlyphs" stroke="#222" stroke-width="0.09">0.6</text>
<line x1="370.10" y1="292.80" x2="372.30" y2="292.80" stroke="#555" stroke-width="0.5"/>
<text x="360.81" y="294.80" font-size="6.05" fill="#222" textLength="8.59" lengthAdjust="spacingAndGlyphs" stroke="#222" stroke-width="0.09">0.8</text>
<line x1="370.10" y1="274.30" x2="372.30" y2="274.30" stroke="#555" stroke-width="0.5"/>
<text x="360.81" y="276.30" font-size="6.05" fill="#222" textLength="8.59" lengthAdjust="spacingAndGlyphs" stroke="#222" stroke-width="0.09">1.0</text>
<line x1="378.50" y1="371.10" x2="378.50" y2="373.30" stroke="#555" stroke-width="0.5"/>
<text x="376.81" y="377.50" font-size="5.94" fill="#222" textLength="3.37" lengthAdjust="spacingAndGlyphs" stroke="#222" stroke-width="0.09">0</text>
<line x1="399.17" y1="371.10" x2="399.17" y2="373.30" stroke="#555" stroke-width="0.5"/>
<text x="395.80" y="377.50" font-size="5.94" fill="#222" textLength="6.74" lengthAdjust="spacingAndGlyphs" stroke="#222" stroke-width="0.09">20</text>
<line x1="419.84" y1="371.10" x2="419.84" y2="373.30" stroke="#555" stroke-width="0.5"/>
<text x="416.47" y="377.50" font-size="5.94" fill="#222" textLength="6.74" lengthAdjust="spacingAndGlyphs" stroke="#222" stroke-width="0.09">40</text>
<line x1="440.51" y1="371.10" x2="440.51" y2="373.30" stroke="#555" stroke-width="0.5"/>
<text x="437.14" y="377.50" font-size="5.94" fill="#222" textLength="6.74" lengthAdjust="spacingAndGlyphs" stroke="#222" stroke-width="0.09">60</text>
<line x1="461.18" y1="371.10" x2="461.18" y2="373.30" stroke="#555" stroke-width="0.5"/>
<text x="457.81" y="377.50" font-size="5.94" fill="#222" textLength="6.74" lengthAdjust="spacingAndGlyphs" stroke="#222" stroke-width="0.09">80</text>
<line x1="481.85" y1="371.10" x2="481.85" y2="373.30" stroke="#555" stroke-width="0.5"/>
<text x="476.79" y="377.50" font-size="5.94" fill="#222" textLength="10.12" lengthAdjust="spacingAndGlyphs" stroke="#222" stroke-width="0.09">100</text>
<line x1="502.52" y1="371.10" x2="502.52" y2="373.30" stroke="#555" stroke-width="0.5"/>
<text x="497.46" y="377.50" font-size="5.94" fill="#222" textLength="10.12" lengthAdjust="spacingAndGlyphs" stroke="#222" stroke-width="0.09">120</text>
<text x="431.03" y="267.60" font-size="7.62" fill="#111" textLength="19.64" lengthAdjust="spacingAndGlyphs" stroke="#111" stroke-width="0.09">RRM1</text>
<text x="442.25" y="276.90" font-size="6.05" fill="#111" textLength="63.15" lengthAdjust="spacingAndGlyphs" stroke="#111" stroke-width="0.09">HR = 1.29 (1.04 - 1.62)</text>
<text x="451.85" y="283.00" font-size="6.05" fill="#111" textLength="53.55" lengthAdjust="spacingAndGlyphs" stroke="#111" stroke-width="0.09">Logrank P = 0.0231</text>
<text x="442.63" y="294.90" font-size="5.94" fill="#111" textLength="28.77" lengthAdjust="spacingAndGlyphs" stroke="#111" stroke-width="0.09">Expression</text>
<line x1="475.80" y1="289.30" x2="487.00" y2="289.30" stroke="#6a6a6a" stroke-width="0.75"/>
<line x1="475.80" y1="297.20" x2="487.00" y2="297.20" stroke="#ff5a5a" stroke-width="0.75"/>
<text x="491.40" y="291.60" font-size="6.05" fill="#111" textLength="10.63" lengthAdjust="spacingAndGlyphs" stroke="#111" stroke-width="0.09">Low</text>
<text x="491.40" y="298.90" font-size="6.05" fill="#111" textLength="12.41" lengthAdjust="spacingAndGlyphs" stroke="#111" stroke-width="0.09">High</text>
<text x="402.19" y="384.70" font-size="6.83" fill="#111" textLength="77.31" lengthAdjust="spacingAndGlyphs" stroke="#111" stroke-width="0.09">Overall survival (months)</text>
<text x="358.30" y="336.37" font-size="6.83" fill="#111" textLength="32.25" lengthAdjust="spacingAndGlyphs" transform="rotate(-90 358.30 336.37)">Probability</text>
<text x="364.24" y="394.70" font-size="5.75" fill="#111" textLength="14.56" lengthAdjust="spacingAndGlyphs" stroke="#111" stroke-width="0.09">At risk</text>
<text x="355.94" y="399.90" font-size="5.75" fill="#111" textLength="9.06" lengthAdjust="spacingAndGlyphs" stroke="#111" stroke-width="0.09">Low</text>
<text x="354.43" y="404.80" font-size="5.75" fill="#ff2020" textLength="10.57" lengthAdjust="spacingAndGlyphs" stroke="#ff2020" stroke-width="0.09">High</text>
<text x="370.10" y="399.90" font-size="5.63" fill="#111" textLength="8.40" lengthAdjust="spacingAndGlyphs" stroke="#111" stroke-width="0.09">357</text>
<text x="370.10" y="404.80" font-size="5.63" fill="#ff2020" textLength="8.40" lengthAdjust="spacingAndGlyphs" stroke="#ff2020" stroke-width="0.09">176</text>
<text x="390.77" y="399.90" font-size="5.63" fill="#111" textLength="8.40" lengthAdjust="spacingAndGlyphs" stroke="#111" stroke-width="0.09">158</text>
<text x="393.57" y="404.80" font-size="5.63" fill="#ff2020" textLength="5.60" lengthAdjust="spacingAndGlyphs" stroke="#ff2020" stroke-width="0.09">59</text>
<text x="414.24" y="399.90" font-size="5.63" fill="#111" textLength="5.60" lengthAdjust="spacingAndGlyphs" stroke="#111" stroke-width="0.09">51</text>
<text x="414.24" y="404.80" font-size="5.63" fill="#ff2020" textLength="5.60" lengthAdjust="spacingAndGlyphs" stroke="#ff2020" stroke-width="0.09">14</text>
<text x="434.91" y="399.90" font-size="5.63" fill="#111" textLength="5.60" lengthAdjust="spacingAndGlyphs" stroke="#111" stroke-width="0.09">18</text>
<text x="437.71" y="404.80" font-size="5.63" fill="#ff2020" textLength="2.80" lengthAdjust="spacingAndGlyphs" stroke="#ff2020" stroke-width="0.09">2</text>
<text x="458.38" y="399.90" font-size="5.63" fill="#111" textLength="2.80" lengthAdjust="spacingAndGlyphs" stroke="#111" stroke-width="0.09">7</text>
<text x="458.38" y="404.80" font-size="5.63" fill="#ff2020" textLength="2.80" lengthAdjust="spacingAndGlyphs" stroke="#ff2020" stroke-width="0.09">1</text>
<text x="479.05" y="399.90" font-size="5.63" fill="#111" textLength="2.80" lengthAdjust="spacingAndGlyphs" stroke="#111" stroke-width="0.09">4</text>
<text x="479.05" y="404.80" font-size="5.63" fill="#ff2020" textLength="2.80" lengthAdjust="spacingAndGlyphs" stroke="#ff2020" stroke-width="0.09">0</text>
<text x="499.72" y="399.90" font-size="5.63" fill="#111" textLength="2.80" lengthAdjust="spacingAndGlyphs" stroke="#111" stroke-width="0.09">0</text>
<text x="499.72" y="404.80" font-size="5.63" fill="#ff2020" textLength="2.80" lengthAdjust="spacingAndGlyphs" stroke="#ff2020" stroke-width="0.09">0</text>
<circle cx="378.50" cy="366.80" r="0.35" fill="#bbb"/>
<polyline points="378.50,274.50 382.10,278.60 385.10,285.20 388.10,290.20 391.20,296.30 393.70,302.30 396.20,308.40 398.70,313.40 400.80,318.50 403.20,324.20 407.80,328.80 412.50,332.80 417.20,336.40 421.90,339.30 426.50,342.20 430.00,344.50 432.40,347.40 442.90,349.20 444.10,350.60 470.90,350.60 472.10,352.70 478.30,353.30 480.40,354.90 502.80,354.90" fill="none" stroke="#1a1a1a" stroke-width="0.95" stroke-linejoin="miter"/>
<path d="M425.90 346.90h3.60M427.70 345.10v3.60" stroke="#111" stroke-width="0.5" fill="none"/>
<path d="M433.50 348.60h3.60M435.30 346.80v3.60" stroke="#111" stroke-width="0.5" fill="none"/>
<path d="M435.30 348.70h3.60M437.10 346.90v3.60" stroke="#111" stroke-width="0.5" fill="none"/>
<path d="M437.10 348.80h3.60M438.90 347.00v3.60" stroke="#111" stroke-width="0.5" fill="none"/>
<path d="M442.80 350.60h3.60M444.60 348.80v3.60" stroke="#111" stroke-width="0.5" fill="none"/>
<path d="M446.90 350.60h3.60M448.70 348.80v3.60" stroke="#111" stroke-width="0.5" fill="none"/>
<path d="M449.80 350.60h3.60M451.60 348.80v3.60" stroke="#111" stroke-width="0.5" fill="none"/>
<path d="M459.80 350.60h3.60M461.60 348.80v3.60" stroke="#111" stroke-width="0.5" fill="none"/>
<path d="M471.50 353.00h3.60M473.30 351.20v3.60" stroke="#111" stroke-width="0.5" fill="none"/>
<path d="M479.70 354.90h3.60M481.50 353.10v3.60" stroke="#111" stroke-width="0.5" fill="none"/>
<path d="M485.70 354.90h3.60M487.50 353.10v3.60" stroke="#111" stroke-width="0.5" fill="none"/>
<path d="M501.00 354.90h3.60M502.80 353.10v3.60" stroke="#111" stroke-width="0.5" fill="none"/>
<path d="M392.99 305.13h3.60M394.79 303.33v3.60" stroke="#111" stroke-width="0.5" fill="none"/>
<path d="M388.00 293.70h3.60M389.80 291.90v3.60" stroke="#111" stroke-width="0.5" fill="none"/>
<path d="M383.55 286.10h3.60M385.35 284.30v3.60" stroke="#111" stroke-width="0.5" fill="none"/>
<path d="M413.56 335.36h3.60M415.36 333.56v3.60" stroke="#111" stroke-width="0.5" fill="none"/>
<path d="M378.91 276.16h3.60M380.71 274.36v3.60" stroke="#111" stroke-width="0.5" fill="none"/>
<path d="M406.17 328.66h3.60M407.97 326.86v3.60" stroke="#111" stroke-width="0.5" fill="none"/>
<path d="M378.40 276.74h3.60M380.20 274.94v3.60" stroke="#111" stroke-width="0.5" fill="none"/>
<path d="M396.68 313.75h3.60M398.48 311.95v3.60" stroke="#111" stroke-width="0.5" fill="none"/>
<path d="M391.03 298.66h3.60M392.83 296.86v3.60" stroke="#111" stroke-width="0.5" fill="none"/>
<path d="M393.93 308.52h3.60M395.73 306.72v3.60" stroke="#111" stroke-width="0.5" fill="none"/>
<path d="M401.43 323.91h3.60M403.23 322.11v3.60" stroke="#111" stroke-width="0.5" fill="none"/>
<path d="M411.42 332.99h3.60M413.22 331.19v3.60" stroke="#111" stroke-width="0.5" fill="none"/>
<path d="M381.16 281.41h3.60M382.96 279.61v3.60" stroke="#111" stroke-width="0.5" fill="none"/>
<path d="M384.78 287.65h3.60M386.58 285.85v3.60" stroke="#111" stroke-width="0.5" fill="none"/>
<path d="M397.21 313.46h3.60M399.01 311.66v3.60" stroke="#111" stroke-width="0.5" fill="none"/>
<path d="M402.13 324.44h3.60M403.93 322.64v3.60" stroke="#111" stroke-width="0.5" fill="none"/>
<path d="M389.79 296.31h3.60M391.59 294.51v3.60" stroke="#111" stroke-width="0.5" fill="none"/>
<path d="M392.20 302.72h3.60M394.00 300.92v3.60" stroke="#111" stroke-width="0.5" fill="none"/>
<path d="M392.09 301.82h3.60M393.89 300.02v3.60" stroke="#111" stroke-width="0.5" fill="none"/>
<path d="M412.31 334.36h3.60M414.11 332.56v3.60" stroke="#111" stroke-width="0.5" fill="none"/>
<path d="M380.45 277.91h3.60M382.25 276.11v3.60" stroke="#111" stroke-width="0.5" fill="none"/>
<path d="M398.76 317.67h3.60M400.56 315.87v3.60" stroke="#111" stroke-width="0.5" fill="none"/>
<path d="M400.09 320.10h3.60M401.89 318.30v3.60" stroke="#111" stroke-width="0.5" fill="none"/>
<path d="M389.26 297.45h3.60M391.06 295.65v3.60" stroke="#111" stroke-width="0.5" fill="none"/>
<path d="M383.67 287.03h3.60M385.47 285.23v3.60" stroke="#111" stroke-width="0.5" fill="none"/>
<path d="M389.99 296.70h3.60M391.79 294.90v3.60" stroke="#111" stroke-width="0.5" fill="none"/>
<path d="M416.97 337.06h3.60M418.77 335.26v3.60" stroke="#111" stroke-width="0.5" fill="none"/>
<path d="M423.84 341.41h3.60M425.64 339.61v3.60" stroke="#111" stroke-width="0.5" fill="none"/>
<path d="M385.16 289.27h3.60M386.96 287.47v3.60" stroke="#111" stroke-width="0.5" fill="none"/>
<path d="M420.13 339.84h3.60M421.93 338.04v3.60" stroke="#111" stroke-width="0.5" fill="none"/>
<path d="M393.51 306.90h3.60M395.31 305.10v3.60" stroke="#111" stroke-width="0.5" fill="none"/>
<path d="M416.03 337.05h3.60M417.83 335.25v3.60" stroke="#111" stroke-width="0.5" fill="none"/>
<path d="M418.22 337.70h3.60M420.02 335.90v3.60" stroke="#111" stroke-width="0.5" fill="none"/>
<path d="M383.16 284.44h3.60M384.96 282.64v3.60" stroke="#111" stroke-width="0.5" fill="none"/>
<path d="M413.43 335.23h3.60M415.23 333.43v3.60" stroke="#111" stroke-width="0.5" fill="none"/>
<path d="M385.55 286.99h3.60M387.35 285.19v3.60" stroke="#111" stroke-width="0.5" fill="none"/>
<path d="M398.79 316.35h3.60M400.59 314.55v3.60" stroke="#111" stroke-width="0.5" fill="none"/>
<path d="M385.19 288.96h3.60M386.99 287.16v3.60" stroke="#111" stroke-width="0.5" fill="none"/>
<path d="M427.83 343.38h3.60M429.63 341.58v3.60" stroke="#111" stroke-width="0.5" fill="none"/>
<path d="M391.17 299.41h3.60M392.97 297.61v3.60" stroke="#111" stroke-width="0.5" fill="none"/>
<path d="M401.11 324.10h3.60M402.91 322.30v3.60" stroke="#111" stroke-width="0.5" fill="none"/>
<path d="M419.74 338.79h3.60M421.54 336.99v3.60" stroke="#111" stroke-width="0.5" fill="none"/>
<path d="M398.34 317.39h3.60M400.14 315.59v3.60" stroke="#111" stroke-width="0.5" fill="none"/>
<path d="M401.40 324.21h3.60M403.20 322.41v3.60" stroke="#111" stroke-width="0.5" fill="none"/>
<path d="M419.29 337.75h3.60M421.09 335.95v3.60" stroke="#111" stroke-width="0.5" fill="none"/>
<path d="M412.11 334.07h3.60M413.91 332.27v3.60" stroke="#111" stroke-width="0.5" fill="none"/>
<path d="M401.42 323.43h3.60M403.22 321.63v3.60" stroke="#111" stroke-width="0.5" fill="none"/>
<path d="M396.75 313.35h3.60M398.55 311.55v3.60" stroke="#111" stroke-width="0.5" fill="none"/>
<path d="M403.26 325.63h3.60M405.06 323.83v3.60" stroke="#111" stroke-width="0.5" fill="none"/>
<path d="M394.79 307.60h3.60M396.59 305.80v3.60" stroke="#111" stroke-width="0.5" fill="none"/>
<path d="M396.04 310.82h3.60M397.84 309.02v3.60" stroke="#111" stroke-width="0.5" fill="none"/>
<path d="M407.32 328.88h3.60M409.12 327.08v3.60" stroke="#111" stroke-width="0.5" fill="none"/>
<path d="M428.02 345.11h3.60M429.82 343.31v3.60" stroke="#111" stroke-width="0.5" fill="none"/>
<path d="M403.11 325.92h3.60M404.91 324.12v3.60" stroke="#111" stroke-width="0.5" fill="none"/>
<path d="M381.94 280.97h3.60M383.74 279.17v3.60" stroke="#111" stroke-width="0.5" fill="none"/>
<path d="M416.34 337.59h3.60M418.14 335.79v3.60" stroke="#111" stroke-width="0.5" fill="none"/>
<path d="M401.59 324.15h3.60M403.39 322.35v3.60" stroke="#111" stroke-width="0.5" fill="none"/>
<path d="M400.11 323.41h3.60M401.91 321.61v3.60" stroke="#111" stroke-width="0.5" fill="none"/>
<path d="M393.44 307.05h3.60M395.24 305.25v3.60" stroke="#111" stroke-width="0.5" fill="none"/>
<path d="M409.94 332.47h3.60M411.74 330.67v3.60" stroke="#111" stroke-width="0.5" fill="none"/>
<path d="M399.97 320.92h3.60M401.77 319.12v3.60" stroke="#111" stroke-width="0.5" fill="none"/>
<path d="M419.32 338.80h3.60M421.12 337.00v3.60" stroke="#111" stroke-width="0.5" fill="none"/>
<path d="M400.46 320.66h3.60M402.26 318.86v3.60" stroke="#111" stroke-width="0.5" fill="none"/>
<path d="M385.96 289.93h3.60M387.76 288.13v3.60" stroke="#111" stroke-width="0.5" fill="none"/>
<path d="M425.42 342.56h3.60M427.22 340.76v3.60" stroke="#111" stroke-width="0.5" fill="none"/>
<path d="M404.35 328.10h3.60M406.15 326.30v3.60" stroke="#111" stroke-width="0.5" fill="none"/>
<path d="M380.59 278.80h3.60M382.39 277.00v3.60" stroke="#111" stroke-width="0.5" fill="none"/>
<path d="M426.67 343.62h3.60M428.47 341.82v3.60" stroke="#111" stroke-width="0.5" fill="none"/>
<path d="M403.45 327.09h3.60M405.25 325.29v3.60" stroke="#111" stroke-width="0.5" fill="none"/>
<path d="M398.96 319.42h3.60M400.76 317.62v3.60" stroke="#111" stroke-width="0.5" fill="none"/>
<path d="M391.66 301.54h3.60M393.46 299.74v3.60" stroke="#111" stroke-width="0.5" fill="none"/>
<path d="M392.02 301.09h3.60M393.82 299.29v3.60" stroke="#111" stroke-width="0.5" fill="none"/>
<path d="M423.82 341.89h3.60M425.62 340.09v3.60" stroke="#111" stroke-width="0.5" fill="none"/>
<path d="M429.92 347.48h3.60M431.72 345.68v3.60" stroke="#111" stroke-width="0.5" fill="none"/>
<path d="M396.10 312.40h3.60M397.90 310.60v3.60" stroke="#111" stroke-width="0.5" fill="none"/>
<path d="M424.66 341.55h3.60M426.46 339.75v3.60" stroke="#111" stroke-width="0.5" fill="none"/>
<path d="M377.07 275.56h3.60M378.87 273.76v3.60" stroke="#111" stroke-width="0.5" fill="none"/>
<path d="M424.67 342.68h3.60M426.47 340.88v3.60" stroke="#111" stroke-width="0.5" fill="none"/>
<path d="M414.13 335.24h3.60M415.93 333.44v3.60" stroke="#111" stroke-width="0.5" fill="none"/>
<path d="M417.42 338.31h3.60M419.22 336.51v3.60" stroke="#111" stroke-width="0.5" fill="none"/>
<path d="M401.90 323.87h3.60M403.70 322.07v3.60" stroke="#111" stroke-width="0.5" fill="none"/>
<path d="M391.81 303.25h3.60M393.61 301.45v3.60" stroke="#111" stroke-width="0.5" fill="none"/>
<path d="M392.92 305.93h3.60M394.72 304.13v3.60" stroke="#111" stroke-width="0.5" fill="none"/>
<path d="M400.14 320.69h3.60M401.94 318.89v3.60" stroke="#111" stroke-width="0.5" fill="none"/>
<path d="M419.90 339.99h3.60M421.70 338.19v3.60" stroke="#111" stroke-width="0.5" fill="none"/>
<path d="M421.62 339.77h3.60M423.42 337.97v3.60" stroke="#111" stroke-width="0.5" fill="none"/>
<path d="M392.44 302.69h3.60M394.24 300.89v3.60" stroke="#111" stroke-width="0.5" fill="none"/>
<path d="M389.77 299.16h3.60M391.57 297.36v3.60" stroke="#111" stroke-width="0.5" fill="none"/>
<path d="M412.25 334.47h3.60M414.05 332.67v3.60" stroke="#111" stroke-width="0.5" fill="none"/>
<path d="M407.65 331.26h3.60M409.45 329.46v3.60" stroke="#111" stroke-width="0.5" fill="none"/>
<path d="M399.09 318.76h3.60M400.89 316.96v3.60" stroke="#111" stroke-width="0.5" fill="none"/>
<path d="M405.54 328.25h3.60M407.34 326.45v3.60" stroke="#111" stroke-width="0.5" fill="none"/>
<path d="M390.69 301.50h3.60M392.49 299.70v3.60" stroke="#111" stroke-width="0.5" fill="none"/>
<path d="M419.97 339.01h3.60M421.77 337.21v3.60" stroke="#111" stroke-width="0.5" fill="none"/>
<path d="M401.04 323.95h3.60M402.84 322.15v3.60" stroke="#111" stroke-width="0.5" fill="none"/>
<path d="M407.45 330.88h3.60M409.25 329.08v3.60" stroke="#111" stroke-width="0.5" fill="none"/>
<path d="M427.90 344.30h3.60M429.70 342.50v3.60" stroke="#111" stroke-width="0.5" fill="none"/>
<path d="M378.60 276.51h3.60M380.40 274.71v3.60" stroke="#111" stroke-width="0.5" fill="none"/>
<path d="M381.63 282.72h3.60M383.43 280.92v3.60" stroke="#111" stroke-width="0.5" fill="none"/>
<path d="M385.33 287.99h3.60M387.13 286.19v3.60" stroke="#111" stroke-width="0.5" fill="none"/>
<path d="M381.29 281.34h3.60M383.09 279.54v3.60" stroke="#111" stroke-width="0.5" fill="none"/>
<path d="M389.49 297.91h3.60M391.29 296.11v3.60" stroke="#111" stroke-width="0.5" fill="none"/>
<path d="M395.60 312.42h3.60M397.40 310.62v3.60" stroke="#111" stroke-width="0.5" fill="none"/>
<path d="M390.59 300.24h3.60M392.39 298.44v3.60" stroke="#111" stroke-width="0.5" fill="none"/>
<path d="M409.42 331.68h3.60M411.22 329.88v3.60" stroke="#111" stroke-width="0.5" fill="none"/>
<path d="M390.65 300.04h3.60M392.45 298.24v3.60" stroke="#111" stroke-width="0.5" fill="none"/>
<path d="M377.69 275.53h3.60M379.49 273.73v3.60" stroke="#111" stroke-width="0.5" fill="none"/>
<path d="M424.14 342.83h3.60M425.94 341.03v3.60" stroke="#111" stroke-width="0.5" fill="none"/>
<path d="M411.30 333.16h3.60M413.10 331.36v3.60" stroke="#111" stroke-width="0.5" fill="none"/>
<path d="M399.97 320.91h3.60M401.77 319.11v3.60" stroke="#111" stroke-width="0.5" fill="none"/>
<path d="M400.71 321.20h3.60M402.51 319.40v3.60" stroke="#111" stroke-width="0.5" fill="none"/>
<path d="M420.90 340.71h3.60M422.70 338.91v3.60" stroke="#111" stroke-width="0.5" fill="none"/>
<path d="M384.55 286.54h3.60M386.35 284.74v3.60" stroke="#111" stroke-width="0.5" fill="none"/>
<path d="M389.55 295.89h3.60M391.35 294.09v3.60" stroke="#111" stroke-width="0.5" fill="none"/>
<path d="M385.21 288.36h3.60M387.01 286.56v3.60" stroke="#111" stroke-width="0.5" fill="none"/>
<path d="M396.64 312.39h3.60M398.44 310.59v3.60" stroke="#111" stroke-width="0.5" fill="none"/>
<path d="M385.10 288.57h3.60M386.90 286.77v3.60" stroke="#111" stroke-width="0.5" fill="none"/>
<path d="M393.58 305.45h3.60M395.38 303.65v3.60" stroke="#111" stroke-width="0.5" fill="none"/>
<path d="M406.20 329.04h3.60M408.00 327.24v3.60" stroke="#111" stroke-width="0.5" fill="none"/>
<path d="M418.40 339.03h3.60M420.20 337.23v3.60" stroke="#111" stroke-width="0.5" fill="none"/>
<polyline points="378.30,274.30 381.60,278.60 383.60,284.10 385.60,290.20 387.60,297.30 390.20,305.40 392.20,311.40 394.20,317.50 396.20,322.80 399.70,328.20 403.20,332.80 406.70,336.40 410.20,338.70 412.50,342.20 416.00,345.10 419.50,346.30 420.70,348.30 442.90,348.30 443.10,357.40 476.30,357.40 476.30,366.20" fill="none" stroke="#f52020" stroke-width="1.0" stroke-linejoin="miter"/>
<path d="M420.10 348.60h3.60M421.90 346.80v3.60" stroke="#333" stroke-width="0.5" fill="none"/>
<path d="M391.76 315.99h3.60M393.56 314.19v3.60" stroke="#333" stroke-width="0.5" fill="none"/>
<path d="M407.86 338.02h3.60M409.66 336.22v3.60" stroke="#333" stroke-width="0.5" fill="none"/>
<path d="M406.65 337.31h3.60M408.45 335.51v3.60" stroke="#333" stroke-width="0.5" fill="none"/>
<path d="M385.70 296.85h3.60M387.50 295.05v3.60" stroke="#333" stroke-width="0.5" fill="none"/>
<path d="M407.26 337.67h3.60M409.06 335.87v3.60" stroke="#333" stroke-width="0.5" fill="none"/>
<path d="M384.53 292.56h3.60M386.33 290.76v3.60" stroke="#333" stroke-width="0.5" fill="none"/>
<path d="M385.45 296.41h3.60M387.25 294.61v3.60" stroke="#333" stroke-width="0.5" fill="none"/>
<path d="M382.66 287.29h3.60M384.46 285.49v3.60" stroke="#333" stroke-width="0.5" fill="none"/>
<path d="M385.19 294.41h3.60M386.99 292.61v3.60" stroke="#333" stroke-width="0.5" fill="none"/>
<path d="M390.49 312.34h3.60M392.29 310.54v3.60" stroke="#333" stroke-width="0.5" fill="none"/>
<path d="M380.68 280.38h3.60M382.48 278.58v3.60" stroke="#333" stroke-width="0.5" fill="none"/>
<path d="M391.94 315.93h3.60M393.74 314.13v3.60" stroke="#333" stroke-width="0.5" fill="none"/>
<path d="M405.91 337.20h3.60M407.71 335.40v3.60" stroke="#333" stroke-width="0.5" fill="none"/>
<path d="M392.96 319.43h3.60M394.76 317.63v3.60" stroke="#333" stroke-width="0.5" fill="none"/>
<path d="M382.77 286.51h3.60M384.57 284.71v3.60" stroke="#333" stroke-width="0.5" fill="none"/>
<path d="M389.24 308.61h3.60M391.04 306.81v3.60" stroke="#333" stroke-width="0.5" fill="none"/>
<path d="M413.73 344.53h3.60M415.53 342.73v3.60" stroke="#333" stroke-width="0.5" fill="none"/>
<path d="M403.29 334.36h3.60M405.09 332.56v3.60" stroke="#333" stroke-width="0.5" fill="none"/>
<path d="M382.51 285.40h3.60M384.31 283.60v3.60" stroke="#333" stroke-width="0.5" fill="none"/>
<path d="M391.07 313.06h3.60M392.87 311.26v3.60" stroke="#333" stroke-width="0.5" fill="none"/>
<path d="M409.23 339.53h3.60M411.03 337.73v3.60" stroke="#333" stroke-width="0.5" fill="none"/>
<path d="M387.85 302.75h3.60M389.65 300.95v3.60" stroke="#333" stroke-width="0.5" fill="none"/>
<path d="M404.39 336.07h3.60M406.19 334.27v3.60" stroke="#333" stroke-width="0.5" fill="none"/>
<path d="M390.22 310.54h3.60M392.02 308.74v3.60" stroke="#333" stroke-width="0.5" fill="none"/>
<path d="M391.61 314.54h3.60M393.41 312.74v3.60" stroke="#333" stroke-width="0.5" fill="none"/>
<path d="M393.78 321.55h3.60M395.58 319.75v3.60" stroke="#333" stroke-width="0.5" fill="none"/>
<path d="M386.34 299.66h3.60M388.14 297.86v3.60" stroke="#333" stroke-width="0.5" fill="none"/>
<path d="M388.51 305.79h3.60M390.31 303.99v3.60" stroke="#333" stroke-width="0.5" fill="none"/>
<path d="M385.91 297.06h3.60M387.71 295.26v3.60" stroke="#333" stroke-width="0.5" fill="none"/>
<path d="M393.16 319.82h3.60M394.96 318.02v3.60" stroke="#333" stroke-width="0.5" fill="none"/>
<rect x="547.30" y="269.40" width="136.30" height="101.60" fill="none" stroke="#b4b4b4" stroke-width="0.9"/>
<line x1="545.10" y1="366.10" x2="547.30" y2="366.10" stroke="#555" stroke-width="0.5"/>
<text x="535.81" y="368.10" font-size="6.05" fill="#222" textLength="8.59" lengthAdjust="spacingAndGlyphs" stroke="#222" stroke-width="0.09">0.0</text>
<line x1="545.10" y1="347.68" x2="547.30" y2="347.68" stroke="#555" stroke-width="0.5"/>
<text x="535.81" y="349.68" font-size="6.05" fill="#222" textLength="8.59" lengthAdjust="spacingAndGlyphs" stroke="#222" stroke-width="0.09">0.2</text>
<line x1="545.10" y1="329.26" x2="547.30" y2="329.26" stroke="#555" stroke-width="0.5"/>
<text x="535.81" y="331.26" font-size="6.05" fill="#222" textLength="8.59" lengthAdjust="spacingAndGlyphs" stroke="#222" stroke-width="0.09">0.4</text>
<line x1="545.10" y1="310.84" x2="547.30" y2="310.84" stroke="#555" stroke-width="0.5"/>
<text x="535.81" y="312.84" font-size="6.05" fill="#222" textLength="8.59" lengthAdjust="spacingAndGlyphs" stroke="#222" stroke-width="0.09">0.6</text>
<line x1="545.10" y1="292.42" x2="547.30" y2="292.42" stroke="#555" stroke-width="0.5"/>
<text x="535.81" y="294.42" font-size="6.05" fill="#222" textLength="8.59" lengthAdjust="spacingAndGlyphs" stroke="#222" stroke-width="0.09">0.8</text>
<line x1="545.10" y1="274.00" x2="547.30" y2="274.00" stroke="#555" stroke-width="0.5"/>
<text x="535.81" y="276.00" font-size="6.05" fill="#222" textLength="8.59" lengthAdjust="spacingAndGlyphs" stroke="#222" stroke-width="0.09">1.0</text>
<line x1="553.50" y1="371.00" x2="553.50" y2="373.20" stroke="#555" stroke-width="0.5"/>
<text x="551.81" y="377.40" font-size="5.94" fill="#222" textLength="3.37" lengthAdjust="spacingAndGlyphs" stroke="#222" stroke-width="0.09">0</text>
<line x1="572.60" y1="371.00" x2="572.60" y2="373.20" stroke="#555" stroke-width="0.5"/>
<text x="569.23" y="377.40" font-size="5.94" fill="#222" textLength="6.74" lengthAdjust="spacingAndGlyphs" stroke="#222" stroke-width="0.09">10</text>
<line x1="591.70" y1="371.00" x2="591.70" y2="373.20" stroke="#555" stroke-width="0.5"/>
<text x="588.33" y="377.40" font-size="5.94" fill="#222" textLength="6.74" lengthAdjust="spacingAndGlyphs" stroke="#222" stroke-width="0.09">20</text>
<line x1="610.80" y1="371.00" x2="610.80" y2="373.20" stroke="#555" stroke-width="0.5"/>
<text x="607.43" y="377.40" font-size="5.94" fill="#222" textLength="6.74" lengthAdjust="spacingAndGlyphs" stroke="#222" stroke-width="0.09">30</text>
<line x1="629.90" y1="371.00" x2="629.90" y2="373.20" stroke="#555" stroke-width="0.5"/>
<text x="626.53" y="377.40" font-size="5.94" fill="#222" textLength="6.74" lengthAdjust="spacingAndGlyphs" stroke="#222" stroke-width="0.09">40</text>
<line x1="649.00" y1="371.00" x2="649.00" y2="373.20" stroke="#555" stroke-width="0.5"/>
<text x="645.63" y="377.40" font-size="5.94" fill="#222" textLength="6.74" lengthAdjust="spacingAndGlyphs" stroke="#222" stroke-width="0.09">50</text>
<line x1="668.10" y1="371.00" x2="668.10" y2="373.20" stroke="#555" stroke-width="0.5"/>
<text x="664.73" y="377.40" font-size="5.94" fill="#222" textLength="6.74" lengthAdjust="spacingAndGlyphs" stroke="#222" stroke-width="0.09">60</text>
<text x="605.63" y="267.60" font-size="7.62" fill="#111" textLength="19.64" lengthAdjust="spacingAndGlyphs" stroke="#111" stroke-width="0.09">RRM1</text>
<text x="616.45" y="276.90" font-size="6.05" fill="#111" textLength="63.15" lengthAdjust="spacingAndGlyphs" stroke="#111" stroke-width="0.09">HR = 1.38 (0.91 - 2.07)</text>
<text x="629.49" y="283.00" font-size="6.05" fill="#111" textLength="50.11" lengthAdjust="spacingAndGlyphs" stroke="#111" stroke-width="0.09">Logrank P = 0.125</text>
<text x="616.83" y="294.90" font-size="5.94" fill="#111" textLength="28.77" lengthAdjust="spacingAndGlyphs" stroke="#111" stroke-width="0.09">Expression</text>
<line x1="650.00" y1="289.30" x2="661.20" y2="289.30" stroke="#6a6a6a" stroke-width="0.75"/>
<line x1="650.00" y1="297.20" x2="661.20" y2="297.20" stroke="#ff5a5a" stroke-width="0.75"/>
<text x="665.60" y="291.60" font-size="6.05" fill="#111" textLength="10.63" lengthAdjust="spacingAndGlyphs" stroke="#111" stroke-width="0.09">Low</text>
<text x="665.60" y="298.90" font-size="6.05" fill="#111" textLength="12.41" lengthAdjust="spacingAndGlyphs" stroke="#111" stroke-width="0.09">High</text>
<text x="568.71" y="384.60" font-size="6.83" fill="#111" textLength="93.47" lengthAdjust="spacingAndGlyphs" stroke="#111" stroke-width="0.09">Disease free survival (months)</text>
<text x="533.30" y="336.32" font-size="6.83" fill="#111" textLength="32.25" lengthAdjust="spacingAndGlyphs" transform="rotate(-90 533.30 336.32)">Probability</text>
<text x="539.24" y="394.60" font-size="5.75" fill="#111" textLength="14.56" lengthAdjust="spacingAndGlyphs" stroke="#111" stroke-width="0.09">At risk</text>
<text x="530.94" y="399.80" font-size="5.75" fill="#111" textLength="9.06" lengthAdjust="spacingAndGlyphs" stroke="#111" stroke-width="0.09">Low</text>
<text x="529.43" y="404.70" font-size="5.75" fill="#ff2020" textLength="10.57" lengthAdjust="spacingAndGlyphs" stroke="#ff2020" stroke-width="0.09">High</text>
<text x="547.90" y="399.80" font-size="5.63" fill="#111" textLength="5.60" lengthAdjust="spacingAndGlyphs" stroke="#111" stroke-width="0.09">37</text>
<text x="545.10" y="404.70" font-size="5.63" fill="#ff2020" textLength="8.40" lengthAdjust="spacingAndGlyphs" stroke="#ff2020" stroke-width="0.09">111</text>
<text x="567.00" y="399.80" font-size="5.63" fill="#111" textLength="5.60" lengthAdjust="spacingAndGlyphs" stroke="#111" stroke-width="0.09">20</text>
<text x="567.00" y="404.70" font-size="5.63" fill="#ff2020" textLength="5.60" lengthAdjust="spacingAndGlyphs" stroke="#ff2020" stroke-width="0.09">55</text>
<text x="586.10" y="399.80" font-size="5.63" fill="#111" textLength="5.60" lengthAdjust="spacingAndGlyphs" stroke="#111" stroke-width="0.09">10</text>
<text x="586.10" y="404.70" font-size="5.63" fill="#ff2020" textLength="5.60" lengthAdjust="spacingAndGlyphs" stroke="#ff2020" stroke-width="0.09">15</text>
<text x="608.00" y="399.80" font-size="5.63" fill="#111" textLength="2.80" lengthAdjust="spacingAndGlyphs" stroke="#111" stroke-width="0.09">6</text>
<text x="608.00" y="404.70" font-size="5.63" fill="#ff2020" textLength="2.80" lengthAdjust="spacingAndGlyphs" stroke="#ff2020" stroke-width="0.09">8</text>
<text x="627.10" y="399.80" font-size="5.63" fill="#111" textLength="2.80" lengthAdjust="spacingAndGlyphs" stroke="#111" stroke-width="0.09">4</text>
<text x="627.10" y="404.70" font-size="5.63" fill="#ff2020" textLength="2.80" lengthAdjust="spacingAndGlyphs" stroke="#ff2020" stroke-width="0.09">6</text>
<text x="646.20" y="399.80" font-size="5.63" fill="#111" textLength="2.80" lengthAdjust="spacingAndGlyphs" stroke="#111" stroke-width="0.09">2</text>
<text x="646.20" y="404.70" font-size="5.63" fill="#ff2020" textLength="2.80" lengthAdjust="spacingAndGlyphs" stroke="#ff2020" stroke-width="0.09">1</text>
<text x="665.30" y="399.80" font-size="5.63" fill="#111" textLength="2.80" lengthAdjust="spacingAndGlyphs" stroke="#111" stroke-width="0.09">0</text>
<text x="665.30" y="404.70" font-size="5.63" fill="#ff2020" textLength="2.80" lengthAdjust="spacingAndGlyphs" stroke="#ff2020" stroke-width="0.09">1</text>
<circle cx="553.50" cy="366.10" r="0.35" fill="#bbb"/>
<polyline points="554.00,273.50 555.60,276.10 556.60,278.60 560.10,278.60 561.10,282.10 562.60,286.20 563.60,290.20 565.20,294.20 567.20,298.30 568.20,301.30 569.20,305.40 569.70,310.40 572.20,312.40 573.70,315.50 574.70,318.50 575.50,323.20 579.90,323.20 581.60,327.00 582.50,334.00 585.10,334.40 586.90,338.40 596.50,338.90 598.30,347.20 607.00,347.20 607.90,350.10 612.30,350.10 614.90,355.00 658.70,355.00" fill="none" stroke="#1a1a1a" stroke-width="0.95" stroke-linejoin="miter"/>
<path d="M552.40 273.80h3.60M554.20 272.00v3.60" stroke="#111" stroke-width="0.5" fill="none"/>
<path d="M559.80 282.80h3.60M561.60 281.00v3.60" stroke="#111" stroke-width="0.5" fill="none"/>
<path d="M561.00 286.40h3.60M562.80 284.60v3.60" stroke="#111" stroke-width="0.5" fill="none"/>
<path d="M565.70 300.30h3.60M567.50 298.50v3.60" stroke="#111" stroke-width="0.5" fill="none"/>
<path d="M567.20 307.60h3.60M569.00 305.80v3.60" stroke="#111" stroke-width="0.5" fill="none"/>
<path d="M570.80 312.60h3.60M572.60 310.80v3.60" stroke="#111" stroke-width="0.5" fill="none"/>
<path d="M572.40 317.00h3.60M574.20 315.20v3.60" stroke="#111" stroke-width="0.5" fill="none"/>
<path d="M635.90 355.00h3.60M637.70 353.20v3.60" stroke="#111" stroke-width="0.5" fill="none"/>
<path d="M645.50 355.00h3.60M647.30 353.20v3.60" stroke="#111" stroke-width="0.5" fill="none"/>
<path d="M648.70 355.00h3.60M650.50 353.20v3.60" stroke="#111" stroke-width="0.5" fill="none"/>
<path d="M656.10 355.00h3.60M657.90 353.20v3.60" stroke="#111" stroke-width="0.5" fill="none"/>
<polyline points="554.00,273.50 556.10,280.10 558.60,285.20 561.10,292.20 563.10,297.30 565.70,302.30 568.20,308.40 570.20,312.40 572.20,315.50 574.70,322.50 576.40,332.30 579.00,335.80 581.60,339.30 582.50,343.70 585.10,345.40 588.70,348.90 592.20,351.50 596.50,353.30 600.00,355.90 603.50,357.10 610.60,358.20 614.10,358.90 630.70,359.40 634.20,361.20 637.70,361.70 639.50,362.90 677.10,362.90 677.10,366.40" fill="none" stroke="#f52020" stroke-width="1.0" stroke-linejoin="miter"/>
<path d="M553.70 281.00h3.60M555.50 279.20v3.60" stroke="#333" stroke-width="0.5" fill="none"/>
<path d="M556.40 286.50h3.60M558.20 284.70v3.60" stroke="#333" stroke-width="0.5" fill="none"/>
<path d="M560.00 298.30h3.60M561.80 296.50v3.60" stroke="#333" stroke-width="0.5" fill="none"/>
<path d="M563.40 304.60h3.60M565.20 302.80v3.60" stroke="#333" stroke-width="0.5" fill="none"/>
<path d="M566.60 308.50h3.60M568.40 306.70v3.60" stroke="#333" stroke-width="0.5" fill="none"/>
<path d="M579.00 337.50h3.60M580.80 335.70v3.60" stroke="#333" stroke-width="0.5" fill="none"/>
<path d="M584.20 347.20h3.60M586.00 345.40v3.60" stroke="#333" stroke-width="0.5" fill="none"/>
<path d="M611.40 358.90h3.60M613.20 357.10v3.60" stroke="#333" stroke-width="0.5" fill="none"/>
<path d="M629.80 360.60h3.60M631.60 358.80v3.60" stroke="#333" stroke-width="0.5" fill="none"/>
<path d="M645.90 362.90h3.60M647.70 361.10v3.60" stroke="#333" stroke-width="0.5" fill="none"/>
<text x="339.30" y="113.90" font-size="14.6" fill="#000">C</text>
<text x="0.30" y="274.50" font-size="14.6" fill="#000">D</text>
<text x="345.00" y="274.90" font-size="14.6" fill="#000">E</text>
<rect x="54.40" y="417.40" width="151.10" height="144.60" fill="none" stroke="#555" stroke-width="0.7"/>
<line x1="88.60" y1="562.00" x2="88.60" y2="564.40" stroke="#555" stroke-width="0.5"/>
<text x="88.60" y="573.20" font-size="5.3" fill="#333" text-anchor="middle">3</text>
<line x1="124.57" y1="562.00" x2="124.57" y2="564.40" stroke="#555" stroke-width="0.5"/>
<text x="124.57" y="573.20" font-size="5.3" fill="#333" text-anchor="middle">4</text>
<line x1="160.54" y1="562.00" x2="160.54" y2="564.40" stroke="#555" stroke-width="0.5"/>
<text x="160.54" y="573.20" font-size="5.3" fill="#333" text-anchor="middle">5</text>
<line x1="196.51" y1="562.00" x2="196.51" y2="564.40" stroke="#555" stroke-width="0.5"/>
<text x="196.51" y="573.20" font-size="5.3" fill="#333" text-anchor="middle">6</text>
<line x1="52.00" y1="562.30" x2="54.40" y2="562.30" stroke="#555" stroke-width="0.5"/>
<text x="46.20" y="562.30" font-size="5.3" fill="#333" text-anchor="middle" transform="rotate(-90 46.20 562.30)">6</text>
<line x1="52.00" y1="535.70" x2="54.40" y2="535.70" stroke="#555" stroke-width="0.5"/>
<text x="46.20" y="535.70" font-size="5.3" fill="#333" text-anchor="middle" transform="rotate(-90 46.20 535.70)">7</text>
<line x1="52.00" y1="509.10" x2="54.40" y2="509.10" stroke="#555" stroke-width="0.5"/>
<text x="46.20" y="509.10" font-size="5.3" fill="#333" text-anchor="middle" transform="rotate(-90 46.20 509.10)">8</text>
<line x1="52.00" y1="482.50" x2="54.40" y2="482.50" stroke="#555" stroke-width="0.5"/>
<text x="46.20" y="482.50" font-size="5.3" fill="#333" text-anchor="middle" transform="rotate(-90 46.20 482.50)">9</text>
<line x1="52.00" y1="455.90" x2="54.40" y2="455.90" stroke="#555" stroke-width="0.5"/>
<text x="46.20" y="455.90" font-size="5.3" fill="#333" text-anchor="middle" transform="rotate(-90 46.20 455.90)">10</text>
<line x1="52.00" y1="429.30" x2="54.40" y2="429.30" stroke="#555" stroke-width="0.5"/>
<text x="46.20" y="429.30" font-size="5.3" fill="#333" text-anchor="middle" transform="rotate(-90 46.20 429.30)">11</text>
<circle cx="139.66" cy="457.69" r="0.55" fill="#555"/>
<circle cx="117.97" cy="487.88" r="0.55" fill="#555"/>
<circle cx="155.16" cy="484.29" r="0.55" fill="#555"/>
<circle cx="144.05" cy="463.68" r="0.55" fill="#555"/>
<circle cx="156.88" cy="464.54" r="0.55" fill="#555"/>
<circle cx="173.43" cy="458.35" r="0.55" fill="#555"/>
<circle cx="119.78" cy="484.24" r="0.55" fill="#555"/>
<circle cx="133.86" cy="478.11" r="0.55" fill="#555"/>
<circle cx="148.82" cy="450.03" r="0.55" fill="#555"/>
<circle cx="113.80" cy="477.48" r="0.55" fill="#555"/>
<circle cx="131.34" cy="503.41" r="0.55" fill="#555"/>
<circle cx="127.32" cy="477.51" r="0.55" fill="#555"/>
<circle cx="148.00" cy="453.67" r="0.55" fill="#555"/>
<circle cx="130.01" cy="468.97" r="0.55" fill="#555"/>
<circle cx="143.14" cy="469.92" r="0.55" fill="#555"/>
<circle cx="142.96" cy="485.43" r="0.55" fill="#555"/>
<circle cx="137.08" cy="463.26" r="0.55" fill="#555"/>
<circle cx="151.61" cy="476.46" r="0.55" fill="#555"/>
<circle cx="139.66" cy="452.51" r="0.55" fill="#555"/>
<circle cx="142.20" cy="484.80" r="0.55" fill="#555"/>
<circle cx="147.24" cy="441.83" r="0.55" fill="#555"/>
<circle cx="144.83" cy="462.34" r="0.55" fill="#555"/>
<circle cx="142.06" cy="469.14" r="0.55" fill="#555"/>
<circle cx="122.11" cy="490.89" r="0.55" fill="#555"/>
<circle cx="161.31" cy="444.44" r="0.55" fill="#555"/>
<circle cx="152.48" cy="454.14" r="0.55" fill="#555"/>
<circle cx="149.64" cy="438.42" r="0.55" fill="#555"/>
<circle cx="127.47" cy="448.77" r="0.55" fill="#555"/>
<circle cx="152.63" cy="451.44" r="0.55" fill="#555"/>
<circle cx="168.78" cy="427.40" r="0.55" fill="#555"/>
<circle cx="149.35" cy="465.73" r="0.55" fill="#555"/>
<circle cx="133.87" cy="471.27" r="0.55" fill="#555"/>
<circle cx="151.72" cy="465.10" r="0.55" fill="#555"/>
<circle cx="131.86" cy="464.80" r="0.55" fill="#555"/>
<circle cx="137.66" cy="503.99" r="0.55" fill="#555"/>
<circle cx="138.69" cy="465.86" r="0.55" fill="#555"/>
<circle cx="129.05" cy="479.44" r="0.55" fill="#555"/>
<circle cx="138.08" cy="513.44" r="0.55" fill="#555"/>
<circle cx="173.23" cy="436.79" r="0.55" fill="#555"/>
<circle cx="129.55" cy="476.37" r="0.55" fill="#555"/>
<circle cx="154.78" cy="461.91" r="0.55" fill="#555"/>
<circle cx="142.02" cy="441.05" r="0.55" fill="#555"/>
<circle cx="129.41" cy="468.15" r="0.55" fill="#555"/>
<circle cx="151.92" cy="460.89" r="0.55" fill="#555"/>
<circle cx="122.47" cy="494.63" r="0.55" fill="#555"/>
<circle cx="144.78" cy="476.32" r="0.55" fill="#555"/>
<circle cx="141.89" cy="477.55" r="0.55" fill="#555"/>
<circle cx="144.63" cy="456.52" r="0.55" fill="#555"/>
<circle cx="133.46" cy="500.01" r="0.55" fill="#555"/>
<circle cx="163.68" cy="461.72" r="0.55" fill="#555"/>
<circle cx="119.39" cy="483.14" r="0.55" fill="#555"/>
<circle cx="169.50" cy="451.72" r="0.55" fill="#555"/>
<circle cx="101.48" cy="473.52" r="0.55" fill="#555"/>
<circle cx="116.26" cy="484.61" r="0.55" fill="#555"/>
<circle cx="181.97" cy="430.51" r="0.55" fill="#555"/>
<circle cx="137.59" cy="509.97" r="0.55" fill="#555"/>
<circle cx="116.03" cy="478.00" r="0.55" fill="#555"/>
<circle cx="118.73" cy="466.81" r="0.55" fill="#555"/>
<circle cx="126.87" cy="506.02" r="0.55" fill="#555"/>
<circle cx="152.99" cy="481.66" r="0.55" fill="#555"/>
<circle cx="126.31" cy="501.49" r="0.55" fill="#555"/>
<circle cx="153.63" cy="454.20" r="0.55" fill="#555"/>
<circle cx="143.54" cy="472.88" r="0.55" fill="#555"/>
<circle cx="133.39" cy="499.39" r="0.55" fill="#555"/>
<circle cx="142.39" cy="448.92" r="0.55" fill="#555"/>
<circle cx="159.58" cy="457.33" r="0.55" fill="#555"/>
<circle cx="137.18" cy="481.57" r="0.55" fill="#555"/>
<circle cx="110.98" cy="515.62" r="0.55" fill="#555"/>
<circle cx="140.34" cy="481.09" r="0.55" fill="#555"/>
<circle cx="145.27" cy="460.22" r="0.55" fill="#555"/>
<circle cx="130.59" cy="511.13" r="0.55" fill="#555"/>
<circle cx="130.96" cy="457.00" r="0.55" fill="#555"/>
<circle cx="153.43" cy="452.75" r="0.55" fill="#555"/>
<circle cx="141.74" cy="484.23" r="0.55" fill="#555"/>
<circle cx="129.74" cy="467.20" r="0.55" fill="#555"/>
<circle cx="155.22" cy="491.42" r="0.55" fill="#555"/>
<circle cx="103.05" cy="497.42" r="0.55" fill="#555"/>
<circle cx="129.42" cy="475.55" r="0.55" fill="#555"/>
<circle cx="153.11" cy="479.10" r="0.55" fill="#555"/>
<circle cx="124.91" cy="453.89" r="0.55" fill="#555"/>
<circle cx="139.96" cy="469.40" r="0.55" fill="#555"/>
<circle cx="141.45" cy="476.00" r="0.55" fill="#555"/>
<circle cx="119.55" cy="496.37" r="0.55" fill="#555"/>
<circle cx="150.99" cy="465.27" r="0.55" fill="#555"/>
<circle cx="138.44" cy="468.65" r="0.55" fill="#555"/>
<circle cx="138.95" cy="470.36" r="0.55" fill="#555"/>
<circle cx="124.80" cy="499.27" r="0.55" fill="#555"/>
<circle cx="147.36" cy="508.33" r="0.55" fill="#555"/>
<circle cx="128.82" cy="490.45" r="0.55" fill="#555"/>
<circle cx="154.37" cy="463.59" r="0.55" fill="#555"/>
<circle cx="129.20" cy="482.09" r="0.55" fill="#555"/>
<circle cx="135.60" cy="494.68" r="0.55" fill="#555"/>
<circle cx="118.71" cy="509.52" r="0.55" fill="#555"/>
<circle cx="146.70" cy="473.00" r="0.55" fill="#555"/>
<circle cx="133.63" cy="464.36" r="0.55" fill="#555"/>
<circle cx="119.08" cy="511.34" r="0.55" fill="#555"/>
<circle cx="148.02" cy="447.64" r="0.55" fill="#555"/>
<circle cx="149.06" cy="474.79" r="0.55" fill="#555"/>
<circle cx="129.26" cy="485.36" r="0.55" fill="#555"/>
<circle cx="118.44" cy="507.33" r="0.55" fill="#555"/>
<circle cx="113.03" cy="496.40" r="0.55" fill="#555"/>
<circle cx="163.09" cy="450.59" r="0.55" fill="#555"/>
<circle cx="149.06" cy="459.48" r="0.55" fill="#555"/>
<circle cx="125.64" cy="486.55" r="0.55" fill="#555"/>
<circle cx="140.15" cy="478.96" r="0.55" fill="#555"/>
<circle cx="130.62" cy="493.78" r="0.55" fill="#555"/>
<circle cx="148.09" cy="460.89" r="0.55" fill="#555"/>
<circle cx="130.86" cy="465.98" r="0.55" fill="#555"/>
<circle cx="149.55" cy="474.62" r="0.55" fill="#555"/>
<circle cx="137.64" cy="471.14" r="0.55" fill="#555"/>
<circle cx="136.39" cy="449.43" r="0.55" fill="#555"/>
<circle cx="122.69" cy="472.36" r="0.55" fill="#555"/>
<circle cx="129.67" cy="465.06" r="0.55" fill="#555"/>
<circle cx="117.17" cy="478.35" r="0.55" fill="#555"/>
<circle cx="160.96" cy="464.25" r="0.55" fill="#555"/>
<circle cx="132.18" cy="497.34" r="0.55" fill="#555"/>
<circle cx="134.77" cy="479.08" r="0.55" fill="#555"/>
<circle cx="138.75" cy="497.83" r="0.55" fill="#555"/>
<circle cx="126.52" cy="488.53" r="0.55" fill="#555"/>
<circle cx="132.99" cy="494.23" r="0.55" fill="#555"/>
<circle cx="168.09" cy="466.78" r="0.55" fill="#555"/>
<circle cx="153.57" cy="453.14" r="0.55" fill="#555"/>
<circle cx="152.75" cy="498.02" r="0.55" fill="#555"/>
<circle cx="137.30" cy="467.15" r="0.55" fill="#555"/>
<circle cx="148.92" cy="471.62" r="0.55" fill="#555"/>
<circle cx="135.40" cy="472.13" r="0.55" fill="#555"/>
<circle cx="135.61" cy="489.27" r="0.55" fill="#555"/>
<circle cx="150.92" cy="446.13" r="0.55" fill="#555"/>
<circle cx="153.40" cy="451.39" r="0.55" fill="#555"/>
<circle cx="147.54" cy="486.30" r="0.55" fill="#555"/>
<circle cx="127.30" cy="469.14" r="0.55" fill="#555"/>
<circle cx="134.89" cy="470.12" r="0.55" fill="#555"/>
<circle cx="131.42" cy="493.60" r="0.55" fill="#555"/>
<circle cx="125.30" cy="474.51" r="0.55" fill="#555"/>
<circle cx="134.95" cy="506.69" r="0.55" fill="#555"/>
<circle cx="133.48" cy="491.93" r="0.55" fill="#555"/>
<circle cx="134.65" cy="474.75" r="0.55" fill="#555"/>
<circle cx="142.95" cy="463.72" r="0.55" fill="#555"/>
<circle cx="127.11" cy="478.87" r="0.55" fill="#555"/>
<circle cx="119.18" cy="471.71" r="0.55" fill="#555"/>
<circle cx="141.39" cy="487.36" r="0.55" fill="#555"/>
<circle cx="138.70" cy="476.54" r="0.55" fill="#555"/>
<circle cx="132.07" cy="503.85" r="0.55" fill="#555"/>
<circle cx="140.16" cy="467.53" r="0.55" fill="#555"/>
<circle cx="141.32" cy="491.39" r="0.55" fill="#555"/>
<circle cx="129.85" cy="483.54" r="0.55" fill="#555"/>
<circle cx="147.78" cy="441.79" r="0.55" fill="#555"/>
<circle cx="135.73" cy="480.17" r="0.55" fill="#555"/>
<circle cx="158.54" cy="488.85" r="0.55" fill="#555"/>
<circle cx="132.21" cy="461.61" r="0.55" fill="#555"/>
<circle cx="133.47" cy="479.90" r="0.55" fill="#555"/>
<circle cx="129.74" cy="509.92" r="0.55" fill="#555"/>
<circle cx="153.71" cy="466.25" r="0.55" fill="#555"/>
<circle cx="137.87" cy="465.78" r="0.55" fill="#555"/>
<circle cx="137.49" cy="451.81" r="0.55" fill="#555"/>
<circle cx="126.87" cy="513.10" r="0.55" fill="#555"/>
<circle cx="125.65" cy="498.10" r="0.55" fill="#555"/>
<circle cx="161.25" cy="464.25" r="0.55" fill="#555"/>
<circle cx="168.71" cy="457.36" r="0.55" fill="#555"/>
<circle cx="138.40" cy="490.46" r="0.55" fill="#555"/>
<circle cx="125.95" cy="490.86" r="0.55" fill="#555"/>
<circle cx="134.52" cy="494.03" r="0.55" fill="#555"/>
<circle cx="132.74" cy="487.93" r="0.55" fill="#555"/>
<circle cx="154.35" cy="463.55" r="0.55" fill="#555"/>
<circle cx="120.37" cy="481.05" r="0.55" fill="#555"/>
<circle cx="139.40" cy="485.94" r="0.55" fill="#555"/>
<circle cx="120.67" cy="501.28" r="0.55" fill="#555"/>
<circle cx="157.70" cy="462.98" r="0.55" fill="#555"/>
<circle cx="113.97" cy="485.68" r="0.55" fill="#555"/>
<circle cx="120.95" cy="502.76" r="0.55" fill="#555"/>
<circle cx="152.31" cy="455.80" r="0.55" fill="#555"/>
<circle cx="134.35" cy="471.49" r="0.55" fill="#555"/>
<circle cx="168.68" cy="475.00" r="0.55" fill="#555"/>
<circle cx="154.86" cy="469.10" r="0.55" fill="#555"/>
<circle cx="142.13" cy="469.31" r="0.55" fill="#555"/>
<circle cx="117.70" cy="502.91" r="0.55" fill="#555"/>
<circle cx="142.56" cy="495.80" r="0.55" fill="#555"/>
<circle cx="120.97" cy="519.74" r="0.55" fill="#555"/>
<circle cx="59.82" cy="556.98" r="0.55" fill="#555"/>
<circle cx="58.03" cy="530.38" r="0.55" fill="#555"/>
<circle cx="88.60" cy="529.05" r="0.55" fill="#555"/>
<circle cx="200.11" cy="423.98" r="0.55" fill="#555"/>
<circle cx="189.32" cy="421.32" r="0.55" fill="#555"/>
<circle cx="178.52" cy="431.96" r="0.55" fill="#555"/>
<circle cx="129.97" cy="469.20" r="0.55" fill="#555"/>
<circle cx="59.82" cy="530.38" r="0.55" fill="#555"/>
<circle cx="61.62" cy="556.98" r="0.55" fill="#555"/>
<circle cx="88.60" cy="529.05" r="0.55" fill="#555"/>
<circle cx="92.20" cy="531.71" r="0.55" fill="#555"/>
<circle cx="95.79" cy="525.06" r="0.55" fill="#555"/>
<circle cx="171.33" cy="422.65" r="0.55" fill="#555"/>
<circle cx="160.54" cy="423.98" r="0.55" fill="#555"/>
<circle cx="200.11" cy="451.91" r="0.55" fill="#555"/>
<circle cx="185.72" cy="430.63" r="0.55" fill="#555"/>
<circle cx="176.73" cy="431.96" r="0.55" fill="#555"/>
<text x="63.90" y="428.30" font-size="7.4" fill="#111">p−value = 1e−11</text>
<text x="63.90" y="436.60" font-size="7.4" fill="#111">R = 0.48</text>
<text x="130.00" y="587.30" font-size="8.3" fill="#111" text-anchor="middle">log2(RRM1 TPM)</text>
<text x="33.40" y="489.00" font-size="8.3" fill="#111" text-anchor="middle" transform="rotate(-90 33.40 489.00)">log2(ENO1 TPM)</text>
<rect x="266.30" y="421.50" width="150.90" height="143.70" fill="none" stroke="#555" stroke-width="0.7"/>
<line x1="290.40" y1="565.20" x2="290.40" y2="567.60" stroke="#555" stroke-width="0.5"/>
<text x="290.40" y="578.10" font-size="5.3" fill="#333" text-anchor="middle">3</text>
<line x1="314.47" y1="565.20" x2="314.47" y2="567.60" stroke="#555" stroke-width="0.5"/>
<text x="314.47" y="578.10" font-size="5.3" fill="#333" text-anchor="middle">4</text>
<line x1="338.54" y1="565.20" x2="338.54" y2="567.60" stroke="#555" stroke-width="0.5"/>
<text x="338.54" y="578.10" font-size="5.3" fill="#333" text-anchor="middle">5</text>
<line x1="362.61" y1="565.20" x2="362.61" y2="567.60" stroke="#555" stroke-width="0.5"/>
<text x="362.61" y="578.10" font-size="5.3" fill="#333" text-anchor="middle">6</text>
<line x1="386.68" y1="565.20" x2="386.68" y2="567.60" stroke="#555" stroke-width="0.5"/>
<text x="386.68" y="578.10" font-size="5.3" fill="#333" text-anchor="middle">7</text>
<line x1="410.75" y1="565.20" x2="410.75" y2="567.60" stroke="#555" stroke-width="0.5"/>
<text x="410.75" y="578.10" font-size="5.3" fill="#333" text-anchor="middle">8</text>
<line x1="263.90" y1="532.80" x2="266.30" y2="532.80" stroke="#555" stroke-width="0.5"/>
<text x="258.10" y="532.80" font-size="5.3" fill="#333" text-anchor="middle" transform="rotate(-90 258.10 532.80)">3</text>
<line x1="263.90" y1="498.50" x2="266.30" y2="498.50" stroke="#555" stroke-width="0.5"/>
<text x="258.10" y="498.50" font-size="5.3" fill="#333" text-anchor="middle" transform="rotate(-90 258.10 498.50)">4</text>
<line x1="263.90" y1="464.20" x2="266.30" y2="464.20" stroke="#555" stroke-width="0.5"/>
<text x="258.10" y="464.20" font-size="5.3" fill="#333" text-anchor="middle" transform="rotate(-90 258.10 464.20)">5</text>
<line x1="263.90" y1="429.90" x2="266.30" y2="429.90" stroke="#555" stroke-width="0.5"/>
<text x="258.10" y="429.90" font-size="5.3" fill="#333" text-anchor="middle" transform="rotate(-90 258.10 429.90)">6</text>
<circle cx="326.93" cy="484.11" r="0.55" fill="#555"/>
<circle cx="338.56" cy="504.79" r="0.55" fill="#555"/>
<circle cx="354.79" cy="469.33" r="0.55" fill="#555"/>
<circle cx="325.80" cy="479.93" r="0.55" fill="#555"/>
<circle cx="372.07" cy="467.69" r="0.55" fill="#555"/>
<circle cx="342.48" cy="451.91" r="0.55" fill="#555"/>
<circle cx="334.12" cy="503.06" r="0.55" fill="#555"/>
<circle cx="349.34" cy="489.64" r="0.55" fill="#555"/>
<circle cx="351.43" cy="475.38" r="0.55" fill="#555"/>
<circle cx="350.40" cy="508.77" r="0.55" fill="#555"/>
<circle cx="323.73" cy="492.04" r="0.55" fill="#555"/>
<circle cx="347.00" cy="495.87" r="0.55" fill="#555"/>
<circle cx="400.98" cy="476.15" r="0.55" fill="#555"/>
<circle cx="325.30" cy="493.31" r="0.55" fill="#555"/>
<circle cx="345.45" cy="480.79" r="0.55" fill="#555"/>
<circle cx="330.50" cy="480.96" r="0.55" fill="#555"/>
<circle cx="377.60" cy="486.57" r="0.55" fill="#555"/>
<circle cx="347.00" cy="472.72" r="0.55" fill="#555"/>
<circle cx="363.31" cy="484.11" r="0.55" fill="#555"/>
<circle cx="357.18" cy="481.69" r="0.55" fill="#555"/>
<circle cx="359.53" cy="476.89" r="0.55" fill="#555"/>
<circle cx="340.79" cy="479.18" r="0.55" fill="#555"/>
<circle cx="351.60" cy="481.82" r="0.55" fill="#555"/>
<circle cx="337.17" cy="500.84" r="0.55" fill="#555"/>
<circle cx="356.63" cy="463.47" r="0.55" fill="#555"/>
<circle cx="364.20" cy="471.89" r="0.55" fill="#555"/>
<circle cx="349.97" cy="474.59" r="0.55" fill="#555"/>
<circle cx="341.60" cy="495.74" r="0.55" fill="#555"/>
<circle cx="350.97" cy="471.74" r="0.55" fill="#555"/>
<circle cx="328.38" cy="456.34" r="0.55" fill="#555"/>
<circle cx="349.86" cy="474.87" r="0.55" fill="#555"/>
<circle cx="332.49" cy="489.63" r="0.55" fill="#555"/>
<circle cx="365.23" cy="472.61" r="0.55" fill="#555"/>
<circle cx="369.14" cy="491.55" r="0.55" fill="#555"/>
<circle cx="365.17" cy="486.02" r="0.55" fill="#555"/>
<circle cx="332.13" cy="485.03" r="0.55" fill="#555"/>
<circle cx="372.31" cy="494.23" r="0.55" fill="#555"/>
<circle cx="357.58" cy="485.62" r="0.55" fill="#555"/>
<circle cx="360.16" cy="452.10" r="0.55" fill="#555"/>
<circle cx="331.95" cy="493.75" r="0.55" fill="#555"/>
<circle cx="387.70" cy="469.69" r="0.55" fill="#555"/>
<circle cx="372.46" cy="481.86" r="0.55" fill="#555"/>
<circle cx="335.75" cy="493.89" r="0.55" fill="#555"/>
<circle cx="370.28" cy="472.42" r="0.55" fill="#555"/>
<circle cx="317.15" cy="500.50" r="0.55" fill="#555"/>
<circle cx="338.23" cy="479.23" r="0.55" fill="#555"/>
<circle cx="359.86" cy="481.99" r="0.55" fill="#555"/>
<circle cx="348.90" cy="479.37" r="0.55" fill="#555"/>
<circle cx="339.15" cy="490.02" r="0.55" fill="#555"/>
<circle cx="373.22" cy="461.20" r="0.55" fill="#555"/>
<circle cx="339.13" cy="503.44" r="0.55" fill="#555"/>
<circle cx="350.34" cy="455.66" r="0.55" fill="#555"/>
<circle cx="334.23" cy="520.52" r="0.55" fill="#555"/>
<circle cx="350.06" cy="506.42" r="0.55" fill="#555"/>
<circle cx="320.64" cy="443.76" r="0.55" fill="#555"/>
<circle cx="356.33" cy="486.08" r="0.55" fill="#555"/>
<circle cx="344.90" cy="506.64" r="0.55" fill="#555"/>
<circle cx="311.96" cy="504.06" r="0.55" fill="#555"/>
<circle cx="373.87" cy="496.30" r="0.55" fill="#555"/>
<circle cx="361.36" cy="471.40" r="0.55" fill="#555"/>
<circle cx="335.60" cy="496.84" r="0.55" fill="#555"/>
<circle cx="335.83" cy="470.79" r="0.55" fill="#555"/>
<circle cx="380.63" cy="480.41" r="0.55" fill="#555"/>
<circle cx="330.88" cy="490.09" r="0.55" fill="#555"/>
<circle cx="317.87" cy="481.51" r="0.55" fill="#555"/>
<circle cx="360.66" cy="465.12" r="0.55" fill="#555"/>
<circle cx="335.21" cy="486.48" r="0.55" fill="#555"/>
<circle cx="328.77" cy="511.46" r="0.55" fill="#555"/>
<circle cx="346.87" cy="483.47" r="0.55" fill="#555"/>
<circle cx="370.35" cy="478.76" r="0.55" fill="#555"/>
<circle cx="366.91" cy="492.76" r="0.55" fill="#555"/>
<circle cx="359.28" cy="492.40" r="0.55" fill="#555"/>
<circle cx="352.49" cy="470.98" r="0.55" fill="#555"/>
<circle cx="312.91" cy="482.12" r="0.55" fill="#555"/>
<circle cx="334.59" cy="493.57" r="0.55" fill="#555"/>
<circle cx="361.44" cy="469.27" r="0.55" fill="#555"/>
<circle cx="337.30" cy="519.02" r="0.55" fill="#555"/>
<circle cx="356.79" cy="493.87" r="0.55" fill="#555"/>
<circle cx="350.75" cy="471.29" r="0.55" fill="#555"/>
<circle cx="333.40" cy="498.18" r="0.55" fill="#555"/>
<circle cx="364.82" cy="483.83" r="0.55" fill="#555"/>
<circle cx="348.84" cy="482.40" r="0.55" fill="#555"/>
<circle cx="341.49" cy="503.28" r="0.55" fill="#555"/>
<circle cx="373.98" cy="473.31" r="0.55" fill="#555"/>
<circle cx="343.45" cy="485.28" r="0.55" fill="#555"/>
<circle cx="336.39" cy="484.79" r="0.55" fill="#555"/>
<circle cx="334.71" cy="498.28" r="0.55" fill="#555"/>
<circle cx="329.56" cy="476.77" r="0.55" fill="#555"/>
<circle cx="342.60" cy="494.45" r="0.55" fill="#555"/>
<circle cx="348.56" cy="470.08" r="0.55" fill="#555"/>
<circle cx="344.67" cy="494.08" r="0.55" fill="#555"/>
<circle cx="361.89" cy="487.98" r="0.55" fill="#555"/>
<circle cx="326.27" cy="504.09" r="0.55" fill="#555"/>
<circle cx="364.95" cy="477.40" r="0.55" fill="#555"/>
<circle cx="370.85" cy="489.86" r="0.55" fill="#555"/>
<circle cx="360.07" cy="503.73" r="0.55" fill="#555"/>
<circle cx="331.78" cy="476.14" r="0.55" fill="#555"/>
<circle cx="326.87" cy="475.14" r="0.55" fill="#555"/>
<circle cx="340.52" cy="494.03" r="0.55" fill="#555"/>
<circle cx="317.20" cy="504.35" r="0.55" fill="#555"/>
<circle cx="354.99" cy="456.04" r="0.55" fill="#555"/>
<circle cx="341.46" cy="509.51" r="0.55" fill="#555"/>
<circle cx="331.59" cy="461.77" r="0.55" fill="#555"/>
<circle cx="335.04" cy="475.15" r="0.55" fill="#555"/>
<circle cx="320.36" cy="497.48" r="0.55" fill="#555"/>
<circle cx="347.27" cy="483.64" r="0.55" fill="#555"/>
<circle cx="350.07" cy="492.73" r="0.55" fill="#555"/>
<circle cx="371.77" cy="476.07" r="0.55" fill="#555"/>
<circle cx="320.86" cy="492.50" r="0.55" fill="#555"/>
<circle cx="325.83" cy="474.68" r="0.55" fill="#555"/>
<circle cx="353.56" cy="486.03" r="0.55" fill="#555"/>
<circle cx="366.66" cy="487.23" r="0.55" fill="#555"/>
<circle cx="334.17" cy="500.29" r="0.55" fill="#555"/>
<circle cx="329.52" cy="493.64" r="0.55" fill="#555"/>
<circle cx="366.78" cy="505.56" r="0.55" fill="#555"/>
<circle cx="377.80" cy="463.79" r="0.55" fill="#555"/>
<circle cx="337.13" cy="491.25" r="0.55" fill="#555"/>
<circle cx="342.63" cy="488.77" r="0.55" fill="#555"/>
<circle cx="366.32" cy="484.98" r="0.55" fill="#555"/>
<circle cx="364.17" cy="496.64" r="0.55" fill="#555"/>
<circle cx="344.77" cy="490.47" r="0.55" fill="#555"/>
<circle cx="342.89" cy="457.00" r="0.55" fill="#555"/>
<circle cx="344.73" cy="470.84" r="0.55" fill="#555"/>
<circle cx="359.46" cy="471.63" r="0.55" fill="#555"/>
<circle cx="332.82" cy="486.36" r="0.55" fill="#555"/>
<circle cx="368.15" cy="475.28" r="0.55" fill="#555"/>
<circle cx="347.61" cy="488.17" r="0.55" fill="#555"/>
<circle cx="358.00" cy="487.98" r="0.55" fill="#555"/>
<circle cx="332.97" cy="473.37" r="0.55" fill="#555"/>
<circle cx="363.20" cy="471.01" r="0.55" fill="#555"/>
<circle cx="346.93" cy="476.59" r="0.55" fill="#555"/>
<circle cx="343.64" cy="495.89" r="0.55" fill="#555"/>
<circle cx="337.47" cy="488.66" r="0.55" fill="#555"/>
<circle cx="369.14" cy="491.97" r="0.55" fill="#555"/>
<circle cx="360.34" cy="497.80" r="0.55" fill="#555"/>
<circle cx="337.63" cy="488.60" r="0.55" fill="#555"/>
<circle cx="358.64" cy="490.00" r="0.55" fill="#555"/>
<circle cx="380.96" cy="469.67" r="0.55" fill="#555"/>
<circle cx="353.64" cy="488.89" r="0.55" fill="#555"/>
<circle cx="373.26" cy="480.98" r="0.55" fill="#555"/>
<circle cx="355.42" cy="496.08" r="0.55" fill="#555"/>
<circle cx="338.74" cy="503.64" r="0.55" fill="#555"/>
<circle cx="357.86" cy="482.46" r="0.55" fill="#555"/>
<circle cx="314.13" cy="485.03" r="0.55" fill="#555"/>
<circle cx="319.40" cy="491.35" r="0.55" fill="#555"/>
<circle cx="346.53" cy="483.63" r="0.55" fill="#555"/>
<circle cx="350.52" cy="482.52" r="0.55" fill="#555"/>
<circle cx="340.69" cy="493.46" r="0.55" fill="#555"/>
<circle cx="351.38" cy="476.37" r="0.55" fill="#555"/>
<circle cx="304.92" cy="487.85" r="0.55" fill="#555"/>
<circle cx="384.22" cy="466.11" r="0.55" fill="#555"/>
<circle cx="353.54" cy="491.22" r="0.55" fill="#555"/>
<circle cx="329.69" cy="490.01" r="0.55" fill="#555"/>
<circle cx="345.38" cy="493.57" r="0.55" fill="#555"/>
<circle cx="354.50" cy="470.71" r="0.55" fill="#555"/>
<circle cx="330.32" cy="485.82" r="0.55" fill="#555"/>
<circle cx="344.09" cy="486.18" r="0.55" fill="#555"/>
<circle cx="328.65" cy="496.31" r="0.55" fill="#555"/>
<circle cx="335.51" cy="497.47" r="0.55" fill="#555"/>
<circle cx="335.61" cy="463.52" r="0.55" fill="#555"/>
<circle cx="345.09" cy="456.41" r="0.55" fill="#555"/>
<circle cx="318.58" cy="485.31" r="0.55" fill="#555"/>
<circle cx="373.79" cy="497.19" r="0.55" fill="#555"/>
<circle cx="320.68" cy="489.01" r="0.55" fill="#555"/>
<circle cx="345.89" cy="490.71" r="0.55" fill="#555"/>
<circle cx="362.40" cy="470.11" r="0.55" fill="#555"/>
<circle cx="332.23" cy="502.50" r="0.55" fill="#555"/>
<circle cx="386.10" cy="484.36" r="0.55" fill="#555"/>
<circle cx="335.55" cy="502.22" r="0.55" fill="#555"/>
<circle cx="343.61" cy="466.90" r="0.55" fill="#555"/>
<circle cx="338.61" cy="508.61" r="0.55" fill="#555"/>
<circle cx="346.53" cy="501.95" r="0.55" fill="#555"/>
<circle cx="346.27" cy="472.05" r="0.55" fill="#555"/>
<circle cx="350.33" cy="489.17" r="0.55" fill="#555"/>
<circle cx="346.77" cy="456.44" r="0.55" fill="#555"/>
<circle cx="340.94" cy="469.61" r="0.55" fill="#555"/>
<circle cx="370.29" cy="481.75" r="0.55" fill="#555"/>
<circle cx="340.90" cy="505.05" r="0.55" fill="#555"/>
<circle cx="271.14" cy="481.35" r="0.55" fill="#555"/>
<circle cx="278.36" cy="501.93" r="0.55" fill="#555"/>
<circle cx="297.62" cy="560.24" r="0.55" fill="#555"/>
<circle cx="318.08" cy="561.96" r="0.55" fill="#555"/>
<circle cx="296.42" cy="532.80" r="0.55" fill="#555"/>
<circle cx="352.98" cy="426.47" r="0.55" fill="#555"/>
<circle cx="367.42" cy="436.76" r="0.55" fill="#555"/>
<circle cx="410.75" cy="447.05" r="0.55" fill="#555"/>
<circle cx="396.31" cy="493.35" r="0.55" fill="#555"/>
<text x="275.20" y="431.70" font-size="7.4" fill="#111">p−value = 0.0038</text>
<text x="275.20" y="440.40" font-size="7.4" fill="#111">R = 0.22</text>
<text x="341.90" y="591.20" font-size="8.3" fill="#111" text-anchor="middle">log2(MYC TPM)</text>
<text x="246.90" y="487.30" font-size="8.3" fill="#111" text-anchor="middle" transform="rotate(-90 246.90 487.30)">log2(RRM1 TPM)</text>
<rect x="498.70" y="414.30" width="150.80" height="145.20" fill="none" stroke="#555" stroke-width="0.7"/>
<line x1="522.50" y1="559.50" x2="522.50" y2="561.90" stroke="#555" stroke-width="0.5"/>
<text x="522.50" y="571.60" font-size="5.3" fill="#333" text-anchor="middle">3</text>
<line x1="546.70" y1="559.50" x2="546.70" y2="561.90" stroke="#555" stroke-width="0.5"/>
<text x="546.70" y="571.60" font-size="5.3" fill="#333" text-anchor="middle">4</text>
<line x1="570.90" y1="559.50" x2="570.90" y2="561.90" stroke="#555" stroke-width="0.5"/>
<text x="570.90" y="571.60" font-size="5.3" fill="#333" text-anchor="middle">5</text>
<line x1="595.10" y1="559.50" x2="595.10" y2="561.90" stroke="#555" stroke-width="0.5"/>
<text x="595.10" y="571.60" font-size="5.3" fill="#333" text-anchor="middle">6</text>
<line x1="619.30" y1="559.50" x2="619.30" y2="561.90" stroke="#555" stroke-width="0.5"/>
<text x="619.30" y="571.60" font-size="5.3" fill="#333" text-anchor="middle">7</text>
<line x1="643.50" y1="559.50" x2="643.50" y2="561.90" stroke="#555" stroke-width="0.5"/>
<text x="643.50" y="571.60" font-size="5.3" fill="#333" text-anchor="middle">8</text>
<line x1="496.30" y1="559.40" x2="498.70" y2="559.40" stroke="#555" stroke-width="0.5"/>
<text x="490.50" y="559.40" font-size="5.3" fill="#333" text-anchor="middle" transform="rotate(-90 490.50 559.40)">6</text>
<line x1="496.30" y1="532.95" x2="498.70" y2="532.95" stroke="#555" stroke-width="0.5"/>
<text x="490.50" y="532.95" font-size="5.3" fill="#333" text-anchor="middle" transform="rotate(-90 490.50 532.95)">7</text>
<line x1="496.30" y1="506.50" x2="498.70" y2="506.50" stroke="#555" stroke-width="0.5"/>
<text x="490.50" y="506.50" font-size="5.3" fill="#333" text-anchor="middle" transform="rotate(-90 490.50 506.50)">8</text>
<line x1="496.30" y1="480.05" x2="498.70" y2="480.05" stroke="#555" stroke-width="0.5"/>
<text x="490.50" y="480.05" font-size="5.3" fill="#333" text-anchor="middle" transform="rotate(-90 490.50 480.05)">9</text>
<line x1="496.30" y1="453.60" x2="498.70" y2="453.60" stroke="#555" stroke-width="0.5"/>
<text x="490.50" y="453.60" font-size="5.3" fill="#333" text-anchor="middle" transform="rotate(-90 490.50 453.60)">10</text>
<line x1="496.30" y1="427.15" x2="498.70" y2="427.15" stroke="#555" stroke-width="0.5"/>
<text x="490.50" y="427.15" font-size="5.3" fill="#333" text-anchor="middle" transform="rotate(-90 490.50 427.15)">11</text>
<circle cx="559.23" cy="455.38" r="0.55" fill="#555"/>
<circle cx="570.92" cy="485.40" r="0.55" fill="#555"/>
<circle cx="587.24" cy="481.83" r="0.55" fill="#555"/>
<circle cx="558.09" cy="461.34" r="0.55" fill="#555"/>
<circle cx="604.61" cy="462.19" r="0.55" fill="#555"/>
<circle cx="574.86" cy="456.04" r="0.55" fill="#555"/>
<circle cx="566.45" cy="481.78" r="0.55" fill="#555"/>
<circle cx="581.76" cy="475.68" r="0.55" fill="#555"/>
<circle cx="583.86" cy="447.77" r="0.55" fill="#555"/>
<circle cx="582.82" cy="475.06" r="0.55" fill="#555"/>
<circle cx="556.01" cy="500.85" r="0.55" fill="#555"/>
<circle cx="579.40" cy="475.09" r="0.55" fill="#555"/>
<circle cx="633.68" cy="451.39" r="0.55" fill="#555"/>
<circle cx="557.59" cy="466.60" r="0.55" fill="#555"/>
<circle cx="577.85" cy="467.54" r="0.55" fill="#555"/>
<circle cx="562.81" cy="482.96" r="0.55" fill="#555"/>
<circle cx="610.17" cy="460.92" r="0.55" fill="#555"/>
<circle cx="579.41" cy="474.04" r="0.55" fill="#555"/>
<circle cx="595.81" cy="450.23" r="0.55" fill="#555"/>
<circle cx="589.64" cy="482.34" r="0.55" fill="#555"/>
<circle cx="592.00" cy="439.60" r="0.55" fill="#555"/>
<circle cx="573.17" cy="460.01" r="0.55" fill="#555"/>
<circle cx="584.03" cy="466.77" r="0.55" fill="#555"/>
<circle cx="569.52" cy="488.39" r="0.55" fill="#555"/>
<circle cx="589.09" cy="442.20" r="0.55" fill="#555"/>
<circle cx="596.70" cy="451.85" r="0.55" fill="#555"/>
<circle cx="582.39" cy="436.22" r="0.55" fill="#555"/>
<circle cx="573.98" cy="446.51" r="0.55" fill="#555"/>
<circle cx="583.40" cy="449.16" r="0.55" fill="#555"/>
<circle cx="560.68" cy="425.27" r="0.55" fill="#555"/>
<circle cx="582.28" cy="463.37" r="0.55" fill="#555"/>
<circle cx="564.82" cy="468.88" r="0.55" fill="#555"/>
<circle cx="597.73" cy="462.75" r="0.55" fill="#555"/>
<circle cx="601.66" cy="462.45" r="0.55" fill="#555"/>
<circle cx="597.67" cy="501.42" r="0.55" fill="#555"/>
<circle cx="564.46" cy="463.50" r="0.55" fill="#555"/>
<circle cx="604.85" cy="477.01" r="0.55" fill="#555"/>
<circle cx="590.05" cy="510.82" r="0.55" fill="#555"/>
<circle cx="592.64" cy="434.60" r="0.55" fill="#555"/>
<circle cx="564.27" cy="473.95" r="0.55" fill="#555"/>
<circle cx="620.33" cy="459.58" r="0.55" fill="#555"/>
<circle cx="605.00" cy="438.84" r="0.55" fill="#555"/>
<circle cx="568.10" cy="465.78" r="0.55" fill="#555"/>
<circle cx="602.81" cy="458.56" r="0.55" fill="#555"/>
<circle cx="549.39" cy="492.11" r="0.55" fill="#555"/>
<circle cx="570.59" cy="473.91" r="0.55" fill="#555"/>
<circle cx="592.33" cy="475.13" r="0.55" fill="#555"/>
<circle cx="581.31" cy="454.22" r="0.55" fill="#555"/>
<circle cx="571.51" cy="497.46" r="0.55" fill="#555"/>
<circle cx="605.76" cy="459.39" r="0.55" fill="#555"/>
<circle cx="571.50" cy="480.69" r="0.55" fill="#555"/>
<circle cx="582.76" cy="449.44" r="0.55" fill="#555"/>
<circle cx="566.57" cy="471.12" r="0.55" fill="#555"/>
<circle cx="582.49" cy="482.15" r="0.55" fill="#555"/>
<circle cx="552.90" cy="428.36" r="0.55" fill="#555"/>
<circle cx="588.79" cy="507.36" r="0.55" fill="#555"/>
<circle cx="577.29" cy="475.58" r="0.55" fill="#555"/>
<circle cx="544.17" cy="464.45" r="0.55" fill="#555"/>
<circle cx="606.42" cy="503.44" r="0.55" fill="#555"/>
<circle cx="593.84" cy="479.22" r="0.55" fill="#555"/>
<circle cx="567.94" cy="498.93" r="0.55" fill="#555"/>
<circle cx="568.18" cy="451.90" r="0.55" fill="#555"/>
<circle cx="613.21" cy="470.48" r="0.55" fill="#555"/>
<circle cx="563.20" cy="496.85" r="0.55" fill="#555"/>
<circle cx="550.12" cy="446.66" r="0.55" fill="#555"/>
<circle cx="593.14" cy="455.02" r="0.55" fill="#555"/>
<circle cx="567.55" cy="479.12" r="0.55" fill="#555"/>
<circle cx="561.08" cy="512.98" r="0.55" fill="#555"/>
<circle cx="579.28" cy="478.65" r="0.55" fill="#555"/>
<circle cx="602.89" cy="457.90" r="0.55" fill="#555"/>
<circle cx="599.42" cy="508.52" r="0.55" fill="#555"/>
<circle cx="591.75" cy="454.70" r="0.55" fill="#555"/>
<circle cx="584.93" cy="450.46" r="0.55" fill="#555"/>
<circle cx="545.13" cy="481.77" r="0.55" fill="#555"/>
<circle cx="566.93" cy="464.83" r="0.55" fill="#555"/>
<circle cx="593.92" cy="488.92" r="0.55" fill="#555"/>
<circle cx="569.65" cy="494.89" r="0.55" fill="#555"/>
<circle cx="589.25" cy="473.14" r="0.55" fill="#555"/>
<circle cx="583.18" cy="476.67" r="0.55" fill="#555"/>
<circle cx="565.73" cy="451.60" r="0.55" fill="#555"/>
<circle cx="597.32" cy="467.03" r="0.55" fill="#555"/>
<circle cx="581.25" cy="473.59" r="0.55" fill="#555"/>
<circle cx="573.87" cy="493.84" r="0.55" fill="#555"/>
<circle cx="606.53" cy="462.92" r="0.55" fill="#555"/>
<circle cx="575.83" cy="466.28" r="0.55" fill="#555"/>
<circle cx="568.74" cy="467.98" r="0.55" fill="#555"/>
<circle cx="567.05" cy="496.72" r="0.55" fill="#555"/>
<circle cx="561.87" cy="505.74" r="0.55" fill="#555"/>
<circle cx="574.98" cy="487.96" r="0.55" fill="#555"/>
<circle cx="580.98" cy="461.25" r="0.55" fill="#555"/>
<circle cx="577.06" cy="479.64" r="0.55" fill="#555"/>
<circle cx="594.38" cy="492.16" r="0.55" fill="#555"/>
<circle cx="558.57" cy="506.92" r="0.55" fill="#555"/>
<circle cx="597.46" cy="470.60" r="0.55" fill="#555"/>
<circle cx="603.39" cy="462.01" r="0.55" fill="#555"/>
<circle cx="592.55" cy="508.73" r="0.55" fill="#555"/>
<circle cx="564.11" cy="445.38" r="0.55" fill="#555"/>
<circle cx="559.17" cy="472.38" r="0.55" fill="#555"/>
<circle cx="572.90" cy="482.89" r="0.55" fill="#555"/>
<circle cx="549.45" cy="504.74" r="0.55" fill="#555"/>
<circle cx="573.83" cy="493.87" r="0.55" fill="#555"/>
<circle cx="563.91" cy="448.32" r="0.55" fill="#555"/>
<circle cx="567.38" cy="457.16" r="0.55" fill="#555"/>
<circle cx="552.62" cy="484.08" r="0.55" fill="#555"/>
<circle cx="579.68" cy="476.53" r="0.55" fill="#555"/>
<circle cx="582.49" cy="491.27" r="0.55" fill="#555"/>
<circle cx="604.31" cy="458.56" r="0.55" fill="#555"/>
<circle cx="553.12" cy="463.62" r="0.55" fill="#555"/>
<circle cx="558.12" cy="472.22" r="0.55" fill="#555"/>
<circle cx="586.00" cy="468.75" r="0.55" fill="#555"/>
<circle cx="599.17" cy="447.17" r="0.55" fill="#555"/>
<circle cx="566.50" cy="469.96" r="0.55" fill="#555"/>
<circle cx="561.83" cy="462.71" r="0.55" fill="#555"/>
<circle cx="599.29" cy="475.92" r="0.55" fill="#555"/>
<circle cx="610.37" cy="461.91" r="0.55" fill="#555"/>
<circle cx="569.49" cy="494.81" r="0.55" fill="#555"/>
<circle cx="575.02" cy="476.65" r="0.55" fill="#555"/>
<circle cx="598.83" cy="495.29" r="0.55" fill="#555"/>
<circle cx="596.66" cy="486.05" r="0.55" fill="#555"/>
<circle cx="577.17" cy="491.72" r="0.55" fill="#555"/>
<circle cx="575.27" cy="464.41" r="0.55" fill="#555"/>
<circle cx="577.13" cy="450.85" r="0.55" fill="#555"/>
<circle cx="591.93" cy="495.48" r="0.55" fill="#555"/>
<circle cx="565.15" cy="464.79" r="0.55" fill="#555"/>
<circle cx="600.67" cy="469.23" r="0.55" fill="#555"/>
<circle cx="580.02" cy="469.74" r="0.55" fill="#555"/>
<circle cx="590.47" cy="486.78" r="0.55" fill="#555"/>
<circle cx="565.30" cy="443.88" r="0.55" fill="#555"/>
<circle cx="595.70" cy="449.12" r="0.55" fill="#555"/>
<circle cx="579.33" cy="483.83" r="0.55" fill="#555"/>
<circle cx="576.03" cy="466.77" r="0.55" fill="#555"/>
<circle cx="569.83" cy="467.74" r="0.55" fill="#555"/>
<circle cx="601.66" cy="491.09" r="0.55" fill="#555"/>
<circle cx="592.82" cy="472.10" r="0.55" fill="#555"/>
<circle cx="569.99" cy="504.10" r="0.55" fill="#555"/>
<circle cx="591.11" cy="489.42" r="0.55" fill="#555"/>
<circle cx="586.08" cy="472.34" r="0.55" fill="#555"/>
<circle cx="605.81" cy="461.38" r="0.55" fill="#555"/>
<circle cx="587.87" cy="476.44" r="0.55" fill="#555"/>
<circle cx="571.10" cy="469.32" r="0.55" fill="#555"/>
<circle cx="590.32" cy="484.88" r="0.55" fill="#555"/>
<circle cx="546.36" cy="474.13" r="0.55" fill="#555"/>
<circle cx="551.66" cy="501.28" r="0.55" fill="#555"/>
<circle cx="578.93" cy="465.17" r="0.55" fill="#555"/>
<circle cx="582.94" cy="488.89" r="0.55" fill="#555"/>
<circle cx="573.06" cy="481.09" r="0.55" fill="#555"/>
<circle cx="583.81" cy="439.57" r="0.55" fill="#555"/>
<circle cx="537.10" cy="477.73" r="0.55" fill="#555"/>
<circle cx="616.83" cy="486.37" r="0.55" fill="#555"/>
<circle cx="585.98" cy="459.28" r="0.55" fill="#555"/>
<circle cx="562.00" cy="477.46" r="0.55" fill="#555"/>
<circle cx="577.78" cy="507.31" r="0.55" fill="#555"/>
<circle cx="586.95" cy="463.89" r="0.55" fill="#555"/>
<circle cx="562.63" cy="463.42" r="0.55" fill="#555"/>
<circle cx="576.48" cy="449.54" r="0.55" fill="#555"/>
<circle cx="560.96" cy="510.47" r="0.55" fill="#555"/>
<circle cx="567.85" cy="495.56" r="0.55" fill="#555"/>
<circle cx="567.95" cy="461.90" r="0.55" fill="#555"/>
<circle cx="577.49" cy="455.05" r="0.55" fill="#555"/>
<circle cx="550.84" cy="487.96" r="0.55" fill="#555"/>
<circle cx="606.34" cy="488.37" r="0.55" fill="#555"/>
<circle cx="552.94" cy="491.51" r="0.55" fill="#555"/>
<circle cx="578.29" cy="485.44" r="0.55" fill="#555"/>
<circle cx="594.89" cy="461.20" r="0.55" fill="#555"/>
<circle cx="564.56" cy="478.61" r="0.55" fill="#555"/>
<circle cx="618.71" cy="483.47" r="0.55" fill="#555"/>
<circle cx="567.89" cy="498.72" r="0.55" fill="#555"/>
<circle cx="576.00" cy="460.64" r="0.55" fill="#555"/>
<circle cx="570.97" cy="483.21" r="0.55" fill="#555"/>
<circle cx="578.93" cy="500.20" r="0.55" fill="#555"/>
<circle cx="578.68" cy="453.51" r="0.55" fill="#555"/>
<circle cx="582.75" cy="469.10" r="0.55" fill="#555"/>
<circle cx="579.17" cy="472.59" r="0.55" fill="#555"/>
<circle cx="573.31" cy="466.72" r="0.55" fill="#555"/>
<circle cx="602.82" cy="466.93" r="0.55" fill="#555"/>
<circle cx="573.27" cy="500.35" r="0.55" fill="#555"/>
<circle cx="503.14" cy="493.27" r="0.55" fill="#555"/>
<circle cx="510.40" cy="517.08" r="0.55" fill="#555"/>
<circle cx="529.76" cy="554.11" r="0.55" fill="#555"/>
<circle cx="550.33" cy="527.66" r="0.55" fill="#555"/>
<circle cx="528.55" cy="526.34" r="0.55" fill="#555"/>
<circle cx="585.42" cy="421.86" r="0.55" fill="#555"/>
<circle cx="599.94" cy="419.21" r="0.55" fill="#555"/>
<circle cx="643.50" cy="429.79" r="0.55" fill="#555"/>
<circle cx="628.98" cy="466.82" r="0.55" fill="#555"/>
<text x="508.00" y="425.60" font-size="7.4" fill="#111">p−value = 0.014</text>
<text x="508.00" y="433.50" font-size="7.4" fill="#111">R = 0.18</text>
<text x="574.10" y="584.10" font-size="8.3" fill="#111" text-anchor="middle">log2(MYC TPM)</text>
<text x="477.40" y="487.30" font-size="8.3" fill="#111" text-anchor="middle" transform="rotate(-90 477.40 487.30)">log2(ENO1 TPM)</text>
<text x="6.30" y="428.50" font-size="14.6" fill="#000">F</text>
<text x="232.60" y="426.70" font-size="14.6" fill="#000">G</text>
<text x="450.50" y="428.70" font-size="14.6" fill="#000">H</text>
</svg>
</body></html>
